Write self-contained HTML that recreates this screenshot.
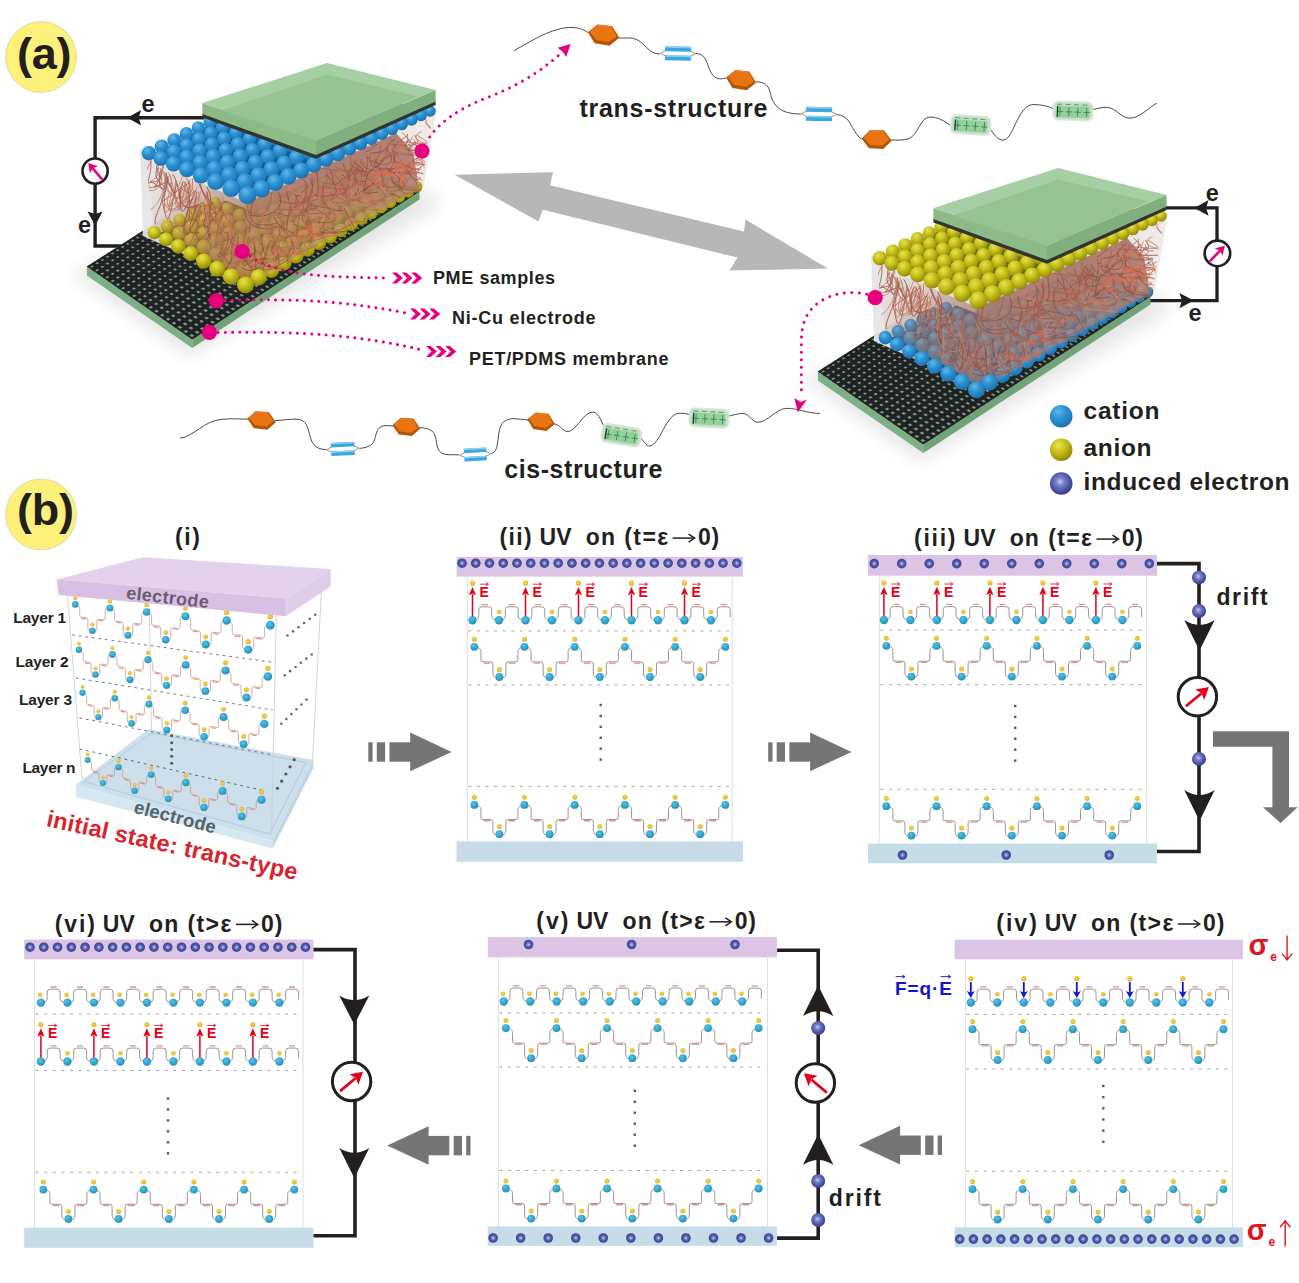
<!DOCTYPE html>
<html><head><meta charset="utf-8"><title>figure</title>
<style>html,body{margin:0;padding:0;background:#fff}svg{display:block}text{font-family:"Liberation Sans",sans-serif}</style></head>
<body><svg width="1299" height="1283" viewBox="0 0 1299 1283">
<defs>
<radialGradient id="gb" cx="40%" cy="35%" r="70%"><stop offset="0" stop-color="#5cc2e2"/><stop offset="0.6" stop-color="#2fa3cb"/><stop offset="1" stop-color="#258fb8"/></radialGradient>
<radialGradient id="gy" cx="45%" cy="40%" r="65%"><stop offset="0" stop-color="#f3d44a"/><stop offset="0.7" stop-color="#e6bd33"/><stop offset="1" stop-color="#d9a52c"/></radialGradient>
<radialGradient id="ge" cx="50%" cy="50%" r="50%"><stop offset="0" stop-color="#d4d8f4"/><stop offset="0.28" stop-color="#7f88cc"/><stop offset="0.6" stop-color="#4a53a6"/><stop offset="1" stop-color="#3c4595"/></radialGradient>
<radialGradient id="ge2" cx="45%" cy="42%" r="58%"><stop offset="0" stop-color="#c9cdf0"/><stop offset="0.3" stop-color="#7a83c8"/><stop offset="0.75" stop-color="#4750a4"/><stop offset="1" stop-color="#353d8a"/></radialGradient>
<filter id="blur8" x="-20%" y="-20%" width="140%" height="140%"><feGaussianBlur stdDeviation="9"/></filter>
<clipPath id="clipmesh"><polygon points="86.9,266.5 192.3,339.4 419.5,191.6 312,123"/></clipPath>
<clipPath id="clipfib"><polygon points="146,156 247,199 433,113 421,190 246,287 152,231"/></clipPath>
<linearGradient id="gfl" gradientUnits="userSpaceOnUse" x1="152" y1="172" x2="236" y2="232"><stop offset="0" stop-color="#b17767" stop-opacity="0"/><stop offset="0.3" stop-color="#b17767" stop-opacity="0.16"/><stop offset="1" stop-color="#a9705f" stop-opacity="0.72"/></linearGradient><linearGradient id="gfr" gradientUnits="userSpaceOnUse" x1="333" y1="160" x2="348" y2="232"><stop offset="0" stop-color="#ad7a6c" stop-opacity="0.95"/><stop offset="0.45" stop-color="#ad7a6c" stop-opacity="0.88"/><stop offset="1" stop-color="#a8786b" stop-opacity="0.55"/></linearGradient><linearGradient id="gglass" gradientUnits="userSpaceOnUse" x1="140" y1="190" x2="250" y2="230"><stop offset="0" stop-color="#e5e4e4" stop-opacity="0.95"/><stop offset="1" stop-color="#f1efee" stop-opacity="0.9"/></linearGradient>
<radialGradient id="gB" cx="38%" cy="30%" r="78%"><stop offset="0" stop-color="#62b8ea"/><stop offset="0.4" stop-color="#2e94d4"/><stop offset="0.85" stop-color="#1e76b6"/><stop offset="1" stop-color="#175f98"/></radialGradient>
<radialGradient id="gY" cx="38%" cy="30%" r="78%"><stop offset="0" stop-color="#e6e352"/><stop offset="0.4" stop-color="#c9c21a"/><stop offset="0.85" stop-color="#98910c"/><stop offset="1" stop-color="#7a7406"/></radialGradient>
<g id="dmesh"><polygon points="70,272 190,356 440,205 430,190" fill="#000" opacity="0.10" filter="url(#blur8)"/>
<polygon points="86.9,266.5 192.3,339.4 192.3,347.9 86.9,275.5" fill="#7db085" />
<polygon points="192.3,339.4 419.5,191.6 419.5,199.6 192.3,347.9" fill="#70a478" />
<polygon points="86.9,266.5 192.3,339.4 419.5,191.6 312,123" fill="#82938a" />
<path d="M192.3,339.4L86.9,266.5 M197.55,335.99L92.1,263.19 M202.76,332.6L97.26,259.89 M207.94,329.22L102.4,256.62 M213.1,325.87L107.5,253.37 M218.22,322.54L112.58,250.13 M223.31,319.23L117.62,246.92 M228.37,315.94L122.63,243.72 M233.4,312.66L127.62,240.54 M238.4,309.41L132.57,237.38 M243.37,306.18L137.49,234.25 M248.31,302.97L142.39,231.13 M253.22,299.77L147.25,228.02 M258.1,296.6L152.09,224.94 M262.95,293.44L156.9,221.88 M267.77,290.3L161.67,218.83 M272.56,287.19L166.42,215.81 M277.33,284.09L171.14,212.8 M282.06,281.01L175.83,209.8 M286.77,277.94L180.5,206.83 M291.45,274.9L185.13,203.88 M296.1,271.87L189.74,200.94 M300.73,268.87L194.32,198.02 M305.32,265.88L198.88,195.12 M309.89,262.91L203.4,192.23 M314.43,259.95L207.9,189.36 M318.94,257.02L212.37,186.51 M323.43,254.1L216.82,183.68 M327.89,251.2L221.24,180.86 M332.32,248.31L225.63,178.06 M336.73,245.45L229.99,175.28 M341.11,242.6L234.33,172.51 M345.46,239.77L238.64,169.76 M349.79,236.95L242.93,167.03 M354.09,234.15L247.19,164.31 M358.36,231.37L251.43,161.61 M362.61,228.61L255.64,158.93 M366.84,225.86L259.82,156.26 M371.04,223.13L263.98,153.61 M375.21,220.41L268.12,150.97 M379.36,217.71L272.23,148.35 M383.48,215.03L276.32,145.75 M387.58,212.36L280.38,143.16 M391.66,209.71L284.41,140.59 M395.71,207.08L288.43,138.03 M399.73,204.46L292.41,135.49 M403.73,201.86L296.38,132.96 M407.71,199.27L300.32,130.45 M411.66,196.7L304.24,127.95 M415.59,194.14L308.13,125.47 M419.5,191.6L312,123" stroke="#1f2422" stroke-width="3.3" fill="none" clip-path="url(#clipmesh)"/>
<path d="M192.3,339.4L419.5,191.6 M186.24,335.21L413.32,187.65 M180.23,331.05L407.19,183.75 M174.29,326.94L401.13,179.88 M168.41,322.88L395.13,176.05 M162.58,318.85L389.19,172.26 M156.82,314.86L383.31,168.51 M151.11,310.91L377.49,164.79 M145.46,307L371.72,161.11 M139.86,303.13L366.02,157.47 M134.32,299.3L360.37,153.87 M128.84,295.51L354.78,150.3 M123.41,291.75L349.24,146.76 M118.04,288.04L343.76,143.27 M112.72,284.36L338.33,139.8 M107.45,280.71L332.96,136.37 M102.23,277.11L327.64,132.98 M97.07,273.53L322.37,129.62 M91.96,270L317.16,126.29 M86.9,266.5L312,123" stroke="#1f2422" stroke-width="3.9" fill="none" clip-path="url(#clipmesh)"/></g>
<g id="dglass"><polygon points="140,150 247,196 247,282 143,236" fill="url(#gglass)" /><polygon points="247,196 437,108 424,186 247,282" fill="#e9e5e3" opacity="0.8"/></g>
<clipPath id="clipbot"><polygon points="142.9,167.2 247.5,209.2 438,125 428.8,199 245.5,298.8 142.3,242.7"/></clipPath>
<g id="dbot"><polygon fill="currentColor" clip-path="url(#clipbot)" points="158.21,233.63 246.67,284.16 412.84,189.3 320.88,153.41"/><circle cx="359.92" cy="164.8" r="5.36"/><circle cx="351.45" cy="169.24" r="5.46"/><circle cx="373.43" cy="170.07" r="5.42"/><circle cx="342.74" cy="173.82" r="5.56"/><circle cx="364.94" cy="174.63" r="5.52"/><circle cx="387.41" cy="175.53" r="5.48"/><circle cx="333.77" cy="178.52" r="5.66"/><circle cx="356.2" cy="179.31" r="5.63"/><circle cx="378.88" cy="180.19" r="5.59"/><circle cx="401.86" cy="181.17" r="5.54"/><circle cx="324.55" cy="183.36" r="5.76"/><circle cx="347.2" cy="184.13" r="5.74"/><circle cx="370.12" cy="184.99" r="5.71"/><circle cx="393.31" cy="185.95" r="5.66"/><circle cx="416.8" cy="187" r="5.6"/><circle cx="315.06" cy="188.34" r="5.87"/><circle cx="337.95" cy="189.08" r="5.86"/><circle cx="361.09" cy="189.92" r="5.83"/><circle cx="384.51" cy="190.86" r="5.79"/><circle cx="408.22" cy="191.9" r="5.74"/><circle cx="305.29" cy="193.46" r="5.98"/><circle cx="328.43" cy="194.18" r="5.98"/><circle cx="351.81" cy="195" r="5.96"/><circle cx="375.46" cy="195.92" r="5.92"/><circle cx="399.4" cy="196.94" r="5.87"/><circle cx="272.07" cy="198.13" r="6.08"/><circle cx="295.25" cy="198.73" r="6.09"/><circle cx="318.64" cy="199.43" r="6.1"/><circle cx="342.27" cy="200.23" r="6.09"/><circle cx="366.15" cy="201.12" r="6.06"/><circle cx="390.32" cy="202.12" r="6.02"/><circle cx="215.09" cy="202.72" r="6.09"/><circle cx="261.47" cy="203.58" r="6.19"/><circle cx="284.92" cy="204.15" r="6.21"/><circle cx="308.57" cy="204.83" r="6.22"/><circle cx="332.44" cy="205.6" r="6.22"/><circle cx="356.57" cy="206.48" r="6.2"/><circle cx="380.97" cy="207.45" r="6.16"/><circle cx="203.62" cy="208.38" r="6.19"/><circle cx="227.02" cy="208.73" r="6.25"/><circle cx="250.56" cy="209.18" r="6.3"/><circle cx="274.28" cy="209.73" r="6.33"/><circle cx="298.2" cy="210.38" r="6.35"/><circle cx="322.34" cy="211.13" r="6.35"/><circle cx="346.72" cy="211.99" r="6.34"/><circle cx="371.36" cy="212.94" r="6.32"/><circle cx="191.81" cy="214.2" r="6.29"/><circle cx="215.51" cy="214.52" r="6.36"/><circle cx="239.34" cy="214.94" r="6.41"/><circle cx="263.35" cy="215.47" r="6.46"/><circle cx="287.54" cy="216.09" r="6.48"/><circle cx="311.94" cy="216.82" r="6.49"/><circle cx="336.58" cy="217.65" r="6.49"/><circle cx="361.48" cy="218.59" r="6.47"/><circle cx="179.66" cy="220.2" r="6.39"/><circle cx="203.66" cy="220.48" r="6.47"/><circle cx="227.8" cy="220.88" r="6.53"/><circle cx="252.1" cy="221.37" r="6.58"/><circle cx="276.57" cy="221.97" r="6.62"/><circle cx="301.24" cy="222.67" r="6.64"/><circle cx="326.15" cy="223.48" r="6.64"/><circle cx="351.3" cy="224.39" r="6.63"/><circle cx="167.16" cy="226.36" r="6.49"/><circle cx="191.48" cy="226.62" r="6.58"/><circle cx="215.93" cy="226.98" r="6.66"/><circle cx="240.52" cy="227.44" r="6.72"/><circle cx="265.28" cy="228.02" r="6.76"/><circle cx="290.24" cy="228.69" r="6.79"/><circle cx="315.41" cy="229.48" r="6.8"/><circle cx="340.84" cy="230.37" r="6.8"/><circle cx="154.3" cy="232.7" r="6.6"/><circle cx="178.95" cy="232.92" r="6.7"/><circle cx="203.71" cy="233.26" r="6.78"/><circle cx="228.61" cy="233.69" r="6.85"/><circle cx="253.67" cy="234.24" r="6.9"/><circle cx="278.92" cy="234.89" r="6.94"/><circle cx="304.37" cy="235.65" r="6.96"/><circle cx="330.07" cy="236.52" r="6.97"/><circle cx="166.05" cy="239.41" r="6.82"/><circle cx="191.14" cy="239.71" r="6.91"/><circle cx="216.36" cy="240.12" r="6.99"/><circle cx="241.72" cy="240.64" r="7.05"/><circle cx="267.27" cy="241.26" r="7.1"/><circle cx="293.02" cy="242" r="7.13"/><circle cx="318.99" cy="242.84" r="7.14"/><circle cx="178.21" cy="246.36" r="7.05"/><circle cx="203.75" cy="246.74" r="7.13"/><circle cx="229.43" cy="247.22" r="7.2"/><circle cx="255.28" cy="247.82" r="7.26"/><circle cx="281.33" cy="248.53" r="7.3"/><circle cx="307.6" cy="249.35" r="7.32"/><circle cx="190.78" cy="253.54" r="7.28"/><circle cx="216.79" cy="254" r="7.36"/><circle cx="242.96" cy="254.57" r="7.43"/><circle cx="269.31" cy="255.25" r="7.47"/><circle cx="295.87" cy="256.04" r="7.51"/><circle cx="203.78" cy="260.97" r="7.52"/><circle cx="230.27" cy="261.51" r="7.6"/><circle cx="256.94" cy="262.16" r="7.65"/><circle cx="283.81" cy="262.93" r="7.7"/><circle cx="217.22" cy="268.65" r="7.77"/><circle cx="244.22" cy="269.27" r="7.84"/><circle cx="271.4" cy="270.01" r="7.89"/><circle cx="231.12" cy="276.59" r="8.03"/><circle cx="258.63" cy="277.3" r="8.09"/><circle cx="245.5" cy="284.8" r="8.3"/></g>
<g id="dbotf"><circle cx="154.3" cy="232.7" r="6.6"/><circle cx="166.05" cy="239.41" r="6.82"/><circle cx="178.21" cy="246.36" r="7.05"/><circle cx="190.78" cy="253.54" r="7.28"/><circle cx="203.78" cy="260.97" r="7.52"/><circle cx="217.22" cy="268.65" r="7.77"/><circle cx="231.12" cy="276.59" r="8.03"/><circle cx="258.63" cy="277.3" r="8.09"/><circle cx="245.5" cy="284.8" r="8.3"/></g>
<g id="dfib"><g clip-path="url(#clipfib)">
<polygon points="247,203 396,133 413,152 419,188 246,285" fill="url(#gfr)" />
<polygon points="148,160 247,203 246,278 154,228" fill="url(#gfl)" />
<path d="M189.36,180.81C190.3,201.13 169.91,218.88 164.94,203.83 M231.67,202.97C235.82,226.06 233.81,235.94 206.02,250.42 M175.76,180.95C170.8,205.75 190.69,225.52 172.73,191.7 M205.58,207C203.38,228.08 213.24,243.23 223.9,232.27 M260.89,242.17C246.99,262.93 254.54,286.19 238.19,275.48 M321.51,185.6C331.76,191.39 296.24,202.09 334.46,194.16 M354.13,181.59C338.54,189.06 329.44,197.67 332.86,202.59 M328.65,212.8C326.69,232.34 332.31,235.95 310.68,233.4 M266.31,206.72C277.16,218.6 273.29,225.14 274.52,213.95 M417.23,135.22C425.56,141.79 442.77,146.52 392.56,140.78 M364.89,183.45C367.51,196.23 348.33,204.26 360.68,196.03 M304.22,234.26C294.97,254.1 284.35,260.25 317.52,245.23 M332.13,186.74C323.15,191.99 306.94,195.17 343.6,190.89 M372.34,179.3C361.26,201.39 395.19,212.11 359.78,201.25 M266.2,222.26C266.62,239.59 281.16,254.78 269.94,246.71 M278.95,238.7C274.93,252.94 253.19,260.43 275.56,253.3 M249.61,260.23C260.13,283.32 247.73,287.98 246.13,278.17 M402.46,133.13C416.01,141.71 398.41,152.92 394,145.75 M393.32,161.77C401.43,175.36 408.14,187.68 419.2,169.4 M357.94,175.25C355.76,191.42 334.06,205.82 355.01,181.58 M388.85,188.65C378.13,201.33 389.46,214.39 369.39,198.51 M307.56,232.99C304.8,253.47 297.51,262.93 276.61,246.09 M361.5,186.95C353.33,197.48 337.21,210.47 383.92,210.01 M274.88,225.92C286.33,235.58 270.63,239.67 299.02,243.92 M251.46,246.14C258.04,258.07 265.82,259.76 232.01,262.97 M404.01,174.59C418.8,188 379.94,191.15 421.3,184.57 M282.23,224.6C285.2,232.43 292.55,238.42 254.05,236.8 M407.48,134.22C405.24,141.7 417.12,147.44 422.34,145.75 M288.12,234.92C303.02,246.84 292.29,245.39 269.59,249.5 M363.25,160.92C362.15,176.46 359.61,184.49 339.19,181.1 M253.56,236.32C250.92,255.57 231.53,264.09 268.18,249.38 M304.45,225.8C293.5,238.43 324.17,250.19 304.21,248.68" stroke="#b86d58" stroke-width="1" fill="none" opacity="0.85" stroke-linecap="round"/>
<path d="M181.04,183.46C192.85,195.88 184.69,196.32 185.55,188.3 M165.06,172.75C164.96,194.76 177.25,206.95 187.41,191.78 M185.49,183.5C184.48,199.91 168.65,210.65 199.66,196.47 M207.35,214.95C208.44,232.13 213.35,245.12 222.57,240.09 M158.15,164.47C154.56,177.45 179.49,186.67 133.57,189.79 M170.04,174.84C178.09,200.98 173.74,216.47 179.7,202.5 M180.43,186.54C179.38,205.72 161.81,216.96 169.2,192.84 M162.53,166.6C157.37,182.6 141.08,184.04 150.33,186.81 M239.65,250.4C231.53,262.37 232.7,273.08 225.88,264.49 M184.89,181.73C185.59,209.86 164.18,223.28 192.8,193.71 M183.24,188.24C170.14,208.38 201.56,217.37 206.64,194.76 M232.98,233.15C228.22,252.61 245.4,259.35 217,265.62 M229.49,208.49C223,220.68 226.83,228.65 215.53,220.53 M189.6,186.45C182.51,224.98 196.35,251.82 168.6,218.18 M201.13,190.2C190.72,218.18 206.41,224.38 194.2,204.85 M246.09,238.98C252.56,263.8 242.31,259.42 260.17,267.14 M255.53,257.03C259.28,275.44 237.86,284.73 238.19,270.57 M335.89,212.1C340.67,216.61 310.02,223.88 311.33,219.13 M366.65,184.34C360.27,208.47 387.14,204.9 367.11,194.95 M310.58,178.91C325.15,197.51 334.35,207.27 315.44,189.11 M363.18,189.19C371.72,197.61 343.74,201.71 387.22,194.76 M293.52,226.39C300.48,254.84 305.12,261.13 284.07,240.44 M331.45,171.64C338.97,192.11 327.81,197.27 347,186.21 M408.32,144.49C421.05,147.75 395.38,151.22 421.81,153.34 M391.17,144.49C399.95,162.92 411.65,175.66 412.31,154.89 M294.29,231.73C307.2,248.52 272.71,264.79 312.84,244.51 M331.51,184.73C327.76,195.92 347.51,209.41 355.98,197.07 M340.26,179.04C354.17,185.34 335.56,198.34 317.38,192.4 M378.58,143.93C378.6,149.56 358.92,154.72 355.92,152.55 M355.2,183.94C361.76,197.9 357.7,209.4 353.26,195.74 M315.62,188.42C313.62,201.33 301.68,217.31 305.02,214.19 M250.87,245.54C247.77,267.01 229.95,267.64 236.57,265.13 M375.95,187.18C362.04,202.78 372.22,208.97 402.66,194.44 M342.96,210.96C341.13,219.51 328.77,234.41 324.41,226.84 M264.21,246.43C278.57,261.23 278.51,263.79 281.45,252.69 M255.63,201.58C254.38,214.47 236.68,242.55 229.91,237.03 M338.23,190.03C348.11,199.66 330.73,206.12 344.66,194.62 M283.43,235.57C282.45,261.8 273.78,262.91 282.4,248.58 M265.41,239.81C262.34,251.08 242.53,254.26 259.79,254.21 M264.64,205.23C259.63,231.38 275.89,244.13 294.57,213.03 M401.32,172.39C393.18,187.62 426.73,200.51 415.67,199.86 M292.29,232.18C295.09,253.9 318.26,255.91 308.35,250.41 M414.32,139.81C413.07,145.15 432.41,154.39 384.08,149.05 M366.39,158.7C353.06,172.75 341.31,186.27 390.69,182.69" stroke="#c07a66" stroke-width="1" fill="none" opacity="0.85" stroke-linecap="round"/>
<path d="M158.34,167.76C148.25,180.8 172.25,188.1 162.65,188.18 M172.94,174.62C185.14,192.42 175.5,231.01 189.75,199.42 M196.41,204.7C193.81,220.66 180.43,235.91 199.06,232.53 M231.63,234.07C232.1,255.75 210.91,262.05 219.99,252.55 M203.87,203.83C208.11,239.75 216.3,253.8 202.71,220.14 M198.95,183.71C206.91,201.73 214.62,217.45 218.1,213.39 M227.52,231.92C231.8,249.44 212.08,265.48 224.16,244.76 M244.99,209.75C242.17,224.67 261.86,230.46 271.26,228.58 M278.43,192.41C287.55,209.6 268.12,219.39 249.95,215.17 M274,245.29C262.88,257.06 295.83,260.77 259.2,258.2 M361.44,169.27C363.94,192.44 340.88,206.65 369.54,185.38 M269.66,241.19C264.56,255.33 261.91,279.22 241.48,267.72 M368.16,172.54C363.73,190.72 358.82,198.36 375.86,180.32 M398.13,151.94C384.88,163.19 405.21,163.16 404.97,165.51 M394.93,138.81C383.84,146.92 390.54,152.3 369.62,153.32 M303.71,179.9C317,193.76 278.2,199.31 306.24,194.59 M392.65,150.19C401.38,166.22 379.46,175.58 392.23,169.85 M353.5,165.09C340.92,182.57 358.34,197.31 330.46,194.3 M409.43,163.19C401.11,166.86 431.32,172.82 389.63,172.56 M343.03,163.7C344.95,175.74 362.78,187.89 342.2,175.03 M368.35,186.72C364.19,190.86 358.5,195.37 378.08,192.07 M290.4,206.15C284.45,230.79 289.59,242.08 274.39,217.47 M254.13,243.78C255.58,274.45 261.28,279.99 238.51,253.46 M382.15,184.39C386.46,196.11 404.34,195.76 399.91,198.4 M366.76,154.5C370.94,176.76 352.33,186.59 378.7,164.26 M344.54,208.69C352.19,223.95 358.24,241.39 364.86,218.36 M417.8,153.56C429.52,158.35 398.91,160.81 420.11,162.72 M261.98,234.11C258.84,262.97 281.39,257.18 250.55,261.22 M329.5,217.69C318.15,231.75 308.09,236.51 352.71,230.18 M326.27,174C335.78,187.65 347.73,198.7 313.95,195.87 M358.03,171.6C353.88,179.21 347.38,181.4 367.28,181.45 M252.26,238.22C266.12,266.1 228.86,273.71 249.11,255.88 M354.64,162.83C363.59,168.66 369.65,175.54 355.36,168.99 M386.94,148.42C393.45,158.48 361.09,182.46 358.09,167.14" stroke="#8e4b3c" stroke-width="1" fill="none" opacity="0.85" stroke-linecap="round"/>
<path d="M230.69,227.75C231.35,247.68 240.78,248.64 256.04,235.71 M206.4,192.92C217.7,221.37 223.68,219.88 203.63,212.85 M192.51,178.87C192.58,191.73 192.72,198.24 180.06,187.6 M213.32,202.22C202.35,224.87 228.87,222.38 234.06,226.28 M151.07,160.78C141.59,177.14 142.98,199.06 124.77,188.54 M167.79,177.23C162.24,198.81 163.08,230.46 172.5,198.92 M229.93,214.82C227.29,228.9 232.32,228.59 207.79,232.88 M163.5,171.93C165.33,177.69 172.96,193.18 170.18,183.17 M205.56,205.88C209.98,231.46 193.54,226.69 197.01,223.87 M223.36,200.66C218.69,226.09 222.24,237.9 210.05,227.3 M197.33,198.41C188.37,216.8 179.95,221.45 203.9,211.54 M230.76,220.9C227.99,232.59 236.88,234.21 213,236.28 M300.18,235.37C312.52,259.8 313.03,262.24 287.13,261.05 M369.38,185.66C365.12,193.89 386,198.84 342.3,196.05 M318.88,192.3C331,203.45 303.6,219.34 343.92,213.74 M259.35,254.31C261.86,266.04 249.14,282.11 287.66,286.64 M331.11,173.1C340.42,187.24 338.51,209.91 350.75,184.4 M331.47,180.34C341.89,192.58 349.71,199.83 323.75,190.66 M285.38,189.42C287.83,204.99 269.03,208.08 303.16,197.28 M331.32,193.57C329.3,209.58 334.13,227.9 318.4,220.58 M283.46,196.93C285.25,208.21 281.29,214.85 309.04,200.78 M392.58,143.24C396.28,156.7 405.53,172.75 421.15,169.26 M272.74,226.14C282.91,253.56 266.96,256.53 293.94,248.27 M425.01,122.42C435.58,132.73 442.85,137.14 455.33,129.58 M252.55,240.76C245.49,253.43 274.62,262.35 236.99,254.43 M247.11,251.41C261.55,270.57 242.84,286.4 270.37,273.83 M350.3,191.85C351.96,198.58 357.93,206.12 381.32,202.1 M316.7,170.87C312.43,187.62 336.02,199.59 326.14,205.59 M263.56,212.01C261.79,240.17 279.42,239.29 254.38,242.52 M352.59,174.09C343.62,186.41 332.98,189.29 355.25,181.06 M348.03,175.99C334.48,186.59 333.8,191.71 361.55,185.89 M397.97,156.66C409.3,174.01 381.14,175.18 416.65,173.66 M313.75,209.55C302.4,225.92 331.32,225.76 286.15,215.71 M256.43,237.03C243.75,250.77 237.85,275.56 230.84,267.96 M297.68,199.03C305.33,209.48 293.62,221.27 290.38,206.75 M425.77,119.49C426.08,133.3 451.49,136.64 433.85,137.89 M382.86,159.73C395.38,174.32 358.19,180.28 380.53,171.98" stroke="#c8705a" stroke-width="1" fill="none" opacity="0.85" stroke-linecap="round"/>
<path d="M213.98,209.4C225.72,228.13 221.2,231.59 224.61,234.43 M211.59,206.04C200.25,227.5 206.14,258.13 235.64,242.25 M163.72,173.44C170.15,188.75 148.71,226.91 138.78,203.52 M160.45,168.68C167.75,196.59 140.95,195.58 136.28,179.15 M211.15,213.46C214.12,242.07 211.68,266.03 208.63,245.89 M197.18,187.3C187.14,209.6 178.49,219.6 213.65,210.27 M168.64,172.76C181,197.96 149.86,226.33 191.25,201.54 M244.84,215.4C245.43,229.53 264.27,238.17 252.62,233.29 M222.8,196.9C224.99,207.08 210.64,216.69 196.95,205.99 M351.31,177.93C349.39,186.31 357.49,201.97 334.79,199.74 M358.02,198.93C350.66,207.82 365.56,226.18 348.68,219.76 M257.79,237.08C257.11,262.49 251.3,275.56 283.52,248.88 M420.91,153.46C423.84,170.75 426.39,170.1 426,170.02 M341.92,164.35C348.69,178.61 349.16,192.5 343.27,177.9 M340.02,201.3C341.74,210.85 326.2,216.4 339.59,206.75 M384.09,187.04C388.04,201.94 389.09,210.22 366.15,203.9 M402.76,165.65C396.91,178.76 426.56,189.7 409.56,175.55 M357.67,194.54C352.84,202.48 332.74,203.34 388.28,207.21 M396.04,166.13C406.12,176.3 402.71,179.07 378.67,170.76 M347.88,163.95C345.13,176.27 335.98,199.93 337.55,174.85 M412.59,136.79C402.61,150.84 423.59,151.52 386.33,142.33 M311.54,187.18C320.25,212.71 315.51,226.78 298.53,197.13 M413.92,147.42C426.88,158.63 402.17,167.26 428.92,155.6 M295.7,239.07C285.05,246 315,257.03 268.37,249.67 M397.1,168.9C392.52,177.52 402.07,184.04 366.33,181.09 M358.58,182.79C349.36,195.62 367.69,203.29 389.65,194.7 M302.48,183.63C291.91,194.59 306.08,199.86 306.07,188.59 M404.03,178.12C393.34,186.68 408.25,190.45 415.76,184.42 M415.91,172.55C402.18,185.73 421.58,188.62 420.35,192.42 M309.34,182.74C318.71,190.98 292.82,211.04 320.54,196.07 M291.43,216.55C278.13,229.02 313.52,246.55 279.22,231.78 M387.07,153.94C385.61,165.67 388.28,185.04 364.1,159.47 M368.41,150.99C375.16,163.5 371.45,176.14 364.82,169.26 M381.11,140.77C391.2,144.41 366.54,150.66 362.43,144.98 M318.07,211.97C308.09,224.5 298.54,223.7 341.78,226.61 M383.79,177C374.48,184.28 360.4,192.44 404.6,193.09 M377.28,145.46C392.35,150.47 383.43,161.34 396.92,152.87" stroke="#b98878" stroke-width="1" fill="none" opacity="0.85" stroke-linecap="round"/>
<path d="M221.48,207.1C212.27,223.8 200.01,236.26 204.7,218.4 M168.12,176.76C167.7,195.53 150.62,220.86 155.7,224.01 M209.63,214.64C220.13,227.42 223.49,233.07 226.9,232.92 M200.49,184.46C204.96,203.08 217.96,203.09 211.9,204.05 M206.8,187.25C219.26,206.44 196.49,221.21 221.53,209.92 M232.74,236.54C230.26,260.98 233.39,275.11 223.61,254.74 M183.2,181.49C177.38,195.86 177.27,217.73 203.06,202.26 M238.15,236.54C238.79,252.8 231.03,257.75 226.4,268.96 M234.42,241.19C224.36,248.88 255.23,259.71 257.13,250.89 M195.74,190.78C186.67,209.63 177.72,240.81 188.6,234.04 M393.32,176.96C388.91,185.58 409.04,193.07 403.12,181.11 M409.21,139.66C398.5,152.13 408.32,150.19 431.59,150.24 M391.59,175.97C388.61,182.12 400.95,193.58 422.36,189.37 M286.78,191.74C288.94,205.7 299.48,222.4 278.41,212.94 M386.35,167.88C401.14,178.32 403.38,180.68 392.96,183.61 M305.05,191.7C313.27,203.17 294.06,203.05 329.43,208.19 M387.05,149.91C399.06,162.53 385.83,171.36 367.65,157.87 M395.69,151.91C388.94,158.03 371.51,166.51 385.8,156.65 M377.79,144.05C368.37,148.98 371.59,150.86 365.99,151.81 M310.48,178.76C316.29,194.84 309.59,209.05 279.65,201.06 M415.54,142.13C404.37,150.71 406.89,158.2 418.55,154.05 M323.81,183.45C321.35,197.14 320.62,212.62 344.16,210.39 M316.68,170.68C318.79,188.69 318.91,201.36 312.21,191.84 M375.96,160.74C387.93,178.76 376.16,190.37 395.26,186.74 M309.21,219.32C295.72,232.2 329.96,237.5 294.08,224.51 M252.63,201.68C248.08,218.46 248.76,229.49 276.3,223.38 M367.96,178.91C379.91,187.3 387.91,195.82 385.42,197.36 M329.83,169.33C335.92,180.78 328.71,192.88 345.98,176.31 M312.12,203.01C307.13,212.06 287.05,216.3 316.53,207.55 M277.67,244.9C277.62,263.78 286.77,267.93 259.64,270.71 M376.83,158.98C367.92,171.23 385.43,170.68 406.42,166.3 M334.02,212.82C333.65,220.87 337.68,224.55 317.12,222.08 M406.49,167.01C410.4,182.83 421.39,181.35 420.06,177.5" stroke="#96503f" stroke-width="1" fill="none" opacity="0.85" stroke-linecap="round"/>
<path d="M198.36,191.56C203.39,213.29 203.54,230.74 174.81,227.39 M208.53,203.32C200.17,208.97 221.69,216.47 207.13,217.9 M182.32,176.84C171.6,203.05 167.48,212.17 167.73,203.85 M216.91,209.81C221.46,220.96 230.27,240.47 192.46,215.31 M210.22,193.16C199.82,218.4 207.23,225.07 227.89,211.46 M228.23,226.65C231.37,240.16 242.53,263.99 228.92,246.37 M185.99,177.52C199.03,195.65 204.32,220.08 163.53,187.52 M249.18,236.82C236.36,257.77 242.46,267.77 227.08,251.45 M276.64,249.96C264.89,265.47 298.75,274.21 261.87,255 M399.96,142.09C390.35,148.35 405.23,152.57 421.92,153.96 M414.09,175.02C406.47,181.19 435.03,189.82 435.13,178.1 M290.42,185.08C280.03,190.35 314.29,203.47 315.46,189.35 M421.24,131.91C405.97,137.42 424.62,147.22 447.47,145.86 M319.97,211.91C311.26,233.48 312.12,256.67 316.39,229.98 M421.32,159.19C436.3,165.05 400.98,168.18 417.22,162.73 M361.21,171.65C360.57,185.48 354.58,192.57 368.13,200.94 M403.2,143.16C395.44,149.23 406,151.37 407.73,146.4 M408.56,156.56C417.93,166.2 408.73,180.3 429.69,181.72 M293.18,193C295.72,202.07 268.27,209.93 311.94,201.85 M326.07,222.52C331.4,228.03 314.28,233.87 311.22,230.79 M390.79,148.37C377.44,169.44 382.55,170.42 412.83,159.05 M263.85,245.32C267.87,267.06 288.76,295.82 271.63,258.26 M295.45,184.48C292.58,192.43 288.31,192.82 307.19,194.42 M371.99,152.98C357.7,161.22 361.26,161.47 377.11,158.2 M305.64,190.12C298.04,211.82 294.38,216.26 336.1,216.08 M392.35,187.16C380.17,197.86 372.63,205.43 374.73,194.39" stroke="#d27f68" stroke-width="1" fill="none" opacity="0.85" stroke-linecap="round"/>
<path d="M195.89,190.73C184.34,198.01 183.08,205.95 187.45,196.01 M200.96,209.66C197.38,232.04 188.94,248.84 185.35,247.81 M187.79,181.36C197.87,198.97 171.94,212.99 213.23,204.4 M220.89,203.12C220,216.45 238.21,229.82 246.13,238.34 M221.81,213.39C211.06,248.74 216.74,260.03 218.22,234.63 M166.47,173.13C166.08,203.77 146.95,211.95 188.75,183.01 M185.02,182.5C197.27,204.04 178.71,240.81 202.02,211.63 M157.48,163.46C151.07,177.15 175.02,179.79 145.46,183.09 M246.99,205.1C255.3,237.09 242.99,242.21 253.38,216.93 M397.87,142.06C398.43,148.96 378.27,152.56 411.9,154.93 M314.57,183.04C307.65,193.66 308.17,207.67 299.87,201.7 M349.86,164.5C353.67,168.94 374.69,176.39 320.59,168.12 M383.3,171.29C390.97,185.34 358.93,189.73 358.24,182.93 M344.6,169.56C354.58,182.13 318.67,193.1 360.96,201.62 M283.61,227.34C271.83,246.61 276.09,242.76 269.53,239.98 M274.38,208.8C276.39,220.22 297.39,231.49 264.71,225.26 M390.94,137.84C392.36,146.12 380.56,153.23 371.59,161.72 M348.73,169.87C343.06,179.33 356.1,191.16 320.94,181.87 M380.57,145.09C379.34,163.6 367.78,173.57 394.12,150.15 M355.45,169.4C351.61,182.92 360.75,193.35 374.64,178.38 M272.07,230.59C272.41,244.42 287.13,261.52 258.75,243.53 M385.57,147.57C389.57,152.64 375.58,155.32 397.56,155.44 M329.01,166.14C321,177.38 335.2,189.02 317.27,187.18 M305.85,187.35C303.37,202.72 331.72,214.23 277.56,217.68 M356.7,159.77C342.01,167.63 379.99,180.54 354.68,172.42 M309.21,200.34C321.4,213.74 333.11,219.92 316.71,209.39 M304.73,197.25C308.27,207.05 315.1,211.86 278.41,209 M409.28,171.71C412.04,181.16 435.14,195.21 394.85,184.06 M417.6,158.27C431.89,167.97 410.37,174.21 405.82,163.56 M360.55,162.97C358.93,171.16 349.25,172.85 335.56,167.28 M414.63,135.5C419.28,143.25 423.94,147.88 387.02,143.69 M307.35,214.78C322.37,235.91 293.31,249.71 326.91,235.71 M336.03,192.87C331.83,198.8 319.25,209.38 362.33,198.09 M308.41,215.95C299.46,234.24 329.26,236.11 290.44,236.07 M339.26,207.17C353.93,232.72 363.8,233 312.57,234 M338.99,205.84C349.03,214.89 346.3,224.56 363.58,221.11 M320.93,195.84C320.66,215.54 337.82,231.36 335.94,214.32 M350.49,157.7C349.95,166.78 360.42,181.28 355.73,185.37 M345.92,185.37C339.82,201.03 361.62,209.15 330.76,193.09 M283.25,225.59C289.79,240.48 305.63,257.95 280.53,256.36 M277.8,236.64C279.65,244.24 280.48,260.09 283.77,249.08" stroke="#a9614f" stroke-width="1" fill="none" opacity="0.85" stroke-linecap="round"/>
<path d="M207.16,191.99C212.18,232.29 218.52,233.45 214.71,206.51 M208.07,216.48C216.68,230.29 197.15,242.9 194.37,239.27 M196.96,192.03C193.42,206.66 195.14,223.91 190.85,211.19 M246.56,225.68C234.5,259.64 265.84,286.96 233.99,243.57 M161.65,170.06C150.68,189.85 177.96,197.58 150.14,180.87 M163.51,166.31C160.25,188.16 143.75,191.72 165.17,182.76 M151.01,160.9C151.94,189.67 131.91,208.51 137.92,172.76 M201.29,204.62C189.38,236.57 184.89,241.59 193.03,222.96 M176.56,183.78C168.78,219.37 168.28,233.3 162.35,200.88 M166.26,173.81C173.91,200.47 180.11,197.75 166.08,181.1 M401.32,174.37C395.83,185.73 399.02,199.84 418.67,190.88 M279.87,247.31C292.85,257.81 294.86,279.09 252.76,260.5 M292.2,241.15C300.45,256.28 275.39,271.52 264.01,266 M248.73,237C239.36,263.51 249.1,280.23 268.29,251.91 M291.27,239.53C296.19,255.88 273.12,267.85 278.92,257.53 M281.28,225.73C277.8,230.82 276.03,242.99 293.35,235.37 M406.54,164.39C409.65,173.71 388.88,175.45 418.76,172.74 M360.79,159.39C358.35,168.64 383.18,175.45 384,167.6 M332.5,172.54C346.67,186.48 348.2,204.87 349.86,193.05 M293.73,193.24C309.27,210.79 272.81,211.04 318.46,198.9 M307.59,185.81C304.36,206.59 290.03,217.74 296.61,198.36 M308.75,218.88C314.3,239.07 304.42,245.23 286.31,228.41 M349.37,167.87C362.65,182.59 353.29,194.78 325.15,186.66 M370.37,153.75C367.44,167.08 380.26,173.83 369.54,161.51 M353.58,160.92C366.15,170.6 337.95,184.76 358.06,168.69 M271.94,191.79C270.24,214.93 261.66,219.56 244.88,209.26 M312.07,176.35C317.05,204.02 289.81,218.19 322.32,212.79 M304.75,197.38C301.94,221.01 298.25,227.09 314.92,219.8 M301.24,209.94C293.92,229.68 302.55,244.01 275.58,221.45 M406.02,136.21C390.61,148.99 394.3,148.39 394.35,142.71 M331.19,212.83C318.35,222.71 319.29,243.16 352.74,223.03" stroke="#a35a48" stroke-width="1" fill="none" opacity="0.85" stroke-linecap="round"/>
<path d="M383.54,184.15C374.88,185.46 371.72,185.43 381.11,185.83 M366.52,183.85C382.28,177.45 381.4,172.86 377.7,175.73 M273.57,252.01C286.08,253.31 278.83,254.9 300.76,254.05 M400.81,185.66C397.02,171.4 417.24,166.93 392.1,163.38 M297.48,235.53C312.03,236.92 285.77,237.64 304.96,238.13 M394.79,177.7C382.04,171.62 369.77,168.82 392.33,175.3 M312.6,237.2C309.27,226.7 297.1,223.74 321.75,227.97 M397.95,173.69C385.98,167.34 416.91,158.61 431.11,167.73 M310.34,234.87C323.18,236.97 303.8,236.5 335.79,235.63 M300.3,230.67C306.65,229.09 314.38,228.57 312.26,230.06 M377.15,180.84C371.07,176.31 364.9,172.66 392.22,173.02 M401.91,182.89C401.67,168.09 372.99,157.11 429.85,176.12" stroke="#e0684a" stroke-width="1.4" fill="none" opacity="0.85" stroke-linecap="round"/>
</g></g>
<g id="dtop"><polygon fill="currentColor" points="153.01,154.05 248.65,194.79 425.68,113.12 316.07,70.44"/><circle cx="430" cy="111" r="5.8"/><circle cx="420.86" cy="115.22" r="5.96"/><circle cx="221.02" cy="116.22" r="6.4"/><circle cx="411.46" cy="119.55" r="6.13"/><circle cx="233.79" cy="121.44" r="6.55"/><circle cx="209.84" cy="121.95" r="6.54"/><circle cx="401.78" cy="124.02" r="6.29"/><circle cx="247.23" cy="126.94" r="6.71"/><circle cx="222.49" cy="127.16" r="6.7"/><circle cx="198.33" cy="127.85" r="6.68"/><circle cx="391.83" cy="128.61" r="6.47"/><circle cx="235.8" cy="132.64" r="6.86"/><circle cx="261.37" cy="132.72" r="6.87"/><circle cx="210.86" cy="133.04" r="6.85"/><circle cx="381.59" cy="133.33" r="6.65"/><circle cx="186.5" cy="133.92" r="6.83"/><circle cx="371.06" cy="138.19" r="6.83"/><circle cx="249.82" cy="138.4" r="7.04"/><circle cx="224.05" cy="138.5" r="7.03"/><circle cx="276.26" cy="138.81" r="7.05"/><circle cx="198.9" cy="139.09" r="7.01"/><circle cx="174.32" cy="140.17" r="6.98"/><circle cx="360.22" cy="143.19" r="7.02"/><circle cx="237.93" cy="144.25" r="7.21"/><circle cx="264.57" cy="144.48" r="7.22"/><circle cx="211.96" cy="144.54" r="7.19"/><circle cx="291.93" cy="145.22" r="7.23"/><circle cx="186.6" cy="145.32" r="7.17"/><circle cx="161.79" cy="146.59" r="7.14"/><circle cx="349.07" cy="148.34" r="7.22"/><circle cx="225.71" cy="150.27" r="7.39"/><circle cx="252.55" cy="150.3" r="7.41"/><circle cx="199.52" cy="150.75" r="7.37"/><circle cx="280.1" cy="150.87" r="7.42"/><circle cx="173.94" cy="151.73" r="7.34"/><circle cx="308.43" cy="151.97" r="7.42"/><circle cx="148.9" cy="153.2" r="7.3"/><circle cx="337.6" cy="153.63" r="7.42"/><circle cx="240.18" cy="156.3" r="7.6"/><circle cx="213.13" cy="156.46" r="7.57"/><circle cx="267.93" cy="156.67" r="7.61"/><circle cx="186.72" cy="157.13" r="7.54"/><circle cx="296.45" cy="157.6" r="7.62"/><circle cx="160.91" cy="158.32" r="7.51"/><circle cx="325.8" cy="159.08" r="7.63"/><circle cx="227.45" cy="162.47" r="7.79"/><circle cx="255.41" cy="162.65" r="7.81"/><circle cx="200.19" cy="162.82" r="7.76"/><circle cx="284.12" cy="163.38" r="7.83"/><circle cx="173.56" cy="163.7" r="7.73"/><circle cx="313.66" cy="164.68" r="7.84"/><circle cx="242.52" cy="168.8" r="8.02"/><circle cx="214.35" cy="168.81" r="7.99"/><circle cx="271.44" cy="169.33" r="8.04"/><circle cx="186.87" cy="169.37" r="7.95"/><circle cx="301.17" cy="170.44" r="8.06"/><circle cx="229.27" cy="175.12" r="8.23"/><circle cx="200.88" cy="175.34" r="8.2"/><circle cx="258.39" cy="175.46" r="8.26"/><circle cx="288.32" cy="176.37" r="8.28"/><circle cx="215.63" cy="181.63" r="8.45"/><circle cx="244.97" cy="181.76" r="8.49"/><circle cx="275.1" cy="182.47" r="8.52"/><circle cx="231.16" cy="188.24" r="8.72"/><circle cx="261.49" cy="188.74" r="8.75"/><circle cx="247.5" cy="195.2" r="9"/></g>
<g id="dplate"><polygon points="202.4,113.5 316,154.5 435.6,101.1 435.6,105 316,158.8 202.4,117.5" fill="#333431" />
<polygon points="202.4,103 316,141 316,155 202.4,114" fill="#8cbb88" />
<polygon points="316,141 435.6,90 435.6,101.6 316,155" fill="#7fb07e" />
<polygon points="202.4,103 327,63 435.6,90 316,141" fill="#a6d0a3" />
<polygon points="222,110.5 327,74.5 418,96.5 316,141" fill="#95c492" /></g>


</defs>
<rect width="1299" height="1283" fill="#fff"/>
<circle cx="41.1" cy="57" r="35.4" fill="#fdf17c" stroke="#d9d19c" stroke-width="0.8"/>
<text x="17.1" y="68.8" font-size="45" font-weight="bold" fill="#231f20" text-anchor="start" textLength="54.5" lengthAdjust="spacing" >(a)</text>
<polygon points="454.6,174.7 553,172.2 550,185.2 744,231.5 745.5,219.6 828,268.5 729.6,270.6 737.5,257.6 542.9,209.8 538.5,221.4" fill="#b7b7b7" />
<path d="M204,117.7H95.1V246H150" stroke="#231f20" stroke-width="3.4" fill="none" />
<g transform="translate(0,0)">
<use href="#dmesh"/>
<use href="#dglass"/>
<use href="#dbot" fill="url(#gY)" color="#6f6a08"/>
<use href="#dfib"/>
<use href="#dbotf" fill="url(#gY)"/>
<use href="#dtop" fill="url(#gB)" color="#155a8c"/>
<use href="#dplate"/>
</g>
<polygon points="127.2,117.7 141.2,110 138.6,117.7 141.2,125.4" fill="#231f20" />
<polygon points="95.1,225.7 87.6,211.4 95.1,214 102.6,211.4" fill="#231f20" />
<circle cx="95.1" cy="171.1" r="12.6" fill="#fff" stroke="#231f20" stroke-width="2.6"/>
<line x1="102.07" y1="179.4" x2="92.68" y2="168.22" stroke="#e6007e" stroke-width="2.6" />
<polygon points="88.3,162.99 98.02,166.35 92.72,168.26 89.91,173.15" fill="#e6007e" />
<text x="141.4" y="111.6" font-size="23.5" font-weight="bold" fill="#231f20" text-anchor="start" textLength="13.4" lengthAdjust="spacing" >e</text>
<text x="78" y="233.2" font-size="23.5" font-weight="bold" fill="#231f20" text-anchor="start" textLength="13.4" lengthAdjust="spacing" >e</text>
<path d="M1166,207.9H1217V300.6H1150" stroke="#231f20" stroke-width="3.3" fill="none" />
<g transform="translate(731,105)">
<use href="#dmesh"/>
<use href="#dglass"/>
<use href="#dbot" fill="url(#gB)" color="#155a8c"/>
<use href="#dfib"/>
<use href="#dbotf" fill="url(#gB)"/>
<use href="#dtop" fill="url(#gY)" color="#6f6a08"/>
<use href="#dplate"/>
</g>
<polygon points="1194.3,207.9 1208.6,200 1206,207.9 1208.6,215.8" fill="#231f20" />
<polygon points="1193.7,300.6 1179.4,292.9 1182,300.6 1179.4,308.3" fill="#231f20" />
<circle cx="1217.4" cy="253.4" r="12.8" fill="#fff" stroke="#231f20" stroke-width="2.6"/>
<line x1="1209.75" y1="261.32" x2="1220.03" y2="250.67" stroke="#e6007e" stroke-width="2.6" />
<polygon points="1224.87,245.67 1222.51,255.85 1220.01,250.69 1214.78,248.38" fill="#e6007e" />
<text x="1205.8" y="200.9" font-size="23.5" font-weight="bold" fill="#231f20" text-anchor="start" textLength="13.4" lengthAdjust="spacing" >e</text>
<text x="1188.5" y="320.6" font-size="23.5" font-weight="bold" fill="#231f20" text-anchor="start" textLength="13.4" lengthAdjust="spacing" >e</text>
<circle cx="242.1" cy="251.5" r="7.6" fill="#e6007e" />
<circle cx="216.4" cy="300.6" r="7.6" fill="#e6007e" />
<circle cx="209.4" cy="332.4" r="7.6" fill="#e6007e" />
<circle cx="422" cy="151" r="7.6" fill="#e6007e" />
<circle cx="875.2" cy="297.7" r="7.6" fill="#e6007e" />
<path d="M250,256 C275,272 300,277 388,278" stroke="#e6007e" stroke-width="3" fill="none" stroke-linecap="round" stroke-dasharray="0.01 7.2"/>
<path d="M225,300.6 C300,298 350,302 406,313" stroke="#e6007e" stroke-width="3" fill="none" stroke-linecap="round" stroke-dasharray="0.01 7.2"/>
<path d="M218,332.6 C300,331 360,335 422,350" stroke="#e6007e" stroke-width="3" fill="none" stroke-linecap="round" stroke-dasharray="0.01 7.2"/>
<polygon points="392,272.4 396.6,272.4 403,278 396.6,283.6 392,283.6 397.6,278" fill="#e6007e" />
<polygon points="401.6,272.4 406.2,272.4 412.6,278 406.2,283.6 401.6,283.6 407.2,278" fill="#e6007e" />
<polygon points="411.2,272.4 415.8,272.4 422.2,278 415.8,283.6 411.2,283.6 416.8,278" fill="#e6007e" />
<polygon points="410,308.4 414.6,308.4 421,314 414.6,319.6 410,319.6 415.6,314" fill="#e6007e" />
<polygon points="419.6,308.4 424.2,308.4 430.6,314 424.2,319.6 419.6,319.6 425.2,314" fill="#e6007e" />
<polygon points="429.2,308.4 433.8,308.4 440.2,314 433.8,319.6 429.2,319.6 434.8,314" fill="#e6007e" />
<polygon points="426,345.9 430.6,345.9 437,351.5 430.6,357.1 426,357.1 431.6,351.5" fill="#e6007e" />
<polygon points="435.6,345.9 440.2,345.9 446.6,351.5 440.2,357.1 435.6,357.1 441.2,351.5" fill="#e6007e" />
<polygon points="445.2,345.9 449.8,345.9 456.2,351.5 449.8,357.1 445.2,357.1 450.8,351.5" fill="#e6007e" />
<text x="433" y="284.3" font-size="18" font-weight="bold" fill="#231f20" text-anchor="start" textLength="122" lengthAdjust="spacing" >PME samples</text>
<text x="452" y="323.5" font-size="18" font-weight="bold" fill="#231f20" text-anchor="start" textLength="143.5" lengthAdjust="spacing" >Ni-Cu electrode</text>
<text x="469" y="365" font-size="18" font-weight="bold" fill="#231f20" text-anchor="start" textLength="199.4" lengthAdjust="spacing" >PET/PDMS membrane</text>
<path d="M429.7,137 C440,122 458,110 480,100.4 C505,91 532,79 559,55" stroke="#e6007e" stroke-width="2.9" fill="none" stroke-linecap="round" stroke-dasharray="0.01 7.3"/>
<polygon points="570.6,44 557.5,47.8 562.6,51.6 566.2,57" fill="#e6007e" />
<path d="M866.7,294.3 C850,290.5 832,293 818,303 C806,312 801.4,325 801.4,340 L801.4,393" stroke="#e6007e" stroke-width="3" fill="none" stroke-linecap="round" stroke-dasharray="0.01 7.5"/>
<polygon points="797.8,412.5 794.4,398 800.5,402 807,399.5" fill="#e6007e" />
<circle cx="1061.2" cy="416.2" r="11.3" fill="url(#gB)" />
<text x="1083.5" y="419.2" font-size="24.5" font-weight="bold" fill="#231f20" text-anchor="start" textLength="76" lengthAdjust="spacing" >cation</text>
<circle cx="1061.2" cy="449.7" r="11.3" fill="url(#gY)" />
<text x="1083.5" y="456" font-size="24.5" font-weight="bold" fill="#231f20" text-anchor="start" textLength="68" lengthAdjust="spacing" >anion</text>
<circle cx="1061.2" cy="483.5" r="11.3" fill="url(#ge2)" />
<text x="1083.5" y="490" font-size="24.5" font-weight="bold" fill="#231f20" text-anchor="start" textLength="206" lengthAdjust="spacing" >induced electron</text>
<path d="M514,50.6 C530,42 552,27 572,27.5 C580,27.7 584,30 588,32.5 M619,38 C626,38 630,37.6 634,38.6 C645,41.5 648,54.5 660,54 M695.5,53.3 C705,54 706,60 709,68 C712,76 716,81 726,78 M756,81.6 C764,82.4 768,84 770,92 C773,106 780,114 801,114 M836.5,114.5 C848,115.5 850,124 854,130 C857,135 859,138 862,139 M891,139.9 C897,140.2 903,140.4 908,139 C918,136 920,117 930,117 C938,117 944,121 951,125.6 M990,129 C994,134 998,141 1004,140 C1014,138 1018,104 1034,104.5 C1042,104.8 1048,106 1054,109 M1092.6,109.6 C1098,108.5 1102,107 1107,107.3 C1116,108 1122,118.5 1130,118.2 C1140,117.8 1148,108 1157,103.2" stroke="#4b4b4b" stroke-width="1" fill="none" />
<g transform="translate(603.5,35) rotate(6) scale(1)"><polygon points="-15.8,-1 -7,-9.8 7.6,-9.8 16,1.2 7,10 -8,9.2" fill="#b4540a" /><polygon points="-13.6,-1.6 -6.2,-9 7,-9 13.4,0.2 6,6.4 -6.8,5.8" fill="#ea7411" /><path d="M-13.6,-1.6L-6.2,-9L7,-9" stroke="#f08a30" stroke-width="0.8" fill="none" /></g>
<g transform="translate(741,80) rotate(6) scale(0.96)"><polygon points="-15.8,-1 -7,-9.8 7.6,-9.8 16,1.2 7,10 -8,9.2" fill="#b4540a" /><polygon points="-13.6,-1.6 -6.2,-9 7,-9 13.4,0.2 6,6.4 -6.8,5.8" fill="#ea7411" /><path d="M-13.6,-1.6L-6.2,-9L7,-9" stroke="#f08a30" stroke-width="0.8" fill="none" /></g>
<g transform="translate(876.6,139.5) rotate(0) scale(0.95)"><polygon points="-15.8,-1 -7,-9.8 7.6,-9.8 16,1.2 7,10 -8,9.2" fill="#b4540a" /><polygon points="-13.6,-1.6 -6.2,-9 7,-9 13.4,0.2 6,6.4 -6.8,5.8" fill="#ea7411" /><path d="M-13.6,-1.6L-6.2,-9L7,-9" stroke="#f08a30" stroke-width="0.8" fill="none" /></g>
<g transform="translate(678,53.5) rotate(1)"><path d="M-17.5,0L-12,-3 M-17.5,0L-12,3 M17.5,0L12,-3 M17.5,0L12,3" stroke="#8a8a8a" stroke-width="0.9" fill="none" /><rect x="-13" y="-7.1" width="26" height="5" fill="#3ba7dd" /><rect x="-13" y="-7.1" width="26" height="1.5" fill="#86d1f1" /><rect x="-13" y="2.1" width="26" height="5" fill="#3ba7dd" /><rect x="-13" y="2.1" width="26" height="1.5" fill="#86d1f1" /></g>
<g transform="translate(819,114) rotate(1)"><path d="M-17.5,0L-12,-3 M-17.5,0L-12,3 M17.5,0L12,-3 M17.5,0L12,3" stroke="#8a8a8a" stroke-width="0.9" fill="none" /><rect x="-13" y="-7.1" width="26" height="5" fill="#3ba7dd" /><rect x="-13" y="-7.1" width="26" height="1.5" fill="#86d1f1" /><rect x="-13" y="2.1" width="26" height="5" fill="#3ba7dd" /><rect x="-13" y="2.1" width="26" height="1.5" fill="#86d1f1" /></g>
<g transform="translate(970.7,125) rotate(4)"><rect x="-20.5" y="-10" width="41" height="20" rx="6" fill="#dde2dd" opacity="0.9"/><rect x="-19" y="-8.6" width="38" height="17.2" rx="5" fill="#c2e1c4"/><rect x="-16.5" y="-4.8" width="33" height="11.6" rx="1.5" fill="#93d19c"/><path d="M-13,-3.6V5.4M-16.2,1H-9.8 M-4.1,-3.6V5.4M-7.3,1H-0.9 M4.8,-3.6V5.4M1.6,1H8 M13.7,-3.6V5.4M10.5,1H16.9" stroke="#3a7a44" stroke-width="0.8" fill="none" /><path d="M-16,-6.3H15.5" stroke="#5c9c66" stroke-width="1" fill="none" stroke-dasharray="5.2 3.2"/><path d="M-15.5,-4.5V6.5" stroke="#1f3d24" stroke-width="1.3" fill="none" /></g>
<g transform="translate(1073,111) rotate(2)"><rect x="-20.5" y="-10" width="41" height="20" rx="6" fill="#dde2dd" opacity="0.9"/><rect x="-19" y="-8.6" width="38" height="17.2" rx="5" fill="#c2e1c4"/><rect x="-16.5" y="-4.8" width="33" height="11.6" rx="1.5" fill="#93d19c"/><path d="M-13,-3.6V5.4M-16.2,1H-9.8 M-4.1,-3.6V5.4M-7.3,1H-0.9 M4.8,-3.6V5.4M1.6,1H8 M13.7,-3.6V5.4M10.5,1H16.9" stroke="#3a7a44" stroke-width="0.8" fill="none" /><path d="M-16,-6.3H15.5" stroke="#5c9c66" stroke-width="1" fill="none" stroke-dasharray="5.2 3.2"/><path d="M-15.5,-4.5V6.5" stroke="#1f3d24" stroke-width="1.3" fill="none" /></g>
<path d="M180.2,438.2 C195,436 203,421 222,419.3 C232,418.4 240,419 248,419.2 M275,420.6 C283,420.4 290,418.8 297,419.2 C316,420.5 302,449 326,449.6 M359.5,448.4 C364,448 368,447 371,445 C378,440 373,426 386,425.6 L393.5,426 M419.5,427.5 C424,428 429,428.5 432,431 C440,438 432,454 448,454.7 L459,454.8 M491.5,453.5 C499,452 497,438 500,428 C502,421 508,418.5 514,418.7 C520,419 524,419.6 529,420.2 M554.2,423.8 C560,424.5 563,431.8 568,431.6 C576,431.2 584,411.5 593,412 C599,412.4 602,424 606,430 M640.3,437.5 C643,440 646,446.5 650,446 C660,444.5 666,414 679,413.3 C684,413 688,414 692,415.3 M728,416.2 C733,415.4 738,413.2 743,413.5 C750,414 752,422.5 758,422.3 C768,422 776,408.6 786.5,408.4 C798,408.2 806,413 820,413.6" stroke="#4b4b4b" stroke-width="1" fill="none" />
<g transform="translate(261.5,420.4) rotate(3) scale(0.9)"><polygon points="-15.8,-1 -7,-9.8 7.6,-9.8 16,1.2 7,10 -8,9.2" fill="#b4540a" /><polygon points="-13.6,-1.6 -6.2,-9 7,-9 13.4,0.2 6,6.4 -6.8,5.8" fill="#ea7411" /><path d="M-13.6,-1.6L-6.2,-9L7,-9" stroke="#f08a30" stroke-width="0.8" fill="none" /></g>
<g transform="translate(406.3,426.8) rotate(3) scale(0.88)"><polygon points="-15.8,-1 -7,-9.8 7.6,-9.8 16,1.2 7,10 -8,9.2" fill="#b4540a" /><polygon points="-13.6,-1.6 -6.2,-9 7,-9 13.4,0.2 6,6.4 -6.8,5.8" fill="#ea7411" /><path d="M-13.6,-1.6L-6.2,-9L7,-9" stroke="#f08a30" stroke-width="0.8" fill="none" /></g>
<g transform="translate(541,421.6) rotate(6) scale(0.88)"><polygon points="-15.8,-1 -7,-9.8 7.6,-9.8 16,1.2 7,10 -8,9.2" fill="#b4540a" /><polygon points="-13.6,-1.6 -6.2,-9 7,-9 13.4,0.2 6,6.4 -6.8,5.8" fill="#ea7411" /><path d="M-13.6,-1.6L-6.2,-9L7,-9" stroke="#f08a30" stroke-width="0.8" fill="none" /></g>
<g transform="translate(342.8,448.9) rotate(-3)"><path d="M-16.25,0L-10.75,-2.7 M-16.25,0L-10.75,2.7 M16.25,0L10.75,-2.7 M16.25,0L10.75,2.7" stroke="#8a8a8a" stroke-width="0.9" fill="none" /><rect x="-11.75" y="-6.6" width="23.5" height="4.6" fill="#3ba7dd" /><rect x="-11.75" y="-6.6" width="23.5" height="1.5" fill="#86d1f1" /><rect x="-11.75" y="2" width="23.5" height="4.6" fill="#3ba7dd" /><rect x="-11.75" y="2" width="23.5" height="1.5" fill="#86d1f1" /></g>
<g transform="translate(475.4,454.5) rotate(-3)"><path d="M-15.75,0L-10.25,-2.5 M-15.75,0L-10.25,2.5 M15.75,0L10.25,-2.5 M15.75,0L10.25,2.5" stroke="#8a8a8a" stroke-width="0.9" fill="none" /><rect x="-11.25" y="-6.4" width="22.5" height="4.6" fill="#3ba7dd" /><rect x="-11.25" y="-6.4" width="22.5" height="1.5" fill="#86d1f1" /><rect x="-11.25" y="1.8" width="22.5" height="4.6" fill="#3ba7dd" /><rect x="-11.25" y="1.8" width="22.5" height="1.5" fill="#86d1f1" /></g>
<g transform="translate(621.3,435.2) rotate(9)"><rect x="-20.5" y="-10" width="41" height="20" rx="6" fill="#dde2dd" opacity="0.9"/><rect x="-19" y="-8.6" width="38" height="17.2" rx="5" fill="#c2e1c4"/><rect x="-16.5" y="-4.8" width="33" height="11.6" rx="1.5" fill="#93d19c"/><path d="M-13,-3.6V5.4M-16.2,1H-9.8 M-4.1,-3.6V5.4M-7.3,1H-0.9 M4.8,-3.6V5.4M1.6,1H8 M13.7,-3.6V5.4M10.5,1H16.9" stroke="#3a7a44" stroke-width="0.8" fill="none" /><path d="M-16,-6.3H15.5" stroke="#5c9c66" stroke-width="1" fill="none" stroke-dasharray="5.2 3.2"/><path d="M-15.5,-4.5V6.5" stroke="#1f3d24" stroke-width="1.3" fill="none" /></g>
<g transform="translate(709,418) rotate(3)"><rect x="-20.5" y="-10" width="41" height="20" rx="6" fill="#dde2dd" opacity="0.9"/><rect x="-19" y="-8.6" width="38" height="17.2" rx="5" fill="#c2e1c4"/><rect x="-16.5" y="-4.8" width="33" height="11.6" rx="1.5" fill="#93d19c"/><path d="M-13,-3.6V5.4M-16.2,1H-9.8 M-4.1,-3.6V5.4M-7.3,1H-0.9 M4.8,-3.6V5.4M1.6,1H8 M13.7,-3.6V5.4M10.5,1H16.9" stroke="#3a7a44" stroke-width="0.8" fill="none" /><path d="M-16,-6.3H15.5" stroke="#5c9c66" stroke-width="1" fill="none" stroke-dasharray="5.2 3.2"/><path d="M-15.5,-4.5V6.5" stroke="#1f3d24" stroke-width="1.3" fill="none" /></g>
<text x="579.4" y="116.5" font-size="25" font-weight="bold" fill="#231f20" text-anchor="start" textLength="188" lengthAdjust="spacing" >trans-structure</text>
<text x="504.2" y="478" font-size="25" font-weight="bold" fill="#231f20" text-anchor="start" textLength="158.3" lengthAdjust="spacing" >cis-structure</text>
<circle cx="41.1" cy="514.5" r="35.4" fill="#fdf17c" stroke="#d9d19c" stroke-width="0.8"/>
<text x="17.1" y="525.1" font-size="45" font-weight="bold" fill="#231f20" text-anchor="start" textLength="56.8" lengthAdjust="spacing" >(b)</text>
<text x="175" y="545.4" font-size="23" font-weight="bold" fill="#231f20" text-anchor="start" textLength="25" lengthAdjust="spacing" >(i)</text>
<line x1="321.6" y1="588" x2="312.5" y2="760" stroke="#cfcfd4" stroke-width="0.9" />
<line x1="149.3" y1="605" x2="151.5" y2="730" stroke="#cfcfd4" stroke-width="0.9" />
<polygon points="148.6,729.1 313.3,760.1 272.7,840.8 75.8,784.7" fill="#c8dde8" opacity="0.93"/>
<polygon points="75.8,784.7 272.7,840.8 272.7,848.5 75.8,796.7" fill="#d5e7f0" />
<polygon points="272.7,840.8 313.3,760.1 313.3,768.3 272.7,848.5" fill="#bfd6e2" />
<path d="M84,781.5 L152,733 L306,762.5 L269.5,834 Z" stroke="#b3cbd8" stroke-width="1" fill="none" stroke-linejoin="round"/>
<line x1="72.2" y1="635" x2="272.7" y2="662.2" stroke="#666a7c" stroke-width="0.9" stroke-dasharray="2.8 3.8"/>
<line x1="75.8" y1="678" x2="272.7" y2="710" stroke="#666a7c" stroke-width="0.9" stroke-dasharray="2.8 3.8"/>
<line x1="79.4" y1="717.9" x2="272.7" y2="754.9" stroke="#5d6474" stroke-width="0.9" stroke-dasharray="2.8 3.8"/>
<line x1="79.4" y1="748.9" x2="262" y2="790.2" stroke="#4f5866" stroke-width="0.9" stroke-dasharray="2.8 3.8"/>
<path d="M77.65,605.31 C79.73,606.11 79.73,608.17 79.73,609.81 L79.73,615.41 Q79.73,617.06 81.08,617.21 L86.45,617.83 Q87.88,618 87.88,620.15 L87.88,626.94 C87.88,629.42 88.84,630.78 89.94,630.92 M94.76,631.51 C95.87,631.65 96.84,630.52 96.84,628.02 L96.84,621.19 Q96.84,619.02 98.3,619.19 L103.82,619.82 Q105.23,619.99 105.23,618.31 L105.23,612.62 C105.23,610.94 105.23,608.85 107.41,608.5 M112.38,609.03 C114.59,609.85 114.59,611.96 114.59,613.65 L114.59,619.37 Q114.59,621.06 116.02,621.22 L121.71,621.87 Q123.23,622.05 123.23,624.25 L123.23,631.19 C123.23,633.73 124.25,635.13 125.41,635.27 M130.52,635.89 C131.69,636.04 132.72,634.89 132.72,632.33 L132.72,625.35 Q132.72,623.13 134.27,623.31 L140.13,623.98 Q141.62,624.15 141.62,622.43 L141.62,616.61 C141.62,614.9 141.62,612.76 143.93,612.41 M149.2,612.97 C151.54,613.82 151.54,615.98 151.54,617.7 L151.54,623.56 Q151.54,625.28 153.06,625.45 L159.09,626.14 Q160.7,626.32 160.7,628.57 L160.7,635.67 C160.7,638.27 161.77,639.7 163.01,639.85 M168.43,640.51 C169.67,640.66 170.76,639.48 170.76,636.87 L170.76,629.73 Q170.76,627.47 172.4,627.66 L178.61,628.36 Q180.19,628.54 180.19,626.79 L180.19,620.84 C180.19,619.09 180.19,616.9 182.64,616.55 M188.22,617.15 C190.71,618.03 190.71,620.23 190.71,621.99 L190.71,627.98 Q190.71,629.74 192.32,629.92 L198.71,630.65 Q200.41,630.84 200.41,633.14 L200.41,640.39 C200.41,643.05 201.56,644.51 202.86,644.67 M208.61,645.36 C209.93,645.52 211.08,644.33 211.08,641.66 L211.08,634.36 Q211.08,632.05 212.82,632.25 L219.4,632.99 Q221.07,633.18 221.07,631.39 L221.07,625.31 C221.07,623.53 221.07,621.29 223.68,620.94 M229.59,621.58 C232.23,622.49 232.23,624.74 232.23,626.53 L232.23,632.65 Q232.23,634.45 233.93,634.64 L240.7,635.4 Q242.51,635.61 242.51,637.96 L242.51,645.37 C242.51,648.08 243.72,649.58 245.11,649.75 M251.2,650.48 C252.6,650.64 253.82,649.43 253.82,646.7 L253.82,639.25 Q253.82,636.89 255.66,637.1 L262.64,637.88 Q264.41,638.09 264.41,636.26 L264.41,630.05 C264.41,628.22 264.41,625.94 267.17,625.6" stroke="#c79a8e" stroke-width="0.8" fill="none" />
<path d="M81.56,618.42L85.97,618.93 M98.79,620.41L103.33,620.94 M116.53,622.46L121.2,623 M134.79,624.56L139.6,625.11 M153.59,626.72L158.55,627.29 M172.95,628.94L178.06,629.52 M192.88,631.22L198.14,631.82 M213.4,633.56L218.81,634.18 M234.53,635.97L240.1,636.6 M256.28,638.44L262.02,639.09" stroke="#ea8f86" stroke-width="1.2" fill="none" />
<circle cx="75.3" cy="604.4" r="3.3" fill="url(#gb)" />
<circle cx="75.3" cy="598.13" r="2.05" fill="url(#gy)" />
<circle cx="92.34" cy="630.8" r="3.3" fill="url(#gb)" />
<circle cx="92.34" cy="624.53" r="2.05" fill="url(#gy)" />
<circle cx="109.89" cy="608.09" r="3.52" fill="url(#gb)" />
<circle cx="109.89" cy="601.4" r="2.18" fill="url(#gy)" />
<circle cx="127.96" cy="635.16" r="3.52" fill="url(#gb)" />
<circle cx="127.96" cy="628.47" r="2.18" fill="url(#gy)" />
<circle cx="146.56" cy="612" r="3.74" fill="url(#gb)" />
<circle cx="146.56" cy="604.9" r="2.32" fill="url(#gy)" />
<circle cx="165.71" cy="639.74" r="3.74" fill="url(#gb)" />
<circle cx="165.71" cy="632.64" r="2.32" fill="url(#gy)" />
<circle cx="185.43" cy="616.15" r="3.96" fill="url(#gb)" />
<circle cx="185.43" cy="608.62" r="2.46" fill="url(#gy)" />
<circle cx="205.73" cy="644.57" r="3.96" fill="url(#gb)" />
<circle cx="205.73" cy="637.05" r="2.46" fill="url(#gy)" />
<circle cx="226.63" cy="620.54" r="4.18" fill="url(#gb)" />
<circle cx="226.63" cy="612.6" r="2.59" fill="url(#gy)" />
<circle cx="248.15" cy="649.66" r="4.18" fill="url(#gb)" />
<circle cx="248.15" cy="641.71" r="2.59" fill="url(#gy)" />
<circle cx="270.3" cy="625.2" r="4.4" fill="url(#gb)" />
<circle cx="270.3" cy="616.84" r="2.73" fill="url(#gy)" />
<path d="M81.17,650.72 C83.2,651.53 83.2,653.4 83.2,654.9 L83.2,659.99 Q83.2,661.48 84.51,661.68 L89.71,662.45 Q91.1,662.65 91.1,664.61 L91.1,670.77 C91.1,673.03 92.02,674.3 93.09,674.46 M97.76,675.18 C98.84,675.35 99.78,674.36 99.78,672.09 L99.78,665.9 Q99.78,663.93 101.19,664.14 L106.54,664.93 Q107.91,665.13 107.91,663.61 L107.91,658.45 C107.91,656.93 107.91,655.04 110.03,654.81 M114.84,655.49 C116.98,656.32 116.98,658.23 116.98,659.76 L116.98,664.94 Q116.98,666.47 118.37,666.67 L123.88,667.48 Q125.36,667.7 125.36,669.69 L125.36,675.97 C125.36,678.27 126.34,679.57 127.47,679.75 M132.42,680.5 C133.56,680.68 134.56,679.68 134.56,677.37 L134.56,671.06 Q134.56,669.05 136.06,669.28 L141.73,670.11 Q143.18,670.32 143.18,668.78 L143.18,663.52 C143.18,661.97 143.18,660.04 145.42,659.82 M150.52,660.54 C152.8,661.4 152.8,663.35 152.8,664.9 L152.8,670.18 Q152.8,671.74 154.27,671.95 L160.11,672.81 Q161.67,673.04 161.67,675.07 L161.67,681.47 C161.67,683.81 162.71,685.14 163.91,685.32 M169.16,686.12 C170.37,686.31 171.42,685.29 171.42,682.94 L171.42,676.51 Q171.42,674.47 173.01,674.71 L179.03,675.59 Q180.56,675.81 180.56,674.24 L180.56,668.89 C180.56,667.31 180.56,665.34 182.94,665.13 M188.35,665.89 C190.76,666.79 190.76,668.77 190.76,670.35 L190.76,675.73 Q190.76,677.31 192.32,677.54 L198.51,678.45 Q200.16,678.69 200.16,680.75 L200.16,687.27 C200.16,689.65 201.27,691.01 202.54,691.2 M208.1,692.05 C209.38,692.24 210.5,691.22 210.5,688.82 L210.5,682.28 Q210.5,680.2 212.19,680.45 L218.56,681.38 Q220.19,681.62 220.19,680.02 L220.19,674.57 C220.19,672.97 220.19,670.96 222.71,670.76 M228.44,671.57 C231,672.49 231,674.51 231,676.12 L231,681.59 Q231,683.2 232.65,683.45 L239.21,684.41 Q240.97,684.66 240.97,686.77 L240.97,693.4 C240.97,695.82 242.14,697.21 243.48,697.42 M249.38,698.31 C250.74,698.51 251.93,697.48 251.93,695.04 L251.93,688.38 Q251.93,686.27 253.71,686.53 L260.47,687.51 Q262.19,687.77 262.19,686.13 L262.19,680.59 C262.19,678.96 262.19,676.92 264.87,676.72" stroke="#c79a8e" stroke-width="0.8" fill="none" />
<path d="M84.96,662.79L89.24,663.43 M101.66,665.27L106.07,665.92 M118.86,667.81L123.39,668.48 M136.56,670.43L141.23,671.12 M154.78,673.12L159.59,673.83 M173.55,675.88L178.49,676.61 M192.86,678.73L197.96,679.48 M212.75,681.65L218,682.42 M233.23,684.66L238.63,685.45 M254.31,687.75L259.87,688.57" stroke="#ea8f86" stroke-width="1.2" fill="none" />
<circle cx="78.9" cy="649.8" r="3.2" fill="url(#gb)" />
<circle cx="78.9" cy="643.72" r="1.98" fill="url(#gy)" />
<circle cx="95.42" cy="674.44" r="3.2" fill="url(#gb)" />
<circle cx="95.42" cy="668.36" r="1.98" fill="url(#gy)" />
<circle cx="112.43" cy="654.54" r="3.42" fill="url(#gb)" />
<circle cx="112.43" cy="648.04" r="2.12" fill="url(#gy)" />
<circle cx="129.94" cy="679.74" r="3.42" fill="url(#gb)" />
<circle cx="129.94" cy="673.24" r="2.12" fill="url(#gy)" />
<circle cx="147.97" cy="659.56" r="3.64" fill="url(#gb)" />
<circle cx="147.97" cy="652.64" r="2.26" fill="url(#gy)" />
<circle cx="166.53" cy="685.33" r="3.64" fill="url(#gb)" />
<circle cx="166.53" cy="678.41" r="2.26" fill="url(#gy)" />
<circle cx="185.64" cy="664.88" r="3.86" fill="url(#gb)" />
<circle cx="185.64" cy="657.55" r="2.39" fill="url(#gy)" />
<circle cx="205.31" cy="691.23" r="3.86" fill="url(#gb)" />
<circle cx="205.31" cy="683.89" r="2.39" fill="url(#gy)" />
<circle cx="225.57" cy="670.52" r="4.08" fill="url(#gb)" />
<circle cx="225.57" cy="662.77" r="2.53" fill="url(#gy)" />
<circle cx="246.43" cy="697.46" r="4.08" fill="url(#gb)" />
<circle cx="246.43" cy="689.7" r="2.53" fill="url(#gy)" />
<circle cx="267.9" cy="676.5" r="4.3" fill="url(#gb)" />
<circle cx="267.9" cy="668.33" r="2.67" fill="url(#gy)" />
<path d="M84.69,693.66 C86.63,694.5 86.63,696.32 86.63,697.78 L86.63,702.74 Q86.63,704.19 87.89,704.42 L92.89,705.32 Q94.23,705.56 94.23,707.46 L94.23,713.47 C94.23,715.67 95.12,716.93 96.15,717.12 M100.64,717.97 C101.68,718.16 102.58,717.22 102.58,715.01 L102.58,708.97 Q102.58,707.05 103.94,707.3 L109.09,708.22 Q110.4,708.46 110.4,706.97 L110.4,701.93 C110.4,700.45 110.4,698.6 112.44,698.43 M117.07,699.23 C119.13,700.1 119.13,701.97 119.13,703.46 L119.13,708.53 Q119.13,710.02 120.47,710.26 L125.77,711.21 Q127.19,711.46 127.19,713.41 L127.19,719.56 C127.19,721.8 128.13,723.11 129.22,723.31 M133.98,724.2 C135.08,724.4 136.04,723.45 136.04,721.19 L136.04,715.01 Q136.04,713.05 137.48,713.3 L142.94,714.28 Q144.33,714.53 144.33,713.01 L144.33,707.86 C144.33,706.34 144.33,704.45 146.49,704.29 M151.39,705.13 C153.58,706.04 153.58,707.95 153.58,709.47 L153.58,714.66 Q153.58,716.18 155,716.43 L160.61,717.44 Q162.12,717.71 162.12,719.7 L162.12,725.98 C162.12,728.28 163.12,729.62 164.27,729.83 M169.32,730.77 C170.48,730.99 171.5,730.02 171.5,727.71 L171.5,721.39 Q171.5,719.38 173.03,719.65 L178.81,720.69 Q180.29,720.95 180.29,719.4 L180.29,714.13 C180.29,712.58 180.29,710.64 182.58,710.5 M187.78,711.39 C190.1,712.33 190.1,714.28 190.1,715.84 L190.1,721.14 Q190.1,722.7 191.6,722.97 L197.55,724.03 Q199.14,724.31 199.14,726.35 L199.14,732.77 C199.14,735.12 200.21,736.49 201.43,736.72 M206.78,737.71 C208.01,737.93 209.09,736.95 209.09,734.59 L209.09,728.13 Q209.09,726.08 210.71,726.37 L216.84,727.46 Q218.41,727.74 218.41,726.16 L218.41,720.77 C218.41,719.19 218.41,717.21 220.83,717.07 M226.35,718.02 C228.8,719 228.8,720.99 228.8,722.58 L228.8,728 Q228.8,729.59 230.39,729.87 L236.71,731 Q238.39,731.3 238.39,733.38 L238.39,739.94 C238.39,742.34 239.52,743.75 240.81,743.98 M246.49,745.03 C247.79,745.27 248.94,744.27 248.94,741.86 L248.94,735.26 Q248.94,733.17 250.65,733.48 L257.16,734.63 Q258.81,734.93 258.81,733.31 L258.81,727.81 C258.81,726.19 258.81,724.17 261.38,724.05" stroke="#c79a8e" stroke-width="0.8" fill="none" />
<path d="M88.33,705.52L92.45,706.26 M104.4,708.41L108.63,709.17 M120.93,711.39L125.3,712.17 M137.96,714.45L142.45,715.25 M155.49,717.59L160.11,718.42 M173.54,720.83L178.3,721.68 M192.12,724.15L197.02,725.03 M211.25,727.57L216.3,728.47 M230.95,731.09L236.14,732.02 M251.23,734.71L256.58,735.66" stroke="#ea8f86" stroke-width="1.2" fill="none" />
<circle cx="82.5" cy="692.7" r="3.1" fill="url(#gb)" />
<circle cx="82.5" cy="686.81" r="1.92" fill="url(#gy)" />
<circle cx="98.39" cy="717.18" r="3.1" fill="url(#gb)" />
<circle cx="98.39" cy="711.29" r="1.92" fill="url(#gy)" />
<circle cx="114.75" cy="698.23" r="3.32" fill="url(#gb)" />
<circle cx="114.75" cy="691.93" r="2.06" fill="url(#gy)" />
<circle cx="131.59" cy="723.38" r="3.32" fill="url(#gb)" />
<circle cx="131.59" cy="717.07" r="2.06" fill="url(#gy)" />
<circle cx="148.94" cy="704.1" r="3.54" fill="url(#gb)" />
<circle cx="148.94" cy="697.38" r="2.19" fill="url(#gy)" />
<circle cx="166.79" cy="729.92" r="3.54" fill="url(#gb)" />
<circle cx="166.79" cy="723.19" r="2.19" fill="url(#gy)" />
<circle cx="185.17" cy="710.32" r="3.76" fill="url(#gb)" />
<circle cx="185.17" cy="703.18" r="2.33" fill="url(#gy)" />
<circle cx="204.1" cy="736.82" r="3.76" fill="url(#gb)" />
<circle cx="204.1" cy="729.67" r="2.33" fill="url(#gy)" />
<circle cx="223.58" cy="716.91" r="3.98" fill="url(#gb)" />
<circle cx="223.58" cy="709.35" r="2.47" fill="url(#gy)" />
<circle cx="243.65" cy="744.11" r="3.98" fill="url(#gb)" />
<circle cx="243.65" cy="736.54" r="2.47" fill="url(#gy)" />
<circle cx="264.3" cy="723.9" r="4.2" fill="url(#gb)" />
<circle cx="264.3" cy="715.92" r="2.6" fill="url(#gy)" />
<path d="M89.79,761.1 C91.65,761.98 91.65,763.62 91.65,764.93 L91.65,769.37 Q91.65,770.68 92.86,770.96 L97.64,772.09 Q98.91,772.39 98.91,774.1 L98.91,779.49 C98.91,781.46 99.77,782.65 100.75,782.89 M105.04,783.93 C106.03,784.17 106.9,783.39 106.9,781.41 L106.9,775.99 Q106.9,774.27 108.2,774.57 L113.12,775.73 Q114.37,776.03 114.37,774.7 L114.37,770.18 C114.37,768.85 114.37,767.19 116.32,767.17 M120.75,768.18 C122.72,769.1 122.72,770.77 122.72,772.11 L122.72,776.65 Q122.72,777.99 124,778.29 L129.06,779.48 Q130.42,779.8 130.42,781.54 L130.42,787.05 C130.42,789.06 131.32,790.29 132.36,790.54 M136.92,791.64 C137.96,791.89 138.88,791.1 138.88,789.07 L138.88,783.54 Q138.88,781.78 140.26,782.11 L145.48,783.33 Q146.81,783.64 146.81,782.29 L146.81,777.67 C146.81,776.32 146.81,774.62 148.87,774.62 M153.56,775.69 C155.65,776.65 155.65,778.35 155.65,779.72 L155.65,784.36 Q155.65,785.72 157.01,786.04 L162.38,787.3 Q163.81,787.63 163.81,789.42 L163.81,795.04 C163.81,797.1 164.77,798.36 165.87,798.62 M170.7,799.78 C171.81,800.05 172.78,799.25 172.78,797.18 L172.78,791.53 Q172.78,789.74 174.25,790.08 L179.78,791.38 Q181.18,791.71 181.18,790.32 L181.18,785.61 C181.18,784.22 181.18,782.49 183.37,782.51 M188.35,783.65 C190.56,784.64 190.56,786.38 190.56,787.77 L190.56,792.51 Q190.56,793.9 192,794.24 L197.69,795.57 Q199.21,795.93 199.21,797.75 L199.21,803.49 C199.21,805.59 200.23,806.88 201.39,807.16 M206.51,808.39 C207.69,808.67 208.72,807.86 208.72,805.75 L208.72,799.99 Q208.72,798.16 210.27,798.52 L216.13,799.89 Q217.63,800.24 217.63,798.83 L217.63,794.02 C217.63,792.61 217.63,790.84 219.95,790.87 M225.22,792.08 C227.56,793.11 227.56,794.89 227.56,796.31 L227.56,801.14 Q227.56,802.57 229.08,802.92 L235.12,804.33 Q236.73,804.71 236.73,806.57 L236.73,812.42 C236.73,814.56 237.81,815.89 239.05,816.19 M244.47,817.49 C245.72,817.79 246.81,816.97 246.81,814.82 L246.81,808.93 Q246.81,807.07 248.46,807.45 L254.67,808.9 Q256.25,809.27 256.25,807.83 L256.25,802.93 C256.25,801.49 256.25,799.68 258.71,799.74" stroke="#c79a8e" stroke-width="0.8" fill="none" />
<path d="M93.28,771.98L97.21,772.91 M108.63,775.6L112.68,776.56 M124.44,779.33L128.61,780.31 M140.72,783.16L145.01,784.17 M157.48,787.1L161.9,788.14 M174.73,791.16L179.28,792.23 M192.5,795.33L197.18,796.43 M210.79,799.63L215.61,800.76 M229.62,804.04L234.58,805.21 M249,808.59L254.12,809.78" stroke="#ea8f86" stroke-width="1.2" fill="none" />
<circle cx="87.7" cy="760.1" r="3" fill="url(#gb)" />
<circle cx="87.7" cy="754.4" r="1.86" fill="url(#gy)" />
<circle cx="102.89" cy="783.08" r="3" fill="url(#gb)" />
<circle cx="102.89" cy="777.38" r="1.86" fill="url(#gy)" />
<circle cx="118.53" cy="767.14" r="3.22" fill="url(#gb)" />
<circle cx="118.53" cy="761.02" r="2" fill="url(#gy)" />
<circle cx="134.63" cy="790.75" r="3.22" fill="url(#gb)" />
<circle cx="134.63" cy="784.63" r="2" fill="url(#gy)" />
<circle cx="151.21" cy="774.61" r="3.44" fill="url(#gb)" />
<circle cx="151.21" cy="768.07" r="2.13" fill="url(#gy)" />
<circle cx="168.28" cy="798.86" r="3.44" fill="url(#gb)" />
<circle cx="168.28" cy="792.32" r="2.13" fill="url(#gy)" />
<circle cx="185.86" cy="782.52" r="3.66" fill="url(#gb)" />
<circle cx="185.86" cy="775.57" r="2.27" fill="url(#gy)" />
<circle cx="203.95" cy="807.42" r="3.66" fill="url(#gb)" />
<circle cx="203.95" cy="800.47" r="2.27" fill="url(#gy)" />
<circle cx="222.58" cy="790.91" r="3.88" fill="url(#gb)" />
<circle cx="222.58" cy="783.54" r="2.41" fill="url(#gy)" />
<circle cx="241.75" cy="816.48" r="3.88" fill="url(#gb)" />
<circle cx="241.75" cy="809.11" r="2.41" fill="url(#gy)" />
<circle cx="261.5" cy="799.8" r="4.1" fill="url(#gb)" />
<circle cx="261.5" cy="792.01" r="2.54" fill="url(#gy)" />
<line x1="67.4" y1="594" x2="82" y2="779" stroke="#cfcfd4" stroke-width="0.9" />
<line x1="276.3" y1="614" x2="271.5" y2="835" stroke="#cfcfd4" stroke-width="0.9" />
<polygon points="56.7,579.4 142.6,557.2 330.7,569.1 285.8,598.5" fill="#e4d2ec" />
<polygon points="56.7,579.4 285.8,598.5 285.8,616.2 58.6,595" fill="#d8c0e3" />
<polygon points="285.8,598.5 330.7,569.1 330.7,586.5 285.8,616.2" fill="#e0cde9" />
<text x="167.5" y="603.5" font-size="18" font-weight="bold" fill="#6b5c76" text-anchor="middle" textLength="83" lengthAdjust="spacing" transform="rotate(6.5 167.5 598)">electrode</text>
<text x="133" y="812.5" font-size="18.5" font-weight="bold" fill="#55626c" text-anchor="start" textLength="84" lengthAdjust="spacing" transform="rotate(14.5 133 812.5)">electrode</text>
<text x="45.5" y="826" font-size="23.5" font-weight="bold" fill="#d8242d" text-anchor="start" textLength="256" lengthAdjust="spacing" transform="rotate(12.2 45.5 826)">initial state: trans-type</text>
<text x="13.2" y="623.4" font-size="15.5" font-weight="bold" fill="#231f20" text-anchor="start" textLength="53" lengthAdjust="spacing" >Layer 1</text>
<text x="15.6" y="667.3" font-size="15.5" font-weight="bold" fill="#231f20" text-anchor="start" textLength="53" lengthAdjust="spacing" >Layer 2</text>
<text x="19" y="705.4" font-size="15.5" font-weight="bold" fill="#231f20" text-anchor="start" textLength="53" lengthAdjust="spacing" >Layer 3</text>
<text x="22.5" y="773.3" font-size="15.5" font-weight="bold" fill="#231f20" text-anchor="start" textLength="53" lengthAdjust="spacing" >Layer n</text>
<circle cx="287.5" cy="635.5" r="1.3" fill="#6a6a6a" />
<circle cx="293.04" cy="631.34" r="1.3" fill="#6a6a6a" />
<circle cx="298.58" cy="627.18" r="1.3" fill="#6a6a6a" />
<circle cx="304.12" cy="623.02" r="1.3" fill="#6a6a6a" />
<circle cx="309.66" cy="618.86" r="1.3" fill="#6a6a6a" />
<circle cx="315.2" cy="614.7" r="1.3" fill="#6a6a6a" />
<circle cx="284.7" cy="675.3" r="1.3" fill="#6a6a6a" />
<circle cx="290.1" cy="671.14" r="1.3" fill="#6a6a6a" />
<circle cx="295.5" cy="666.98" r="1.3" fill="#6a6a6a" />
<circle cx="300.9" cy="662.82" r="1.3" fill="#6a6a6a" />
<circle cx="306.3" cy="658.66" r="1.3" fill="#6a6a6a" />
<circle cx="311.7" cy="654.5" r="1.3" fill="#6a6a6a" />
<circle cx="281.3" cy="723.8" r="1.3" fill="#6a6a6a" />
<circle cx="286.34" cy="718.96" r="1.3" fill="#6a6a6a" />
<circle cx="291.38" cy="714.12" r="1.3" fill="#6a6a6a" />
<circle cx="296.42" cy="709.28" r="1.3" fill="#6a6a6a" />
<circle cx="301.46" cy="704.44" r="1.3" fill="#6a6a6a" />
<circle cx="306.5" cy="699.6" r="1.3" fill="#6a6a6a" />
<circle cx="277.5" cy="788.3" r="1.6" fill="#55595e" />
<circle cx="281.68" cy="781.15" r="1.6" fill="#55595e" />
<circle cx="285.85" cy="774" r="1.6" fill="#55595e" />
<circle cx="290.02" cy="766.85" r="1.6" fill="#55595e" />
<circle cx="294.2" cy="759.7" r="1.6" fill="#55595e" />
<circle cx="171.7" cy="735.8" r="1.5" fill="#55595e" />
<circle cx="171.7" cy="742.65" r="1.5" fill="#55595e" />
<circle cx="171.7" cy="749.5" r="1.5" fill="#55595e" />
<circle cx="171.7" cy="756.35" r="1.5" fill="#55595e" />
<circle cx="171.7" cy="763.2" r="1.5" fill="#55595e" />
<text x="499.6" y="545.3" font-size="23" font-weight="bold" fill="#231f20" text-anchor="start" textLength="32" lengthAdjust="spacing" >(ii)</text>
<text x="539.6" y="545.3" font-size="23" font-weight="bold" fill="#231f20" text-anchor="start" textLength="32" lengthAdjust="spacing" >UV</text>
<text x="585.8" y="545.3" font-size="23" font-weight="bold" fill="#231f20" text-anchor="start" textLength="29.2" lengthAdjust="spacing" >on</text>
<text x="624.3" y="545.3" font-size="23" font-weight="bold" fill="#231f20" text-anchor="start" textLength="43.8" lengthAdjust="spacing" >(t=ε</text>
<path d="M672.6,538.1H693.6" stroke="#231f20" stroke-width="1.5" fill="none" />
<path d="M688.6,534.1l6,4l-6,4" stroke="#231f20" stroke-width="1.5" fill="none" stroke-linejoin="miter"/>
<text x="697.9" y="545.3" font-size="23" font-weight="bold" fill="#231f20" text-anchor="start" textLength="21.2" lengthAdjust="spacing" >0)</text>
<line x1="467.3" y1="576.6" x2="467.3" y2="841.4" stroke="#dedee3" stroke-width="1" />
<line x1="732.2" y1="576.6" x2="732.2" y2="841.4" stroke="#dedee3" stroke-width="1" />
<rect x="456.6" y="557" width="286.3" height="19.6" fill="#dcc5e4" />
<rect x="456.6" y="841.4" width="286.3" height="20.4" fill="#c6dde7" />
<line x1="468.3" y1="630.9" x2="729.2" y2="630.9" stroke="#a9a4a8" stroke-width="1" stroke-dasharray="3 5.6"/>
<line x1="468.3" y1="684.9" x2="729.2" y2="684.9" stroke="#a9a4a8" stroke-width="1" stroke-dasharray="3 5.6"/>
<line x1="468.3" y1="786.4" x2="729.2" y2="786.4" stroke="#a9a4a8" stroke-width="1" stroke-dasharray="3 5.6"/>
<rect x="599.5" y="703.8" width="2.4" height="2.4" fill="#5a5a5a" />
<rect x="599.5" y="714.72" width="2.4" height="2.4" fill="#5a5a5a" />
<rect x="599.5" y="725.64" width="2.4" height="2.4" fill="#5a5a5a" />
<rect x="599.5" y="736.56" width="2.4" height="2.4" fill="#5a5a5a" />
<rect x="599.5" y="747.48" width="2.4" height="2.4" fill="#5a5a5a" />
<rect x="599.5" y="758.4" width="2.4" height="2.4" fill="#5a5a5a" />
<path d="M476.5,619.7 C478.8,618.7 478.8,616.2 478.8,614.2 L478.8,609.8 Q478.8,606.8 481.8,606.8 L488.7,606.8 Q491.7,606.8 491.7,609.8 L491.7,615.2 C491.7,618.2 493,619.4 495,619.7 M503,619.7 C505.3,618.7 505.3,616.2 505.3,614.2 L505.3,609.8 Q505.3,606.8 508.3,606.8 L515.2,606.8 Q518.2,606.8 518.2,609.8 L518.2,615.2 C518.2,618.2 519.5,619.4 521.5,619.7 M529.5,619.7 C531.8,618.7 531.8,616.2 531.8,614.2 L531.8,609.8 Q531.8,606.8 534.8,606.8 L541.7,606.8 Q544.7,606.8 544.7,609.8 L544.7,615.2 C544.7,618.2 546,619.4 548,619.7 M556,619.7 C558.3,618.7 558.3,616.2 558.3,614.2 L558.3,609.8 Q558.3,606.8 561.3,606.8 L568.2,606.8 Q571.2,606.8 571.2,609.8 L571.2,615.2 C571.2,618.2 572.5,619.4 574.5,619.7 M582.5,619.7 C584.8,618.7 584.8,616.2 584.8,614.2 L584.8,609.8 Q584.8,606.8 587.8,606.8 L594.7,606.8 Q597.7,606.8 597.7,609.8 L597.7,615.2 C597.7,618.2 599,619.4 601,619.7 M609,619.7 C611.3,618.7 611.3,616.2 611.3,614.2 L611.3,609.8 Q611.3,606.8 614.3,606.8 L621.2,606.8 Q624.2,606.8 624.2,609.8 L624.2,615.2 C624.2,618.2 625.5,619.4 627.5,619.7 M635.5,619.7 C637.8,618.7 637.8,616.2 637.8,614.2 L637.8,609.8 Q637.8,606.8 640.8,606.8 L647.7,606.8 Q650.7,606.8 650.7,609.8 L650.7,615.2 C650.7,618.2 652,619.4 654,619.7 M662,619.7 C664.3,618.7 664.3,616.2 664.3,614.2 L664.3,609.8 Q664.3,606.8 667.3,606.8 L674.2,606.8 Q677.2,606.8 677.2,609.8 L677.2,615.2 C677.2,618.2 678.5,619.4 680.5,619.7 M688.5,619.7 C690.8,618.7 690.8,616.2 690.8,614.2 L690.8,609.8 Q690.8,606.8 693.8,606.8 L700.7,606.8 Q703.7,606.8 703.7,609.8 L703.7,615.2 C703.7,618.2 705,619.4 707,619.7 M715,619.7 C717.3,618.7 717.3,616.2 717.3,614.2 L717.3,609.8 Q717.3,606.8 720.3,606.8 L727.2,606.8 Q730.2,606.8 730.2,609.8 L730.2,615.2 L730.2,617.2" stroke="#7d7878" stroke-width="0.8" fill="none" />
<path d="M482.1,604.6L488.1,604.6 M508.6,604.6L514.6,604.6 M535.1,604.6L541.1,604.6 M561.6,604.6L567.6,604.6 M588.1,604.6L594.1,604.6 M614.6,604.6L620.6,604.6 M641.1,604.6L647.1,604.6 M667.6,604.6L673.6,604.6 M694.1,604.6L700.1,604.6 M720.6,604.6L726.6,604.6" stroke="#ea8f86" stroke-width="1.3" fill="none" />
<circle cx="472.5" cy="620.2" r="4.2" fill="url(#gb)" />
<circle cx="472.5" cy="583.2" r="2.6" fill="url(#gy)" />
<line x1="472.5" y1="616.2" x2="472.5" y2="594.2" stroke="#e2001a" stroke-width="1.5" />
<polygon points="472.5,586.9 468.9,595.2 472.5,593.6 476.1,595.2" fill="#e2001a" />
<text x="479.5" y="596.8" font-size="14" font-weight="bold" fill="#e2001a" text-anchor="start" textLength="9">E</text>
<path d="M479.9,584.2h8.4m-2.4,-1.6l2.6,1.6l-2.6,1.6" stroke="#e2001a" stroke-width="0.8" fill="none" />
<circle cx="499" cy="620.2" r="4.2" fill="url(#gb)" />
<circle cx="499" cy="612" r="2.3" fill="url(#gy)" />
<circle cx="525.5" cy="620.2" r="4.2" fill="url(#gb)" />
<circle cx="525.5" cy="583.2" r="2.6" fill="url(#gy)" />
<line x1="525.5" y1="616.2" x2="525.5" y2="594.2" stroke="#e2001a" stroke-width="1.5" />
<polygon points="525.5,586.9 521.9,595.2 525.5,593.6 529.1,595.2" fill="#e2001a" />
<text x="532.5" y="596.8" font-size="14" font-weight="bold" fill="#e2001a" text-anchor="start" textLength="9">E</text>
<path d="M532.9,584.2h8.4m-2.4,-1.6l2.6,1.6l-2.6,1.6" stroke="#e2001a" stroke-width="0.8" fill="none" />
<circle cx="552" cy="620.2" r="4.2" fill="url(#gb)" />
<circle cx="552" cy="612" r="2.3" fill="url(#gy)" />
<circle cx="578.5" cy="620.2" r="4.2" fill="url(#gb)" />
<circle cx="578.5" cy="583.2" r="2.6" fill="url(#gy)" />
<line x1="578.5" y1="616.2" x2="578.5" y2="594.2" stroke="#e2001a" stroke-width="1.5" />
<polygon points="578.5,586.9 574.9,595.2 578.5,593.6 582.1,595.2" fill="#e2001a" />
<text x="585.5" y="596.8" font-size="14" font-weight="bold" fill="#e2001a" text-anchor="start" textLength="9">E</text>
<path d="M585.9,584.2h8.4m-2.4,-1.6l2.6,1.6l-2.6,1.6" stroke="#e2001a" stroke-width="0.8" fill="none" />
<circle cx="605" cy="620.2" r="4.2" fill="url(#gb)" />
<circle cx="605" cy="612" r="2.3" fill="url(#gy)" />
<circle cx="631.5" cy="620.2" r="4.2" fill="url(#gb)" />
<circle cx="631.5" cy="583.2" r="2.6" fill="url(#gy)" />
<line x1="631.5" y1="616.2" x2="631.5" y2="594.2" stroke="#e2001a" stroke-width="1.5" />
<polygon points="631.5,586.9 627.9,595.2 631.5,593.6 635.1,595.2" fill="#e2001a" />
<text x="638.5" y="596.8" font-size="14" font-weight="bold" fill="#e2001a" text-anchor="start" textLength="9">E</text>
<path d="M638.9,584.2h8.4m-2.4,-1.6l2.6,1.6l-2.6,1.6" stroke="#e2001a" stroke-width="0.8" fill="none" />
<circle cx="658" cy="620.2" r="4.2" fill="url(#gb)" />
<circle cx="658" cy="612" r="2.3" fill="url(#gy)" />
<circle cx="684.5" cy="620.2" r="4.2" fill="url(#gb)" />
<circle cx="684.5" cy="583.2" r="2.6" fill="url(#gy)" />
<line x1="684.5" y1="616.2" x2="684.5" y2="594.2" stroke="#e2001a" stroke-width="1.5" />
<polygon points="684.5,586.9 680.9,595.2 684.5,593.6 688.1,595.2" fill="#e2001a" />
<text x="691.5" y="596.8" font-size="14" font-weight="bold" fill="#e2001a" text-anchor="start" textLength="9">E</text>
<path d="M691.9,584.2h8.4m-2.4,-1.6l2.6,1.6l-2.6,1.6" stroke="#e2001a" stroke-width="0.8" fill="none" />
<circle cx="711" cy="620.2" r="4.2" fill="url(#gb)" />
<circle cx="711" cy="612" r="2.3" fill="url(#gy)" />
<path d="M477.8,647.62 C480.9,648.33 480.9,650.88 480.9,652.92 L480.9,659.86 Q480.9,661.9 482.9,661.9 L490.8,661.9 Q492.9,661.9 492.9,664.55 L492.9,672.92 C492.9,675.98 494.3,677.51 495.9,677.51 M502.9,677.51 C504.5,677.51 505.9,675.98 505.9,672.92 L505.9,664.55 Q505.9,661.9 508,661.9 L515.9,661.9 Q517.9,661.9 517.9,659.86 L517.9,652.92 C517.9,650.88 517.9,648.33 521,647.62 M528,647.62 C531.1,648.33 531.1,650.88 531.1,652.92 L531.1,659.86 Q531.1,661.9 533.1,661.9 L541,661.9 Q543.1,661.9 543.1,664.55 L543.1,672.92 C543.1,675.98 544.5,677.51 546.1,677.51 M553.1,677.51 C554.7,677.51 556.1,675.98 556.1,672.92 L556.1,664.55 Q556.1,661.9 558.2,661.9 L566.1,661.9 Q568.1,661.9 568.1,659.86 L568.1,652.92 C568.1,650.88 568.1,648.33 571.2,647.62 M578.2,647.62 C581.3,648.33 581.3,650.88 581.3,652.92 L581.3,659.86 Q581.3,661.9 583.3,661.9 L591.2,661.9 Q593.3,661.9 593.3,664.55 L593.3,672.92 C593.3,675.98 594.7,677.51 596.3,677.51 M603.3,677.51 C604.9,677.51 606.3,675.98 606.3,672.92 L606.3,664.55 Q606.3,661.9 608.4,661.9 L616.3,661.9 Q618.3,661.9 618.3,659.86 L618.3,652.92 C618.3,650.88 618.3,648.33 621.4,647.62 M628.4,647.62 C631.5,648.33 631.5,650.88 631.5,652.92 L631.5,659.86 Q631.5,661.9 633.5,661.9 L641.4,661.9 Q643.5,661.9 643.5,664.55 L643.5,672.92 C643.5,675.98 644.9,677.51 646.5,677.51 M653.5,677.51 C655.1,677.51 656.5,675.98 656.5,672.92 L656.5,664.55 Q656.5,661.9 658.6,661.9 L666.5,661.9 Q668.5,661.9 668.5,659.86 L668.5,652.92 C668.5,650.88 668.5,648.33 671.6,647.62 M678.6,647.62 C681.7,648.33 681.7,650.88 681.7,652.92 L681.7,659.86 Q681.7,661.9 683.7,661.9 L691.6,661.9 Q693.7,661.9 693.7,664.55 L693.7,672.92 C693.7,675.98 695.1,677.51 696.7,677.51 M703.7,677.51 C705.3,677.51 706.7,675.98 706.7,672.92 L706.7,664.55 Q706.7,661.9 708.8,661.9 L716.7,661.9 Q718.7,661.9 718.7,659.86 L718.7,652.92 C718.7,650.88 718.7,648.33 721.8,647.62" stroke="#7d7878" stroke-width="0.8" fill="none" />
<path d="M483.6,663.12L490.1,663.12 M508.7,663.12L515.2,663.12 M533.8,663.12L540.3,663.12 M558.9,663.12L565.4,663.12 M584,663.12L590.5,663.12 M609.1,663.12L615.6,663.12 M634.2,663.12L640.7,663.12 M659.3,663.12L665.8,663.12 M684.4,663.12L690.9,663.12 M709.5,663.12L716,663.12" stroke="#ea8f86" stroke-width="1.3" fill="none" />
<circle cx="474.3" cy="646.8" r="3.9" fill="url(#gb)" />
<circle cx="474.3" cy="639.2" r="2.5" fill="url(#gy)" />
<circle cx="499.4" cy="677" r="3.9" fill="url(#gb)" />
<circle cx="499.4" cy="669.4" r="2.5" fill="url(#gy)" />
<circle cx="524.5" cy="646.8" r="3.9" fill="url(#gb)" />
<circle cx="524.5" cy="639.2" r="2.5" fill="url(#gy)" />
<circle cx="549.6" cy="677" r="3.9" fill="url(#gb)" />
<circle cx="549.6" cy="669.4" r="2.5" fill="url(#gy)" />
<circle cx="574.7" cy="646.8" r="3.9" fill="url(#gb)" />
<circle cx="574.7" cy="639.2" r="2.5" fill="url(#gy)" />
<circle cx="599.8" cy="677" r="3.9" fill="url(#gb)" />
<circle cx="599.8" cy="669.4" r="2.5" fill="url(#gy)" />
<circle cx="624.9" cy="646.8" r="3.9" fill="url(#gb)" />
<circle cx="624.9" cy="639.2" r="2.5" fill="url(#gy)" />
<circle cx="650" cy="677" r="3.9" fill="url(#gb)" />
<circle cx="650" cy="669.4" r="2.5" fill="url(#gy)" />
<circle cx="675.1" cy="646.8" r="3.9" fill="url(#gb)" />
<circle cx="675.1" cy="639.2" r="2.5" fill="url(#gy)" />
<circle cx="700.2" cy="677" r="3.9" fill="url(#gb)" />
<circle cx="700.2" cy="669.4" r="2.5" fill="url(#gy)" />
<circle cx="725.3" cy="646.8" r="3.9" fill="url(#gb)" />
<circle cx="725.3" cy="639.2" r="2.5" fill="url(#gy)" />
<path d="M477.8,805.69 C480.9,806.38 480.9,808.86 480.9,810.84 L480.9,817.57 Q480.9,819.55 482.9,819.55 L490.8,819.55 Q492.9,819.55 492.9,822.12 L492.9,830.24 C492.9,833.21 494.3,834.69 495.9,834.69 M502.9,834.69 C504.5,834.69 505.9,833.21 505.9,830.24 L505.9,822.12 Q505.9,819.55 508,819.55 L515.9,819.55 Q517.9,819.55 517.9,817.57 L517.9,810.84 C517.9,808.86 517.9,806.38 521,805.69 M528,805.69 C531.1,806.38 531.1,808.86 531.1,810.84 L531.1,817.57 Q531.1,819.55 533.1,819.55 L541,819.55 Q543.1,819.55 543.1,822.12 L543.1,830.24 C543.1,833.21 544.5,834.69 546.1,834.69 M553.1,834.69 C554.7,834.69 556.1,833.21 556.1,830.24 L556.1,822.12 Q556.1,819.55 558.2,819.55 L566.1,819.55 Q568.1,819.55 568.1,817.57 L568.1,810.84 C568.1,808.86 568.1,806.38 571.2,805.69 M578.2,805.69 C581.3,806.38 581.3,808.86 581.3,810.84 L581.3,817.57 Q581.3,819.55 583.3,819.55 L591.2,819.55 Q593.3,819.55 593.3,822.12 L593.3,830.24 C593.3,833.21 594.7,834.69 596.3,834.69 M603.3,834.69 C604.9,834.69 606.3,833.21 606.3,830.24 L606.3,822.12 Q606.3,819.55 608.4,819.55 L616.3,819.55 Q618.3,819.55 618.3,817.57 L618.3,810.84 C618.3,808.86 618.3,806.38 621.4,805.69 M628.4,805.69 C631.5,806.38 631.5,808.86 631.5,810.84 L631.5,817.57 Q631.5,819.55 633.5,819.55 L641.4,819.55 Q643.5,819.55 643.5,822.12 L643.5,830.24 C643.5,833.21 644.9,834.69 646.5,834.69 M653.5,834.69 C655.1,834.69 656.5,833.21 656.5,830.24 L656.5,822.12 Q656.5,819.55 658.6,819.55 L666.5,819.55 Q668.5,819.55 668.5,817.57 L668.5,810.84 C668.5,808.86 668.5,806.38 671.6,805.69 M678.6,805.69 C681.7,806.38 681.7,808.86 681.7,810.84 L681.7,817.57 Q681.7,819.55 683.7,819.55 L691.6,819.55 Q693.7,819.55 693.7,822.12 L693.7,830.24 C693.7,833.21 695.1,834.69 696.7,834.69 M703.7,834.69 C705.3,834.69 706.7,833.21 706.7,830.24 L706.7,822.12 Q706.7,819.55 708.8,819.55 L716.7,819.55 Q718.7,819.55 718.7,817.57 L718.7,810.84 C718.7,808.86 718.7,806.38 721.8,805.69" stroke="#7d7878" stroke-width="0.8" fill="none" />
<path d="M483.6,820.74L490.1,820.74 M508.7,820.74L515.2,820.74 M533.8,820.74L540.3,820.74 M558.9,820.74L565.4,820.74 M584,820.74L590.5,820.74 M609.1,820.74L615.6,820.74 M634.2,820.74L640.7,820.74 M659.3,820.74L665.8,820.74 M684.4,820.74L690.9,820.74 M709.5,820.74L716,820.74" stroke="#ea8f86" stroke-width="1.3" fill="none" />
<circle cx="474.3" cy="804.9" r="3.9" fill="url(#gb)" />
<circle cx="474.3" cy="797.3" r="2.5" fill="url(#gy)" />
<circle cx="499.4" cy="834.2" r="3.9" fill="url(#gb)" />
<circle cx="499.4" cy="826.6" r="2.5" fill="url(#gy)" />
<circle cx="524.5" cy="804.9" r="3.9" fill="url(#gb)" />
<circle cx="524.5" cy="797.3" r="2.5" fill="url(#gy)" />
<circle cx="549.6" cy="834.2" r="3.9" fill="url(#gb)" />
<circle cx="549.6" cy="826.6" r="2.5" fill="url(#gy)" />
<circle cx="574.7" cy="804.9" r="3.9" fill="url(#gb)" />
<circle cx="574.7" cy="797.3" r="2.5" fill="url(#gy)" />
<circle cx="599.8" cy="834.2" r="3.9" fill="url(#gb)" />
<circle cx="599.8" cy="826.6" r="2.5" fill="url(#gy)" />
<circle cx="624.9" cy="804.9" r="3.9" fill="url(#gb)" />
<circle cx="624.9" cy="797.3" r="2.5" fill="url(#gy)" />
<circle cx="650" cy="834.2" r="3.9" fill="url(#gb)" />
<circle cx="650" cy="826.6" r="2.5" fill="url(#gy)" />
<circle cx="675.1" cy="804.9" r="3.9" fill="url(#gb)" />
<circle cx="675.1" cy="797.3" r="2.5" fill="url(#gy)" />
<circle cx="700.2" cy="834.2" r="3.9" fill="url(#gb)" />
<circle cx="700.2" cy="826.6" r="2.5" fill="url(#gy)" />
<circle cx="725.3" cy="804.9" r="3.9" fill="url(#gb)" />
<circle cx="725.3" cy="797.3" r="2.5" fill="url(#gy)" />
<circle cx="462" cy="563.2" r="4.8" fill="url(#ge)" />
<circle cx="475.74" cy="563.2" r="4.8" fill="url(#ge)" />
<circle cx="489.48" cy="563.2" r="4.8" fill="url(#ge)" />
<circle cx="503.22" cy="563.2" r="4.8" fill="url(#ge)" />
<circle cx="516.96" cy="563.2" r="4.8" fill="url(#ge)" />
<circle cx="530.7" cy="563.2" r="4.8" fill="url(#ge)" />
<circle cx="544.44" cy="563.2" r="4.8" fill="url(#ge)" />
<circle cx="558.18" cy="563.2" r="4.8" fill="url(#ge)" />
<circle cx="571.92" cy="563.2" r="4.8" fill="url(#ge)" />
<circle cx="585.66" cy="563.2" r="4.8" fill="url(#ge)" />
<circle cx="599.4" cy="563.2" r="4.8" fill="url(#ge)" />
<circle cx="613.14" cy="563.2" r="4.8" fill="url(#ge)" />
<circle cx="626.88" cy="563.2" r="4.8" fill="url(#ge)" />
<circle cx="640.62" cy="563.2" r="4.8" fill="url(#ge)" />
<circle cx="654.36" cy="563.2" r="4.8" fill="url(#ge)" />
<circle cx="668.1" cy="563.2" r="4.8" fill="url(#ge)" />
<circle cx="681.84" cy="563.2" r="4.8" fill="url(#ge)" />
<circle cx="695.58" cy="563.2" r="4.8" fill="url(#ge)" />
<circle cx="709.32" cy="563.2" r="4.8" fill="url(#ge)" />
<circle cx="723.06" cy="563.2" r="4.8" fill="url(#ge)" />
<circle cx="736.8" cy="563.2" r="4.8" fill="url(#ge)" />
<rect x="368.3" y="742.3" width="4.3" height="19.4" fill="#757575" />
<rect x="376.8" y="742.3" width="8.3" height="19.4" fill="#757575" />
<rect x="389.5" y="742.3" width="21.5" height="19.4" fill="#757575" />
<polygon points="410.2,732.6 451.6,752 410.2,771.2" fill="#757575" />
<rect x="768.2" y="742.3" width="4.3" height="19.4" fill="#757575" />
<rect x="776.7" y="742.3" width="8.3" height="19.4" fill="#757575" />
<rect x="789.4" y="742.3" width="21.5" height="19.4" fill="#757575" />
<polygon points="810.1,732.6 851.5,752 810.1,771.2" fill="#757575" />
<text x="914" y="546.3" font-size="23" font-weight="bold" fill="#231f20" text-anchor="start" textLength="41.5" lengthAdjust="spacing" >(iii)</text>
<text x="963.5" y="546.3" font-size="23" font-weight="bold" fill="#231f20" text-anchor="start" textLength="32" lengthAdjust="spacing" >UV</text>
<text x="1009.7" y="546.3" font-size="23" font-weight="bold" fill="#231f20" text-anchor="start" textLength="29.2" lengthAdjust="spacing" >on</text>
<text x="1048.2" y="546.3" font-size="23" font-weight="bold" fill="#231f20" text-anchor="start" textLength="43.8" lengthAdjust="spacing" >(t=ε</text>
<path d="M1096.5,539.1H1117.5" stroke="#231f20" stroke-width="1.5" fill="none" />
<path d="M1112.5,535.1l6,4l-6,4" stroke="#231f20" stroke-width="1.5" fill="none" stroke-linejoin="miter"/>
<text x="1121.8" y="546.3" font-size="23" font-weight="bold" fill="#231f20" text-anchor="start" textLength="21.2" lengthAdjust="spacing" >0)</text>
<line x1="879.4" y1="575.7" x2="879.4" y2="843.6" stroke="#dedee3" stroke-width="1" />
<line x1="1146.6" y1="575.7" x2="1146.6" y2="843.6" stroke="#dedee3" stroke-width="1" />
<rect x="868" y="555" width="289" height="20.7" fill="#dcc5e4" />
<rect x="868" y="843.6" width="289" height="19.7" fill="#c6dde7" />
<line x1="880.4" y1="630" x2="1143.6" y2="630" stroke="#a9a4a8" stroke-width="1" stroke-dasharray="3 5.6"/>
<line x1="880.4" y1="684.6" x2="1143.6" y2="684.6" stroke="#a9a4a8" stroke-width="1" stroke-dasharray="3 5.6"/>
<line x1="880.4" y1="789.3" x2="1143.6" y2="789.3" stroke="#a9a4a8" stroke-width="1" stroke-dasharray="3 5.6"/>
<rect x="1014" y="704.8" width="2.4" height="2.4" fill="#5a5a5a" />
<rect x="1014" y="715.72" width="2.4" height="2.4" fill="#5a5a5a" />
<rect x="1014" y="726.64" width="2.4" height="2.4" fill="#5a5a5a" />
<rect x="1014" y="737.56" width="2.4" height="2.4" fill="#5a5a5a" />
<rect x="1014" y="748.48" width="2.4" height="2.4" fill="#5a5a5a" />
<rect x="1014" y="759.4" width="2.4" height="2.4" fill="#5a5a5a" />
<path d="M887.9,619.5 C890.2,618.5 890.2,616 890.2,614 L890.2,609.6 Q890.2,606.6 893.2,606.6 L900.1,606.6 Q903.1,606.6 903.1,609.6 L903.1,615 C903.1,618 904.4,619.2 906.4,619.5 M914.4,619.5 C916.7,618.5 916.7,616 916.7,614 L916.7,609.6 Q916.7,606.6 919.7,606.6 L926.6,606.6 Q929.6,606.6 929.6,609.6 L929.6,615 C929.6,618 930.9,619.2 932.9,619.5 M940.9,619.5 C943.2,618.5 943.2,616 943.2,614 L943.2,609.6 Q943.2,606.6 946.2,606.6 L953.1,606.6 Q956.1,606.6 956.1,609.6 L956.1,615 C956.1,618 957.4,619.2 959.4,619.5 M967.4,619.5 C969.7,618.5 969.7,616 969.7,614 L969.7,609.6 Q969.7,606.6 972.7,606.6 L979.6,606.6 Q982.6,606.6 982.6,609.6 L982.6,615 C982.6,618 983.9,619.2 985.9,619.5 M993.9,619.5 C996.2,618.5 996.2,616 996.2,614 L996.2,609.6 Q996.2,606.6 999.2,606.6 L1006.1,606.6 Q1009.1,606.6 1009.1,609.6 L1009.1,615 C1009.1,618 1010.4,619.2 1012.4,619.5 M1020.4,619.5 C1022.7,618.5 1022.7,616 1022.7,614 L1022.7,609.6 Q1022.7,606.6 1025.7,606.6 L1032.6,606.6 Q1035.6,606.6 1035.6,609.6 L1035.6,615 C1035.6,618 1036.9,619.2 1038.9,619.5 M1046.9,619.5 C1049.2,618.5 1049.2,616 1049.2,614 L1049.2,609.6 Q1049.2,606.6 1052.2,606.6 L1059.1,606.6 Q1062.1,606.6 1062.1,609.6 L1062.1,615 C1062.1,618 1063.4,619.2 1065.4,619.5 M1073.4,619.5 C1075.7,618.5 1075.7,616 1075.7,614 L1075.7,609.6 Q1075.7,606.6 1078.7,606.6 L1085.6,606.6 Q1088.6,606.6 1088.6,609.6 L1088.6,615 C1088.6,618 1089.9,619.2 1091.9,619.5 M1099.9,619.5 C1102.2,618.5 1102.2,616 1102.2,614 L1102.2,609.6 Q1102.2,606.6 1105.2,606.6 L1112.1,606.6 Q1115.1,606.6 1115.1,609.6 L1115.1,615 C1115.1,618 1116.4,619.2 1118.4,619.5 M1126.4,619.5 C1128.7,618.5 1128.7,616 1128.7,614 L1128.7,609.6 Q1128.7,606.6 1131.7,606.6 L1138.6,606.6 Q1141.6,606.6 1141.6,609.6 L1141.6,615 L1141.6,617" stroke="#7d7878" stroke-width="0.8" fill="none" />
<path d="M893.5,604.4L899.5,604.4 M920,604.4L926,604.4 M946.5,604.4L952.5,604.4 M973,604.4L979,604.4 M999.5,604.4L1005.5,604.4 M1026,604.4L1032,604.4 M1052.5,604.4L1058.5,604.4 M1079,604.4L1085,604.4 M1105.5,604.4L1111.5,604.4 M1132,604.4L1138,604.4" stroke="#ea8f86" stroke-width="1.3" fill="none" />
<circle cx="883.9" cy="620" r="4.2" fill="url(#gb)" />
<circle cx="883.9" cy="583" r="2.6" fill="url(#gy)" />
<line x1="883.9" y1="616" x2="883.9" y2="594" stroke="#e2001a" stroke-width="1.5" />
<polygon points="883.9,586.7 880.3,595 883.9,593.4 887.5,595" fill="#e2001a" />
<text x="890.9" y="596.6" font-size="14" font-weight="bold" fill="#e2001a" text-anchor="start" textLength="9">E</text>
<path d="M891.3,584h8.4m-2.4,-1.6l2.6,1.6l-2.6,1.6" stroke="#e2001a" stroke-width="0.8" fill="none" />
<circle cx="910.4" cy="620" r="4.2" fill="url(#gb)" />
<circle cx="910.4" cy="611.8" r="2.3" fill="url(#gy)" />
<circle cx="936.9" cy="620" r="4.2" fill="url(#gb)" />
<circle cx="936.9" cy="583" r="2.6" fill="url(#gy)" />
<line x1="936.9" y1="616" x2="936.9" y2="594" stroke="#e2001a" stroke-width="1.5" />
<polygon points="936.9,586.7 933.3,595 936.9,593.4 940.5,595" fill="#e2001a" />
<text x="943.9" y="596.6" font-size="14" font-weight="bold" fill="#e2001a" text-anchor="start" textLength="9">E</text>
<path d="M944.3,584h8.4m-2.4,-1.6l2.6,1.6l-2.6,1.6" stroke="#e2001a" stroke-width="0.8" fill="none" />
<circle cx="963.4" cy="620" r="4.2" fill="url(#gb)" />
<circle cx="963.4" cy="611.8" r="2.3" fill="url(#gy)" />
<circle cx="989.9" cy="620" r="4.2" fill="url(#gb)" />
<circle cx="989.9" cy="583" r="2.6" fill="url(#gy)" />
<line x1="989.9" y1="616" x2="989.9" y2="594" stroke="#e2001a" stroke-width="1.5" />
<polygon points="989.9,586.7 986.3,595 989.9,593.4 993.5,595" fill="#e2001a" />
<text x="996.9" y="596.6" font-size="14" font-weight="bold" fill="#e2001a" text-anchor="start" textLength="9">E</text>
<path d="M997.3,584h8.4m-2.4,-1.6l2.6,1.6l-2.6,1.6" stroke="#e2001a" stroke-width="0.8" fill="none" />
<circle cx="1016.4" cy="620" r="4.2" fill="url(#gb)" />
<circle cx="1016.4" cy="611.8" r="2.3" fill="url(#gy)" />
<circle cx="1042.9" cy="620" r="4.2" fill="url(#gb)" />
<circle cx="1042.9" cy="583" r="2.6" fill="url(#gy)" />
<line x1="1042.9" y1="616" x2="1042.9" y2="594" stroke="#e2001a" stroke-width="1.5" />
<polygon points="1042.9,586.7 1039.3,595 1042.9,593.4 1046.5,595" fill="#e2001a" />
<text x="1049.9" y="596.6" font-size="14" font-weight="bold" fill="#e2001a" text-anchor="start" textLength="9">E</text>
<path d="M1050.3,584h8.4m-2.4,-1.6l2.6,1.6l-2.6,1.6" stroke="#e2001a" stroke-width="0.8" fill="none" />
<circle cx="1069.4" cy="620" r="4.2" fill="url(#gb)" />
<circle cx="1069.4" cy="611.8" r="2.3" fill="url(#gy)" />
<circle cx="1095.9" cy="620" r="4.2" fill="url(#gb)" />
<circle cx="1095.9" cy="583" r="2.6" fill="url(#gy)" />
<line x1="1095.9" y1="616" x2="1095.9" y2="594" stroke="#e2001a" stroke-width="1.5" />
<polygon points="1095.9,586.7 1092.3,595 1095.9,593.4 1099.5,595" fill="#e2001a" />
<text x="1102.9" y="596.6" font-size="14" font-weight="bold" fill="#e2001a" text-anchor="start" textLength="9">E</text>
<path d="M1103.3,584h8.4m-2.4,-1.6l2.6,1.6l-2.6,1.6" stroke="#e2001a" stroke-width="0.8" fill="none" />
<circle cx="1122.4" cy="620" r="4.2" fill="url(#gb)" />
<circle cx="1122.4" cy="611.8" r="2.3" fill="url(#gy)" />
<path d="M889.8,646.63 C892.9,647.36 892.9,649.96 892.9,652.04 L892.9,659.12 Q892.9,661.2 894.9,661.2 L902.8,661.2 Q904.9,661.2 904.9,663.91 L904.9,672.44 C904.9,675.56 906.3,677.12 907.9,677.12 M914.9,677.12 C916.5,677.12 917.9,675.56 917.9,672.44 L917.9,663.91 Q917.9,661.2 920,661.2 L927.9,661.2 Q929.9,661.2 929.9,659.12 L929.9,652.04 C929.9,649.96 929.9,647.36 933,646.63 M940,646.63 C943.1,647.36 943.1,649.96 943.1,652.04 L943.1,659.12 Q943.1,661.2 945.1,661.2 L953,661.2 Q955.1,661.2 955.1,663.91 L955.1,672.44 C955.1,675.56 956.5,677.12 958.1,677.12 M965.1,677.12 C966.7,677.12 968.1,675.56 968.1,672.44 L968.1,663.91 Q968.1,661.2 970.2,661.2 L978.1,661.2 Q980.1,661.2 980.1,659.12 L980.1,652.04 C980.1,649.96 980.1,647.36 983.2,646.63 M990.2,646.63 C993.3,647.36 993.3,649.96 993.3,652.04 L993.3,659.12 Q993.3,661.2 995.3,661.2 L1003.2,661.2 Q1005.3,661.2 1005.3,663.91 L1005.3,672.44 C1005.3,675.56 1006.7,677.12 1008.3,677.12 M1015.3,677.12 C1016.9,677.12 1018.3,675.56 1018.3,672.44 L1018.3,663.91 Q1018.3,661.2 1020.4,661.2 L1028.3,661.2 Q1030.3,661.2 1030.3,659.12 L1030.3,652.04 C1030.3,649.96 1030.3,647.36 1033.4,646.63 M1040.4,646.63 C1043.5,647.36 1043.5,649.96 1043.5,652.04 L1043.5,659.12 Q1043.5,661.2 1045.5,661.2 L1053.4,661.2 Q1055.5,661.2 1055.5,663.91 L1055.5,672.44 C1055.5,675.56 1056.9,677.12 1058.5,677.12 M1065.5,677.12 C1067.1,677.12 1068.5,675.56 1068.5,672.44 L1068.5,663.91 Q1068.5,661.2 1070.6,661.2 L1078.5,661.2 Q1080.5,661.2 1080.5,659.12 L1080.5,652.04 C1080.5,649.96 1080.5,647.36 1083.6,646.63 M1090.6,646.63 C1093.7,647.36 1093.7,649.96 1093.7,652.04 L1093.7,659.12 Q1093.7,661.2 1095.7,661.2 L1103.6,661.2 Q1105.7,661.2 1105.7,663.91 L1105.7,672.44 C1105.7,675.56 1107.1,677.12 1108.7,677.12 M1115.7,677.12 C1117.3,677.12 1118.7,675.56 1118.7,672.44 L1118.7,663.91 Q1118.7,661.2 1120.8,661.2 L1128.7,661.2 Q1130.7,661.2 1130.7,659.12 L1130.7,652.04 C1130.7,649.96 1130.7,647.36 1133.8,646.63" stroke="#7d7878" stroke-width="0.8" fill="none" />
<path d="M895.6,662.45L902.1,662.45 M920.7,662.45L927.2,662.45 M945.8,662.45L952.3,662.45 M970.9,662.45L977.4,662.45 M996,662.45L1002.5,662.45 M1021.1,662.45L1027.6,662.45 M1046.2,662.45L1052.7,662.45 M1071.3,662.45L1077.8,662.45 M1096.4,662.45L1102.9,662.45 M1121.5,662.45L1128,662.45" stroke="#ea8f86" stroke-width="1.3" fill="none" />
<circle cx="886.3" cy="645.8" r="3.9" fill="url(#gb)" />
<circle cx="886.3" cy="638.2" r="2.5" fill="url(#gy)" />
<circle cx="911.4" cy="676.6" r="3.9" fill="url(#gb)" />
<circle cx="911.4" cy="669" r="2.5" fill="url(#gy)" />
<circle cx="936.5" cy="645.8" r="3.9" fill="url(#gb)" />
<circle cx="936.5" cy="638.2" r="2.5" fill="url(#gy)" />
<circle cx="961.6" cy="676.6" r="3.9" fill="url(#gb)" />
<circle cx="961.6" cy="669" r="2.5" fill="url(#gy)" />
<circle cx="986.7" cy="645.8" r="3.9" fill="url(#gb)" />
<circle cx="986.7" cy="638.2" r="2.5" fill="url(#gy)" />
<circle cx="1011.8" cy="676.6" r="3.9" fill="url(#gb)" />
<circle cx="1011.8" cy="669" r="2.5" fill="url(#gy)" />
<circle cx="1036.9" cy="645.8" r="3.9" fill="url(#gb)" />
<circle cx="1036.9" cy="638.2" r="2.5" fill="url(#gy)" />
<circle cx="1062" cy="676.6" r="3.9" fill="url(#gb)" />
<circle cx="1062" cy="669" r="2.5" fill="url(#gy)" />
<circle cx="1087.1" cy="645.8" r="3.9" fill="url(#gb)" />
<circle cx="1087.1" cy="638.2" r="2.5" fill="url(#gy)" />
<circle cx="1112.2" cy="676.6" r="3.9" fill="url(#gb)" />
<circle cx="1112.2" cy="669" r="2.5" fill="url(#gy)" />
<circle cx="1137.3" cy="645.8" r="3.9" fill="url(#gb)" />
<circle cx="1137.3" cy="638.2" r="2.5" fill="url(#gy)" />
<path d="M889.8,806.99 C892.9,807.69 892.9,810.17 892.9,812.16 L892.9,818.91 Q892.9,820.9 894.9,820.9 L902.8,820.9 Q904.9,820.9 904.9,823.48 L904.9,831.63 C904.9,834.61 906.3,836.1 907.9,836.1 M914.9,836.1 C916.5,836.1 917.9,834.61 917.9,831.63 L917.9,823.48 Q917.9,820.9 920,820.9 L927.9,820.9 Q929.9,820.9 929.9,818.91 L929.9,812.16 C929.9,810.17 929.9,807.69 933,806.99 M940,806.99 C943.1,807.69 943.1,810.17 943.1,812.16 L943.1,818.91 Q943.1,820.9 945.1,820.9 L953,820.9 Q955.1,820.9 955.1,823.48 L955.1,831.63 C955.1,834.61 956.5,836.1 958.1,836.1 M965.1,836.1 C966.7,836.1 968.1,834.61 968.1,831.63 L968.1,823.48 Q968.1,820.9 970.2,820.9 L978.1,820.9 Q980.1,820.9 980.1,818.91 L980.1,812.16 C980.1,810.17 980.1,807.69 983.2,806.99 M990.2,806.99 C993.3,807.69 993.3,810.17 993.3,812.16 L993.3,818.91 Q993.3,820.9 995.3,820.9 L1003.2,820.9 Q1005.3,820.9 1005.3,823.48 L1005.3,831.63 C1005.3,834.61 1006.7,836.1 1008.3,836.1 M1015.3,836.1 C1016.9,836.1 1018.3,834.61 1018.3,831.63 L1018.3,823.48 Q1018.3,820.9 1020.4,820.9 L1028.3,820.9 Q1030.3,820.9 1030.3,818.91 L1030.3,812.16 C1030.3,810.17 1030.3,807.69 1033.4,806.99 M1040.4,806.99 C1043.5,807.69 1043.5,810.17 1043.5,812.16 L1043.5,818.91 Q1043.5,820.9 1045.5,820.9 L1053.4,820.9 Q1055.5,820.9 1055.5,823.48 L1055.5,831.63 C1055.5,834.61 1056.9,836.1 1058.5,836.1 M1065.5,836.1 C1067.1,836.1 1068.5,834.61 1068.5,831.63 L1068.5,823.48 Q1068.5,820.9 1070.6,820.9 L1078.5,820.9 Q1080.5,820.9 1080.5,818.91 L1080.5,812.16 C1080.5,810.17 1080.5,807.69 1083.6,806.99 M1090.6,806.99 C1093.7,807.69 1093.7,810.17 1093.7,812.16 L1093.7,818.91 Q1093.7,820.9 1095.7,820.9 L1103.6,820.9 Q1105.7,820.9 1105.7,823.48 L1105.7,831.63 C1105.7,834.61 1107.1,836.1 1108.7,836.1 M1115.7,836.1 C1117.3,836.1 1118.7,834.61 1118.7,831.63 L1118.7,823.48 Q1118.7,820.9 1120.8,820.9 L1128.7,820.9 Q1130.7,820.9 1130.7,818.91 L1130.7,812.16 C1130.7,810.17 1130.7,807.69 1133.8,806.99" stroke="#7d7878" stroke-width="0.8" fill="none" />
<path d="M895.6,822.09L902.1,822.09 M920.7,822.09L927.2,822.09 M945.8,822.09L952.3,822.09 M970.9,822.09L977.4,822.09 M996,822.09L1002.5,822.09 M1021.1,822.09L1027.6,822.09 M1046.2,822.09L1052.7,822.09 M1071.3,822.09L1077.8,822.09 M1096.4,822.09L1102.9,822.09 M1121.5,822.09L1128,822.09" stroke="#ea8f86" stroke-width="1.3" fill="none" />
<circle cx="886.3" cy="806.2" r="3.9" fill="url(#gb)" />
<circle cx="886.3" cy="798.6" r="2.5" fill="url(#gy)" />
<circle cx="911.4" cy="835.6" r="3.9" fill="url(#gb)" />
<circle cx="911.4" cy="828" r="2.5" fill="url(#gy)" />
<circle cx="936.5" cy="806.2" r="3.9" fill="url(#gb)" />
<circle cx="936.5" cy="798.6" r="2.5" fill="url(#gy)" />
<circle cx="961.6" cy="835.6" r="3.9" fill="url(#gb)" />
<circle cx="961.6" cy="828" r="2.5" fill="url(#gy)" />
<circle cx="986.7" cy="806.2" r="3.9" fill="url(#gb)" />
<circle cx="986.7" cy="798.6" r="2.5" fill="url(#gy)" />
<circle cx="1011.8" cy="835.6" r="3.9" fill="url(#gb)" />
<circle cx="1011.8" cy="828" r="2.5" fill="url(#gy)" />
<circle cx="1036.9" cy="806.2" r="3.9" fill="url(#gb)" />
<circle cx="1036.9" cy="798.6" r="2.5" fill="url(#gy)" />
<circle cx="1062" cy="835.6" r="3.9" fill="url(#gb)" />
<circle cx="1062" cy="828" r="2.5" fill="url(#gy)" />
<circle cx="1087.1" cy="806.2" r="3.9" fill="url(#gb)" />
<circle cx="1087.1" cy="798.6" r="2.5" fill="url(#gy)" />
<circle cx="1112.2" cy="835.6" r="3.9" fill="url(#gb)" />
<circle cx="1112.2" cy="828" r="2.5" fill="url(#gy)" />
<circle cx="1137.3" cy="806.2" r="3.9" fill="url(#gb)" />
<circle cx="1137.3" cy="798.6" r="2.5" fill="url(#gy)" />
<circle cx="874.2" cy="563.6" r="4.8" fill="url(#ge)" />
<circle cx="901.71" cy="563.6" r="4.8" fill="url(#ge)" />
<circle cx="929.22" cy="563.6" r="4.8" fill="url(#ge)" />
<circle cx="956.73" cy="563.6" r="4.8" fill="url(#ge)" />
<circle cx="984.24" cy="563.6" r="4.8" fill="url(#ge)" />
<circle cx="1011.75" cy="563.6" r="4.8" fill="url(#ge)" />
<circle cx="1039.26" cy="563.6" r="4.8" fill="url(#ge)" />
<circle cx="1066.77" cy="563.6" r="4.8" fill="url(#ge)" />
<circle cx="1094.28" cy="563.6" r="4.8" fill="url(#ge)" />
<circle cx="1121.79" cy="563.6" r="4.8" fill="url(#ge)" />
<circle cx="1149.3" cy="563.6" r="4.8" fill="url(#ge)" />
<circle cx="902.5" cy="855" r="4.8" fill="url(#ge)" />
<circle cx="1006.2" cy="855" r="4.8" fill="url(#ge)" />
<circle cx="1109.2" cy="855" r="4.8" fill="url(#ge)" />
<path d="M1157,563.6H1199V851.5H1157" stroke="#231f20" stroke-width="3.6" fill="none" stroke-linejoin="miter"/>
<circle cx="1199" cy="577.4" r="7" fill="url(#ge2)" />
<circle cx="1199" cy="611" r="7" fill="url(#ge2)" />
<circle cx="1199" cy="758.9" r="7" fill="url(#ge2)" />
<path d="M1199.5,650.5 L1184.3,620 Q1199.5,629.76 1214.7,620 Z" stroke="none" stroke-width="0" fill="#231f20" />
<path d="M1199.5,821 L1184.3,790 Q1199.5,799.92 1214.7,790 Z" stroke="none" stroke-width="0" fill="#231f20" />
<circle cx="1197.4" cy="696.7" r="19.2" fill="#fff" stroke="#231f20" stroke-width="3"/>
<line x1="1185.93" y1="706.33" x2="1201.29" y2="693.44" stroke="#e2001a" stroke-width="2.69" />
<polygon points="1208.87,687.07 1204.2,700.02 1201.52,693.24 1195.31,689.43" fill="#e2001a" />
<text x="1216.4" y="605" font-size="23" font-weight="bold" fill="#231f20" text-anchor="start" textLength="51.2" lengthAdjust="spacing" >drift</text>
<polygon points="1213,731.2 1289,731.2 1289,807.3 1297.6,807.3 1280.5,823 1263,807.3 1272.4,807.3 1272.4,746.8 1213,746.8" fill="#757575" />
<text x="996.2" y="931.2" font-size="23" font-weight="bold" fill="#231f20" text-anchor="start" textLength="40.6" lengthAdjust="spacing" >(iv)</text>
<text x="1044.8" y="931.2" font-size="23" font-weight="bold" fill="#231f20" text-anchor="start" textLength="32" lengthAdjust="spacing" >UV</text>
<text x="1091" y="931.2" font-size="23" font-weight="bold" fill="#231f20" text-anchor="start" textLength="29.2" lengthAdjust="spacing" >on</text>
<text x="1129.5" y="931.2" font-size="23" font-weight="bold" fill="#231f20" text-anchor="start" textLength="43.8" lengthAdjust="spacing" >(t&gt;ε</text>
<path d="M1177.8,924H1198.8" stroke="#231f20" stroke-width="1.5" fill="none" />
<path d="M1193.8,920l6,4l-6,4" stroke="#231f20" stroke-width="1.5" fill="none" stroke-linejoin="miter"/>
<text x="1203.1" y="931.2" font-size="23" font-weight="bold" fill="#231f20" text-anchor="start" textLength="21.2" lengthAdjust="spacing" >0)</text>
<line x1="965.4" y1="959.3" x2="965.4" y2="1227.3" stroke="#dedee3" stroke-width="1" />
<line x1="1232.4" y1="959.3" x2="1232.4" y2="1227.3" stroke="#dedee3" stroke-width="1" />
<rect x="954.6" y="939.7" width="288.3" height="19.6" fill="#dcc5e4" />
<rect x="954.6" y="1227.3" width="288.3" height="19.9" fill="#c6dde7" />
<line x1="966.4" y1="1014.4" x2="1229.4" y2="1014.4" stroke="#a9a4a8" stroke-width="1" stroke-dasharray="3 5.6"/>
<line x1="966.4" y1="1069.1" x2="1229.4" y2="1069.1" stroke="#a9a4a8" stroke-width="1" stroke-dasharray="3 5.6"/>
<line x1="966.4" y1="1171.2" x2="1229.4" y2="1171.2" stroke="#a9a4a8" stroke-width="1" stroke-dasharray="3 5.6"/>
<rect x="1102.1" y="1084.8" width="2.4" height="2.4" fill="#5a5a5a" />
<rect x="1102.1" y="1095.96" width="2.4" height="2.4" fill="#5a5a5a" />
<rect x="1102.1" y="1107.12" width="2.4" height="2.4" fill="#5a5a5a" />
<rect x="1102.1" y="1118.28" width="2.4" height="2.4" fill="#5a5a5a" />
<rect x="1102.1" y="1129.44" width="2.4" height="2.4" fill="#5a5a5a" />
<rect x="1102.1" y="1140.6" width="2.4" height="2.4" fill="#5a5a5a" />
<path d="M974.8,1002 C977.1,1001 977.1,998.5 977.1,996.5 L977.1,992.1 Q977.1,989.1 980.1,989.1 L987,989.1 Q990,989.1 990,992.1 L990,997.5 C990,1000.5 991.3,1001.7 993.3,1002 M1001.3,1002 C1003.6,1001 1003.6,998.5 1003.6,996.5 L1003.6,992.1 Q1003.6,989.1 1006.6,989.1 L1013.5,989.1 Q1016.5,989.1 1016.5,992.1 L1016.5,997.5 C1016.5,1000.5 1017.8,1001.7 1019.8,1002 M1027.8,1002 C1030.1,1001 1030.1,998.5 1030.1,996.5 L1030.1,992.1 Q1030.1,989.1 1033.1,989.1 L1040,989.1 Q1043,989.1 1043,992.1 L1043,997.5 C1043,1000.5 1044.3,1001.7 1046.3,1002 M1054.3,1002 C1056.6,1001 1056.6,998.5 1056.6,996.5 L1056.6,992.1 Q1056.6,989.1 1059.6,989.1 L1066.5,989.1 Q1069.5,989.1 1069.5,992.1 L1069.5,997.5 C1069.5,1000.5 1070.8,1001.7 1072.8,1002 M1080.8,1002 C1083.1,1001 1083.1,998.5 1083.1,996.5 L1083.1,992.1 Q1083.1,989.1 1086.1,989.1 L1093,989.1 Q1096,989.1 1096,992.1 L1096,997.5 C1096,1000.5 1097.3,1001.7 1099.3,1002 M1107.3,1002 C1109.6,1001 1109.6,998.5 1109.6,996.5 L1109.6,992.1 Q1109.6,989.1 1112.6,989.1 L1119.5,989.1 Q1122.5,989.1 1122.5,992.1 L1122.5,997.5 C1122.5,1000.5 1123.8,1001.7 1125.8,1002 M1133.8,1002 C1136.1,1001 1136.1,998.5 1136.1,996.5 L1136.1,992.1 Q1136.1,989.1 1139.1,989.1 L1146,989.1 Q1149,989.1 1149,992.1 L1149,997.5 C1149,1000.5 1150.3,1001.7 1152.3,1002 M1160.3,1002 C1162.6,1001 1162.6,998.5 1162.6,996.5 L1162.6,992.1 Q1162.6,989.1 1165.6,989.1 L1172.5,989.1 Q1175.5,989.1 1175.5,992.1 L1175.5,997.5 C1175.5,1000.5 1176.8,1001.7 1178.8,1002 M1186.8,1002 C1189.1,1001 1189.1,998.5 1189.1,996.5 L1189.1,992.1 Q1189.1,989.1 1192.1,989.1 L1199,989.1 Q1202,989.1 1202,992.1 L1202,997.5 C1202,1000.5 1203.3,1001.7 1205.3,1002 M1213.3,1002 C1215.6,1001 1215.6,998.5 1215.6,996.5 L1215.6,992.1 Q1215.6,989.1 1218.6,989.1 L1225.5,989.1 Q1228.5,989.1 1228.5,992.1 L1228.5,997.5 L1228.5,999.5" stroke="#7d7878" stroke-width="0.8" fill="none" />
<path d="M980.4,986.9L986.4,986.9 M1006.9,986.9L1012.9,986.9 M1033.4,986.9L1039.4,986.9 M1059.9,986.9L1065.9,986.9 M1086.4,986.9L1092.4,986.9 M1112.9,986.9L1118.9,986.9 M1139.4,986.9L1145.4,986.9 M1165.9,986.9L1171.9,986.9 M1192.4,986.9L1198.4,986.9 M1218.9,986.9L1224.9,986.9" stroke="#ea8f86" stroke-width="1.3" fill="none" />
<circle cx="970.8" cy="1002.5" r="4.2" fill="url(#gb)" />
<circle cx="970.8" cy="978.5" r="2.6" fill="url(#gy)" />
<line x1="970.8" y1="982" x2="970.8" y2="994.5" stroke="#1414c8" stroke-width="1.8" />
<polygon points="970.8,998 966.8,991 970.8,992.7 974.8,991" fill="#1414c8" />
<circle cx="997.3" cy="1002.5" r="4.2" fill="url(#gb)" />
<circle cx="997.3" cy="994.3" r="2.3" fill="url(#gy)" />
<circle cx="1023.8" cy="1002.5" r="4.2" fill="url(#gb)" />
<circle cx="1023.8" cy="978.5" r="2.6" fill="url(#gy)" />
<line x1="1023.8" y1="982" x2="1023.8" y2="994.5" stroke="#1414c8" stroke-width="1.8" />
<polygon points="1023.8,998 1019.8,991 1023.8,992.7 1027.8,991" fill="#1414c8" />
<circle cx="1050.3" cy="1002.5" r="4.2" fill="url(#gb)" />
<circle cx="1050.3" cy="994.3" r="2.3" fill="url(#gy)" />
<circle cx="1076.8" cy="1002.5" r="4.2" fill="url(#gb)" />
<circle cx="1076.8" cy="978.5" r="2.6" fill="url(#gy)" />
<line x1="1076.8" y1="982" x2="1076.8" y2="994.5" stroke="#1414c8" stroke-width="1.8" />
<polygon points="1076.8,998 1072.8,991 1076.8,992.7 1080.8,991" fill="#1414c8" />
<circle cx="1103.3" cy="1002.5" r="4.2" fill="url(#gb)" />
<circle cx="1103.3" cy="994.3" r="2.3" fill="url(#gy)" />
<circle cx="1129.8" cy="1002.5" r="4.2" fill="url(#gb)" />
<circle cx="1129.8" cy="978.5" r="2.6" fill="url(#gy)" />
<line x1="1129.8" y1="982" x2="1129.8" y2="994.5" stroke="#1414c8" stroke-width="1.8" />
<polygon points="1129.8,998 1125.8,991 1129.8,992.7 1133.8,991" fill="#1414c8" />
<circle cx="1156.3" cy="1002.5" r="4.2" fill="url(#gb)" />
<circle cx="1156.3" cy="994.3" r="2.3" fill="url(#gy)" />
<circle cx="1182.8" cy="1002.5" r="4.2" fill="url(#gb)" />
<circle cx="1182.8" cy="978.5" r="2.6" fill="url(#gy)" />
<line x1="1182.8" y1="982" x2="1182.8" y2="994.5" stroke="#1414c8" stroke-width="1.8" />
<polygon points="1182.8,998 1178.8,991 1182.8,992.7 1186.8,991" fill="#1414c8" />
<circle cx="1209.3" cy="1002.5" r="4.2" fill="url(#gb)" />
<circle cx="1209.3" cy="994.3" r="2.3" fill="url(#gy)" />
<path d="M976,1030.03 C979.1,1030.76 979.1,1033.36 979.1,1035.44 L979.1,1042.52 Q979.1,1044.6 981.1,1044.6 L989,1044.6 Q991.1,1044.6 991.1,1047.31 L991.1,1055.84 C991.1,1058.96 992.5,1060.52 994.1,1060.52 M1001.1,1060.52 C1002.7,1060.52 1004.1,1058.96 1004.1,1055.84 L1004.1,1047.31 Q1004.1,1044.6 1006.2,1044.6 L1014.1,1044.6 Q1016.1,1044.6 1016.1,1042.52 L1016.1,1035.44 C1016.1,1033.36 1016.1,1030.76 1019.2,1030.03 M1026.2,1030.03 C1029.3,1030.76 1029.3,1033.36 1029.3,1035.44 L1029.3,1042.52 Q1029.3,1044.6 1031.3,1044.6 L1039.2,1044.6 Q1041.3,1044.6 1041.3,1047.31 L1041.3,1055.84 C1041.3,1058.96 1042.7,1060.52 1044.3,1060.52 M1051.3,1060.52 C1052.9,1060.52 1054.3,1058.96 1054.3,1055.84 L1054.3,1047.31 Q1054.3,1044.6 1056.4,1044.6 L1064.3,1044.6 Q1066.3,1044.6 1066.3,1042.52 L1066.3,1035.44 C1066.3,1033.36 1066.3,1030.76 1069.4,1030.03 M1076.4,1030.03 C1079.5,1030.76 1079.5,1033.36 1079.5,1035.44 L1079.5,1042.52 Q1079.5,1044.6 1081.5,1044.6 L1089.4,1044.6 Q1091.5,1044.6 1091.5,1047.31 L1091.5,1055.84 C1091.5,1058.96 1092.9,1060.52 1094.5,1060.52 M1101.5,1060.52 C1103.1,1060.52 1104.5,1058.96 1104.5,1055.84 L1104.5,1047.31 Q1104.5,1044.6 1106.6,1044.6 L1114.5,1044.6 Q1116.5,1044.6 1116.5,1042.52 L1116.5,1035.44 C1116.5,1033.36 1116.5,1030.76 1119.6,1030.03 M1126.6,1030.03 C1129.7,1030.76 1129.7,1033.36 1129.7,1035.44 L1129.7,1042.52 Q1129.7,1044.6 1131.7,1044.6 L1139.6,1044.6 Q1141.7,1044.6 1141.7,1047.31 L1141.7,1055.84 C1141.7,1058.96 1143.1,1060.52 1144.7,1060.52 M1151.7,1060.52 C1153.3,1060.52 1154.7,1058.96 1154.7,1055.84 L1154.7,1047.31 Q1154.7,1044.6 1156.8,1044.6 L1164.7,1044.6 Q1166.7,1044.6 1166.7,1042.52 L1166.7,1035.44 C1166.7,1033.36 1166.7,1030.76 1169.8,1030.03 M1176.8,1030.03 C1179.9,1030.76 1179.9,1033.36 1179.9,1035.44 L1179.9,1042.52 Q1179.9,1044.6 1181.9,1044.6 L1189.8,1044.6 Q1191.9,1044.6 1191.9,1047.31 L1191.9,1055.84 C1191.9,1058.96 1193.3,1060.52 1194.9,1060.52 M1201.9,1060.52 C1203.5,1060.52 1204.9,1058.96 1204.9,1055.84 L1204.9,1047.31 Q1204.9,1044.6 1207,1044.6 L1214.9,1044.6 Q1216.9,1044.6 1216.9,1042.52 L1216.9,1035.44 C1216.9,1033.36 1216.9,1030.76 1220,1030.03" stroke="#7d7878" stroke-width="0.8" fill="none" />
<path d="M981.8,1045.85L988.3,1045.85 M1006.9,1045.85L1013.4,1045.85 M1032,1045.85L1038.5,1045.85 M1057.1,1045.85L1063.6,1045.85 M1082.2,1045.85L1088.7,1045.85 M1107.3,1045.85L1113.8,1045.85 M1132.4,1045.85L1138.9,1045.85 M1157.5,1045.85L1164,1045.85 M1182.6,1045.85L1189.1,1045.85 M1207.7,1045.85L1214.2,1045.85" stroke="#ea8f86" stroke-width="1.3" fill="none" />
<circle cx="972.5" cy="1029.2" r="3.9" fill="url(#gb)" />
<circle cx="972.5" cy="1021.6" r="2.5" fill="url(#gy)" />
<circle cx="997.6" cy="1060" r="3.9" fill="url(#gb)" />
<circle cx="997.6" cy="1052.4" r="2.5" fill="url(#gy)" />
<circle cx="1022.7" cy="1029.2" r="3.9" fill="url(#gb)" />
<circle cx="1022.7" cy="1021.6" r="2.5" fill="url(#gy)" />
<circle cx="1047.8" cy="1060" r="3.9" fill="url(#gb)" />
<circle cx="1047.8" cy="1052.4" r="2.5" fill="url(#gy)" />
<circle cx="1072.9" cy="1029.2" r="3.9" fill="url(#gb)" />
<circle cx="1072.9" cy="1021.6" r="2.5" fill="url(#gy)" />
<circle cx="1098" cy="1060" r="3.9" fill="url(#gb)" />
<circle cx="1098" cy="1052.4" r="2.5" fill="url(#gy)" />
<circle cx="1123.1" cy="1029.2" r="3.9" fill="url(#gb)" />
<circle cx="1123.1" cy="1021.6" r="2.5" fill="url(#gy)" />
<circle cx="1148.2" cy="1060" r="3.9" fill="url(#gb)" />
<circle cx="1148.2" cy="1052.4" r="2.5" fill="url(#gy)" />
<circle cx="1173.3" cy="1029.2" r="3.9" fill="url(#gb)" />
<circle cx="1173.3" cy="1021.6" r="2.5" fill="url(#gy)" />
<circle cx="1198.4" cy="1060" r="3.9" fill="url(#gb)" />
<circle cx="1198.4" cy="1052.4" r="2.5" fill="url(#gy)" />
<circle cx="1223.5" cy="1029.2" r="3.9" fill="url(#gb)" />
<circle cx="1223.5" cy="1021.6" r="2.5" fill="url(#gy)" />
<path d="M976,1189.92 C979.1,1190.64 979.1,1193.21 979.1,1195.26 L979.1,1202.25 Q979.1,1204.3 981.1,1204.3 L989,1204.3 Q991.1,1204.3 991.1,1206.97 L991.1,1215.39 C991.1,1218.47 992.5,1220.01 994.1,1220.01 M1001.1,1220.01 C1002.7,1220.01 1004.1,1218.47 1004.1,1215.39 L1004.1,1206.97 Q1004.1,1204.3 1006.2,1204.3 L1014.1,1204.3 Q1016.1,1204.3 1016.1,1202.25 L1016.1,1195.26 C1016.1,1193.21 1016.1,1190.64 1019.2,1189.92 M1026.2,1189.92 C1029.3,1190.64 1029.3,1193.21 1029.3,1195.26 L1029.3,1202.25 Q1029.3,1204.3 1031.3,1204.3 L1039.2,1204.3 Q1041.3,1204.3 1041.3,1206.97 L1041.3,1215.39 C1041.3,1218.47 1042.7,1220.01 1044.3,1220.01 M1051.3,1220.01 C1052.9,1220.01 1054.3,1218.47 1054.3,1215.39 L1054.3,1206.97 Q1054.3,1204.3 1056.4,1204.3 L1064.3,1204.3 Q1066.3,1204.3 1066.3,1202.25 L1066.3,1195.26 C1066.3,1193.21 1066.3,1190.64 1069.4,1189.92 M1076.4,1189.92 C1079.5,1190.64 1079.5,1193.21 1079.5,1195.26 L1079.5,1202.25 Q1079.5,1204.3 1081.5,1204.3 L1089.4,1204.3 Q1091.5,1204.3 1091.5,1206.97 L1091.5,1215.39 C1091.5,1218.47 1092.9,1220.01 1094.5,1220.01 M1101.5,1220.01 C1103.1,1220.01 1104.5,1218.47 1104.5,1215.39 L1104.5,1206.97 Q1104.5,1204.3 1106.6,1204.3 L1114.5,1204.3 Q1116.5,1204.3 1116.5,1202.25 L1116.5,1195.26 C1116.5,1193.21 1116.5,1190.64 1119.6,1189.92 M1126.6,1189.92 C1129.7,1190.64 1129.7,1193.21 1129.7,1195.26 L1129.7,1202.25 Q1129.7,1204.3 1131.7,1204.3 L1139.6,1204.3 Q1141.7,1204.3 1141.7,1206.97 L1141.7,1215.39 C1141.7,1218.47 1143.1,1220.01 1144.7,1220.01 M1151.7,1220.01 C1153.3,1220.01 1154.7,1218.47 1154.7,1215.39 L1154.7,1206.97 Q1154.7,1204.3 1156.8,1204.3 L1164.7,1204.3 Q1166.7,1204.3 1166.7,1202.25 L1166.7,1195.26 C1166.7,1193.21 1166.7,1190.64 1169.8,1189.92 M1176.8,1189.92 C1179.9,1190.64 1179.9,1193.21 1179.9,1195.26 L1179.9,1202.25 Q1179.9,1204.3 1181.9,1204.3 L1189.8,1204.3 Q1191.9,1204.3 1191.9,1206.97 L1191.9,1215.39 C1191.9,1218.47 1193.3,1220.01 1194.9,1220.01 M1201.9,1220.01 C1203.5,1220.01 1204.9,1218.47 1204.9,1215.39 L1204.9,1206.97 Q1204.9,1204.3 1207,1204.3 L1214.9,1204.3 Q1216.9,1204.3 1216.9,1202.25 L1216.9,1195.26 C1216.9,1193.21 1216.9,1190.64 1220,1189.92" stroke="#7d7878" stroke-width="0.8" fill="none" />
<path d="M981.8,1205.53L988.3,1205.53 M1006.9,1205.53L1013.4,1205.53 M1032,1205.53L1038.5,1205.53 M1057.1,1205.53L1063.6,1205.53 M1082.2,1205.53L1088.7,1205.53 M1107.3,1205.53L1113.8,1205.53 M1132.4,1205.53L1138.9,1205.53 M1157.5,1205.53L1164,1205.53 M1182.6,1205.53L1189.1,1205.53 M1207.7,1205.53L1214.2,1205.53" stroke="#ea8f86" stroke-width="1.3" fill="none" />
<circle cx="972.5" cy="1189.1" r="3.9" fill="url(#gb)" />
<circle cx="972.5" cy="1181.5" r="2.5" fill="url(#gy)" />
<circle cx="997.6" cy="1219.5" r="3.9" fill="url(#gb)" />
<circle cx="997.6" cy="1211.9" r="2.5" fill="url(#gy)" />
<circle cx="1022.7" cy="1189.1" r="3.9" fill="url(#gb)" />
<circle cx="1022.7" cy="1181.5" r="2.5" fill="url(#gy)" />
<circle cx="1047.8" cy="1219.5" r="3.9" fill="url(#gb)" />
<circle cx="1047.8" cy="1211.9" r="2.5" fill="url(#gy)" />
<circle cx="1072.9" cy="1189.1" r="3.9" fill="url(#gb)" />
<circle cx="1072.9" cy="1181.5" r="2.5" fill="url(#gy)" />
<circle cx="1098" cy="1219.5" r="3.9" fill="url(#gb)" />
<circle cx="1098" cy="1211.9" r="2.5" fill="url(#gy)" />
<circle cx="1123.1" cy="1189.1" r="3.9" fill="url(#gb)" />
<circle cx="1123.1" cy="1181.5" r="2.5" fill="url(#gy)" />
<circle cx="1148.2" cy="1219.5" r="3.9" fill="url(#gb)" />
<circle cx="1148.2" cy="1211.9" r="2.5" fill="url(#gy)" />
<circle cx="1173.3" cy="1189.1" r="3.9" fill="url(#gb)" />
<circle cx="1173.3" cy="1181.5" r="2.5" fill="url(#gy)" />
<circle cx="1198.4" cy="1219.5" r="3.9" fill="url(#gb)" />
<circle cx="1198.4" cy="1211.9" r="2.5" fill="url(#gy)" />
<circle cx="1223.5" cy="1189.1" r="3.9" fill="url(#gb)" />
<circle cx="1223.5" cy="1181.5" r="2.5" fill="url(#gy)" />
<circle cx="959.7" cy="1239.1" r="4.8" fill="url(#ge)" />
<circle cx="973.42" cy="1239.1" r="4.8" fill="url(#ge)" />
<circle cx="987.14" cy="1239.1" r="4.8" fill="url(#ge)" />
<circle cx="1000.86" cy="1239.1" r="4.8" fill="url(#ge)" />
<circle cx="1014.58" cy="1239.1" r="4.8" fill="url(#ge)" />
<circle cx="1028.3" cy="1239.1" r="4.8" fill="url(#ge)" />
<circle cx="1042.02" cy="1239.1" r="4.8" fill="url(#ge)" />
<circle cx="1055.74" cy="1239.1" r="4.8" fill="url(#ge)" />
<circle cx="1069.46" cy="1239.1" r="4.8" fill="url(#ge)" />
<circle cx="1083.18" cy="1239.1" r="4.8" fill="url(#ge)" />
<circle cx="1096.9" cy="1239.1" r="4.8" fill="url(#ge)" />
<circle cx="1110.62" cy="1239.1" r="4.8" fill="url(#ge)" />
<circle cx="1124.34" cy="1239.1" r="4.8" fill="url(#ge)" />
<circle cx="1138.06" cy="1239.1" r="4.8" fill="url(#ge)" />
<circle cx="1151.78" cy="1239.1" r="4.8" fill="url(#ge)" />
<circle cx="1165.5" cy="1239.1" r="4.8" fill="url(#ge)" />
<circle cx="1179.22" cy="1239.1" r="4.8" fill="url(#ge)" />
<circle cx="1192.94" cy="1239.1" r="4.8" fill="url(#ge)" />
<circle cx="1206.66" cy="1239.1" r="4.8" fill="url(#ge)" />
<circle cx="1220.38" cy="1239.1" r="4.8" fill="url(#ge)" />
<circle cx="1234.1" cy="1239.1" r="4.8" fill="url(#ge)" />
<rect x="937.7" y="1135.5" width="4.3" height="19.4" fill="#757575" />
<rect x="925.2" y="1135.5" width="8.3" height="19.4" fill="#757575" />
<rect x="899.3" y="1135.5" width="21.5" height="19.4" fill="#757575" />
<polygon points="900.1,1125.8 858.7,1145.2 900.1,1164.4" fill="#757575" />
<text x="895" y="994.8" font-size="19" font-weight="bold" fill="#1414c8" text-anchor="start" textLength="57" lengthAdjust="spacing" >F=q·E</text>
<path d="M895.6,976.6h9.2m-2.6,-1.7l2.8,1.7l-2.8,1.7M940.6,976.6h10m-2.6,-1.7l2.8,1.7l-2.8,1.7" stroke="#1414c8" stroke-width="0.9" fill="none" />
<text x="1248.6" y="954.5" font-size="29" font-weight="bold" fill="#e0161e" text-anchor="start" textLength="19" lengthAdjust="spacing" >σ</text>
<text x="1270.2" y="960.6" font-size="12" font-weight="bold" fill="#e0161e" text-anchor="start" >e</text>
<text x="1246.8" y="1240.3" font-size="29" font-weight="bold" fill="#e0161e" text-anchor="start" textLength="19" lengthAdjust="spacing" >σ</text>
<text x="1268.6" y="1245.8" font-size="12" font-weight="bold" fill="#e0161e" text-anchor="start" >e</text>
<path d="M1287.1,935.4V959.6M1282,953.6L1287.1,960L1292.2,953.6" stroke="#e0161e" stroke-width="1.4" fill="none" />
<path d="M1285.2,1246.6V1221M1280.1,1227.2L1285.2,1220.8L1290.3,1227.2" stroke="#e0161e" stroke-width="1.4" fill="none" />
<text x="536.3" y="929" font-size="23" font-weight="bold" fill="#231f20" text-anchor="start" textLength="32.1" lengthAdjust="spacing" >(v)</text>
<text x="576.4" y="929" font-size="23" font-weight="bold" fill="#231f20" text-anchor="start" textLength="32" lengthAdjust="spacing" >UV</text>
<text x="622.6" y="929" font-size="23" font-weight="bold" fill="#231f20" text-anchor="start" textLength="29.2" lengthAdjust="spacing" >on</text>
<text x="661.1" y="929" font-size="23" font-weight="bold" fill="#231f20" text-anchor="start" textLength="43.8" lengthAdjust="spacing" >(t&gt;ε</text>
<path d="M709.4,921.8H730.4" stroke="#231f20" stroke-width="1.5" fill="none" />
<path d="M725.4,917.8l6,4l-6,4" stroke="#231f20" stroke-width="1.5" fill="none" stroke-linejoin="miter"/>
<text x="734.7" y="929" font-size="23" font-weight="bold" fill="#231f20" text-anchor="start" textLength="21.2" lengthAdjust="spacing" >0)</text>
<line x1="498.4" y1="957.3" x2="498.4" y2="1226.4" stroke="#dedee3" stroke-width="1" />
<line x1="767.5" y1="957.3" x2="767.5" y2="1226.4" stroke="#dedee3" stroke-width="1" />
<rect x="487.8" y="937.1" width="289.3" height="20.2" fill="#dcc5e4" />
<rect x="487.8" y="1226.4" width="289.3" height="19.5" fill="#c6dde7" />
<line x1="499.4" y1="1012.9" x2="764.5" y2="1012.9" stroke="#a9a4a8" stroke-width="1" stroke-dasharray="3 5.6"/>
<line x1="499.4" y1="1067" x2="764.5" y2="1067" stroke="#a9a4a8" stroke-width="1" stroke-dasharray="3 5.6"/>
<line x1="499.4" y1="1170.5" x2="764.5" y2="1170.5" stroke="#a9a4a8" stroke-width="1" stroke-dasharray="3 5.6"/>
<rect x="633.6" y="1089.6" width="2.4" height="2.4" fill="#5a5a5a" />
<rect x="633.6" y="1100.58" width="2.4" height="2.4" fill="#5a5a5a" />
<rect x="633.6" y="1111.56" width="2.4" height="2.4" fill="#5a5a5a" />
<rect x="633.6" y="1122.54" width="2.4" height="2.4" fill="#5a5a5a" />
<rect x="633.6" y="1133.52" width="2.4" height="2.4" fill="#5a5a5a" />
<rect x="633.6" y="1144.5" width="2.4" height="2.4" fill="#5a5a5a" />
<path d="M507.7,1001 C510,1000 510,997.5 510,995.5 L510,991.1 Q510,988.1 513,988.1 L519.9,988.1 Q522.9,988.1 522.9,991.1 L522.9,996.5 C522.9,999.5 524.2,1000.7 526.2,1001 M534.2,1001 C536.5,1000 536.5,997.5 536.5,995.5 L536.5,991.1 Q536.5,988.1 539.5,988.1 L546.4,988.1 Q549.4,988.1 549.4,991.1 L549.4,996.5 C549.4,999.5 550.7,1000.7 552.7,1001 M560.7,1001 C563,1000 563,997.5 563,995.5 L563,991.1 Q563,988.1 566,988.1 L572.9,988.1 Q575.9,988.1 575.9,991.1 L575.9,996.5 C575.9,999.5 577.2,1000.7 579.2,1001 M587.2,1001 C589.5,1000 589.5,997.5 589.5,995.5 L589.5,991.1 Q589.5,988.1 592.5,988.1 L599.4,988.1 Q602.4,988.1 602.4,991.1 L602.4,996.5 C602.4,999.5 603.7,1000.7 605.7,1001 M613.7,1001 C616,1000 616,997.5 616,995.5 L616,991.1 Q616,988.1 619,988.1 L625.9,988.1 Q628.9,988.1 628.9,991.1 L628.9,996.5 C628.9,999.5 630.2,1000.7 632.2,1001 M640.2,1001 C642.5,1000 642.5,997.5 642.5,995.5 L642.5,991.1 Q642.5,988.1 645.5,988.1 L652.4,988.1 Q655.4,988.1 655.4,991.1 L655.4,996.5 C655.4,999.5 656.7,1000.7 658.7,1001 M666.7,1001 C669,1000 669,997.5 669,995.5 L669,991.1 Q669,988.1 672,988.1 L678.9,988.1 Q681.9,988.1 681.9,991.1 L681.9,996.5 C681.9,999.5 683.2,1000.7 685.2,1001 M693.2,1001 C695.5,1000 695.5,997.5 695.5,995.5 L695.5,991.1 Q695.5,988.1 698.5,988.1 L705.4,988.1 Q708.4,988.1 708.4,991.1 L708.4,996.5 C708.4,999.5 709.7,1000.7 711.7,1001 M719.7,1001 C722,1000 722,997.5 722,995.5 L722,991.1 Q722,988.1 725,988.1 L731.9,988.1 Q734.9,988.1 734.9,991.1 L734.9,996.5 C734.9,999.5 736.2,1000.7 738.2,1001 M746.2,1001 C748.5,1000 748.5,997.5 748.5,995.5 L748.5,991.1 Q748.5,988.1 751.5,988.1 L758.4,988.1 Q761.4,988.1 761.4,991.1 L761.4,996.5 L761.4,998.5" stroke="#7d7878" stroke-width="0.8" fill="none" />
<path d="M513.3,985.9L519.3,985.9 M539.8,985.9L545.8,985.9 M566.3,985.9L572.3,985.9 M592.8,985.9L598.8,985.9 M619.3,985.9L625.3,985.9 M645.8,985.9L651.8,985.9 M672.3,985.9L678.3,985.9 M698.8,985.9L704.8,985.9 M725.3,985.9L731.3,985.9 M751.8,985.9L757.8,985.9" stroke="#ea8f86" stroke-width="1.3" fill="none" />
<circle cx="503.7" cy="1001.5" r="4.2" fill="url(#gb)" />
<circle cx="502.9" cy="993.7" r="2.3" fill="url(#gy)" />
<circle cx="530.2" cy="1001.5" r="4.2" fill="url(#gb)" />
<circle cx="529.4" cy="993.7" r="2.3" fill="url(#gy)" />
<circle cx="556.7" cy="1001.5" r="4.2" fill="url(#gb)" />
<circle cx="555.9" cy="993.7" r="2.3" fill="url(#gy)" />
<circle cx="583.2" cy="1001.5" r="4.2" fill="url(#gb)" />
<circle cx="582.4" cy="993.7" r="2.3" fill="url(#gy)" />
<circle cx="609.7" cy="1001.5" r="4.2" fill="url(#gb)" />
<circle cx="608.9" cy="993.7" r="2.3" fill="url(#gy)" />
<circle cx="636.2" cy="1001.5" r="4.2" fill="url(#gb)" />
<circle cx="635.4" cy="993.7" r="2.3" fill="url(#gy)" />
<circle cx="662.7" cy="1001.5" r="4.2" fill="url(#gb)" />
<circle cx="661.9" cy="993.7" r="2.3" fill="url(#gy)" />
<circle cx="689.2" cy="1001.5" r="4.2" fill="url(#gb)" />
<circle cx="688.4" cy="993.7" r="2.3" fill="url(#gy)" />
<circle cx="715.7" cy="1001.5" r="4.2" fill="url(#gb)" />
<circle cx="714.9" cy="993.7" r="2.3" fill="url(#gy)" />
<circle cx="742.2" cy="1001.5" r="4.2" fill="url(#gb)" />
<circle cx="741.4" cy="993.7" r="2.3" fill="url(#gy)" />
<path d="M509.42,1028.91 C512.55,1029.63 512.55,1032.17 512.55,1034.2 L512.55,1041.12 Q512.55,1043.15 514.56,1043.15 L522.52,1043.15 Q524.63,1043.15 524.63,1045.79 L524.63,1054.13 C524.63,1057.18 526.04,1058.71 527.65,1058.71 M534.7,1058.71 C536.31,1058.71 537.72,1057.18 537.72,1054.13 L537.72,1045.79 Q537.72,1043.15 539.83,1043.15 L547.79,1043.15 Q549.8,1043.15 549.8,1041.12 L549.8,1034.2 C549.8,1032.17 549.8,1029.63 552.93,1028.91 M559.97,1028.91 C563.1,1029.63 563.1,1032.17 563.1,1034.2 L563.1,1041.12 Q563.1,1043.15 565.11,1043.15 L573.07,1043.15 Q575.18,1043.15 575.18,1045.79 L575.18,1054.13 C575.18,1057.18 576.59,1058.71 578.2,1058.71 M585.25,1058.71 C586.86,1058.71 588.27,1057.18 588.27,1054.13 L588.27,1045.79 Q588.27,1043.15 590.38,1043.15 L598.34,1043.15 Q600.35,1043.15 600.35,1041.12 L600.35,1034.2 C600.35,1032.17 600.35,1029.63 603.48,1028.91 M610.52,1028.91 C613.65,1029.63 613.65,1032.17 613.65,1034.2 L613.65,1041.12 Q613.65,1043.15 615.66,1043.15 L623.62,1043.15 Q625.73,1043.15 625.73,1045.79 L625.73,1054.13 C625.73,1057.18 627.14,1058.71 628.75,1058.71 M635.8,1058.71 C637.41,1058.71 638.82,1057.18 638.82,1054.13 L638.82,1045.79 Q638.82,1043.15 640.93,1043.15 L648.89,1043.15 Q650.9,1043.15 650.9,1041.12 L650.9,1034.2 C650.9,1032.17 650.9,1029.63 654.03,1028.91 M661.07,1028.91 C664.2,1029.63 664.2,1032.17 664.2,1034.2 L664.2,1041.12 Q664.2,1043.15 666.21,1043.15 L674.17,1043.15 Q676.28,1043.15 676.28,1045.79 L676.28,1054.13 C676.28,1057.18 677.69,1058.71 679.3,1058.71 M686.35,1058.71 C687.96,1058.71 689.37,1057.18 689.37,1054.13 L689.37,1045.79 Q689.37,1043.15 691.48,1043.15 L699.44,1043.15 Q701.45,1043.15 701.45,1041.12 L701.45,1034.2 C701.45,1032.17 701.45,1029.63 704.58,1028.91 M711.62,1028.91 C714.75,1029.63 714.75,1032.17 714.75,1034.2 L714.75,1041.12 Q714.75,1043.15 716.76,1043.15 L724.72,1043.15 Q726.83,1043.15 726.83,1045.79 L726.83,1054.13 C726.83,1057.18 728.24,1058.71 729.85,1058.71 M736.9,1058.71 C738.51,1058.71 739.92,1057.18 739.92,1054.13 L739.92,1045.79 Q739.92,1043.15 742.03,1043.15 L749.99,1043.15 Q752,1043.15 752,1041.12 L752,1034.2 C752,1032.17 752,1029.63 755.13,1028.91" stroke="#7d7878" stroke-width="0.8" fill="none" />
<path d="M515.26,1044.37L521.81,1044.37 M540.54,1044.37L547.09,1044.37 M565.81,1044.37L572.36,1044.37 M591.09,1044.37L597.64,1044.37 M616.36,1044.37L622.91,1044.37 M641.64,1044.37L648.19,1044.37 M666.91,1044.37L673.46,1044.37 M692.19,1044.37L698.74,1044.37 M717.46,1044.37L724.01,1044.37 M742.74,1044.37L749.29,1044.37" stroke="#ea8f86" stroke-width="1.3" fill="none" />
<circle cx="505.9" cy="1028.1" r="3.9" fill="url(#gb)" />
<circle cx="505.9" cy="1020.5" r="2.5" fill="url(#gy)" />
<circle cx="531.17" cy="1058.2" r="3.9" fill="url(#gb)" />
<circle cx="531.17" cy="1050.6" r="2.5" fill="url(#gy)" />
<circle cx="556.45" cy="1028.1" r="3.9" fill="url(#gb)" />
<circle cx="556.45" cy="1020.5" r="2.5" fill="url(#gy)" />
<circle cx="581.72" cy="1058.2" r="3.9" fill="url(#gb)" />
<circle cx="581.72" cy="1050.6" r="2.5" fill="url(#gy)" />
<circle cx="607" cy="1028.1" r="3.9" fill="url(#gb)" />
<circle cx="607" cy="1020.5" r="2.5" fill="url(#gy)" />
<circle cx="632.27" cy="1058.2" r="3.9" fill="url(#gb)" />
<circle cx="632.27" cy="1050.6" r="2.5" fill="url(#gy)" />
<circle cx="657.55" cy="1028.1" r="3.9" fill="url(#gb)" />
<circle cx="657.55" cy="1020.5" r="2.5" fill="url(#gy)" />
<circle cx="682.82" cy="1058.2" r="3.9" fill="url(#gb)" />
<circle cx="682.82" cy="1050.6" r="2.5" fill="url(#gy)" />
<circle cx="708.1" cy="1028.1" r="3.9" fill="url(#gb)" />
<circle cx="708.1" cy="1020.5" r="2.5" fill="url(#gy)" />
<circle cx="733.37" cy="1058.2" r="3.9" fill="url(#gb)" />
<circle cx="733.37" cy="1050.6" r="2.5" fill="url(#gy)" />
<circle cx="758.65" cy="1028.1" r="3.9" fill="url(#gb)" />
<circle cx="758.65" cy="1020.5" r="2.5" fill="url(#gy)" />
<path d="M509.42,1189.31 C512.55,1190.03 512.55,1192.57 512.55,1194.6 L512.55,1201.52 Q512.55,1203.55 514.56,1203.55 L522.52,1203.55 Q524.63,1203.55 524.63,1206.19 L524.63,1214.53 C524.63,1217.58 526.04,1219.11 527.65,1219.11 M534.7,1219.11 C536.31,1219.11 537.72,1217.58 537.72,1214.53 L537.72,1206.19 Q537.72,1203.55 539.83,1203.55 L547.79,1203.55 Q549.8,1203.55 549.8,1201.52 L549.8,1194.6 C549.8,1192.57 549.8,1190.03 552.93,1189.31 M559.97,1189.31 C563.1,1190.03 563.1,1192.57 563.1,1194.6 L563.1,1201.52 Q563.1,1203.55 565.11,1203.55 L573.07,1203.55 Q575.18,1203.55 575.18,1206.19 L575.18,1214.53 C575.18,1217.58 576.59,1219.11 578.2,1219.11 M585.25,1219.11 C586.86,1219.11 588.27,1217.58 588.27,1214.53 L588.27,1206.19 Q588.27,1203.55 590.38,1203.55 L598.34,1203.55 Q600.35,1203.55 600.35,1201.52 L600.35,1194.6 C600.35,1192.57 600.35,1190.03 603.48,1189.31 M610.52,1189.31 C613.65,1190.03 613.65,1192.57 613.65,1194.6 L613.65,1201.52 Q613.65,1203.55 615.66,1203.55 L623.62,1203.55 Q625.73,1203.55 625.73,1206.19 L625.73,1214.53 C625.73,1217.58 627.14,1219.11 628.75,1219.11 M635.8,1219.11 C637.41,1219.11 638.82,1217.58 638.82,1214.53 L638.82,1206.19 Q638.82,1203.55 640.93,1203.55 L648.89,1203.55 Q650.9,1203.55 650.9,1201.52 L650.9,1194.6 C650.9,1192.57 650.9,1190.03 654.03,1189.31 M661.07,1189.31 C664.2,1190.03 664.2,1192.57 664.2,1194.6 L664.2,1201.52 Q664.2,1203.55 666.21,1203.55 L674.17,1203.55 Q676.28,1203.55 676.28,1206.19 L676.28,1214.53 C676.28,1217.58 677.69,1219.11 679.3,1219.11 M686.35,1219.11 C687.96,1219.11 689.37,1217.58 689.37,1214.53 L689.37,1206.19 Q689.37,1203.55 691.48,1203.55 L699.44,1203.55 Q701.45,1203.55 701.45,1201.52 L701.45,1194.6 C701.45,1192.57 701.45,1190.03 704.58,1189.31 M711.62,1189.31 C714.75,1190.03 714.75,1192.57 714.75,1194.6 L714.75,1201.52 Q714.75,1203.55 716.76,1203.55 L724.72,1203.55 Q726.83,1203.55 726.83,1206.19 L726.83,1214.53 C726.83,1217.58 728.24,1219.11 729.85,1219.11 M736.9,1219.11 C738.51,1219.11 739.92,1217.58 739.92,1214.53 L739.92,1206.19 Q739.92,1203.55 742.03,1203.55 L749.99,1203.55 Q752,1203.55 752,1201.52 L752,1194.6 C752,1192.57 752,1190.03 755.13,1189.31" stroke="#7d7878" stroke-width="0.8" fill="none" />
<path d="M515.26,1204.77L521.81,1204.77 M540.54,1204.77L547.09,1204.77 M565.81,1204.77L572.36,1204.77 M591.09,1204.77L597.64,1204.77 M616.36,1204.77L622.91,1204.77 M641.64,1204.77L648.19,1204.77 M666.91,1204.77L673.46,1204.77 M692.19,1204.77L698.74,1204.77 M717.46,1204.77L724.01,1204.77 M742.74,1204.77L749.29,1204.77" stroke="#ea8f86" stroke-width="1.3" fill="none" />
<circle cx="505.9" cy="1188.5" r="3.9" fill="url(#gb)" />
<circle cx="505.9" cy="1180.9" r="2.5" fill="url(#gy)" />
<circle cx="531.17" cy="1218.6" r="3.9" fill="url(#gb)" />
<circle cx="531.17" cy="1211" r="2.5" fill="url(#gy)" />
<circle cx="556.45" cy="1188.5" r="3.9" fill="url(#gb)" />
<circle cx="556.45" cy="1180.9" r="2.5" fill="url(#gy)" />
<circle cx="581.72" cy="1218.6" r="3.9" fill="url(#gb)" />
<circle cx="581.72" cy="1211" r="2.5" fill="url(#gy)" />
<circle cx="607" cy="1188.5" r="3.9" fill="url(#gb)" />
<circle cx="607" cy="1180.9" r="2.5" fill="url(#gy)" />
<circle cx="632.27" cy="1218.6" r="3.9" fill="url(#gb)" />
<circle cx="632.27" cy="1211" r="2.5" fill="url(#gy)" />
<circle cx="657.55" cy="1188.5" r="3.9" fill="url(#gb)" />
<circle cx="657.55" cy="1180.9" r="2.5" fill="url(#gy)" />
<circle cx="682.82" cy="1218.6" r="3.9" fill="url(#gb)" />
<circle cx="682.82" cy="1211" r="2.5" fill="url(#gy)" />
<circle cx="708.1" cy="1188.5" r="3.9" fill="url(#gb)" />
<circle cx="708.1" cy="1180.9" r="2.5" fill="url(#gy)" />
<circle cx="733.37" cy="1218.6" r="3.9" fill="url(#gb)" />
<circle cx="733.37" cy="1211" r="2.5" fill="url(#gy)" />
<circle cx="758.65" cy="1188.5" r="3.9" fill="url(#gb)" />
<circle cx="758.65" cy="1180.9" r="2.5" fill="url(#gy)" />
<circle cx="528.5" cy="944.5" r="4.8" fill="url(#ge)" />
<circle cx="631.6" cy="944.5" r="4.8" fill="url(#ge)" />
<circle cx="735" cy="944.5" r="4.8" fill="url(#ge)" />
<circle cx="493.1" cy="1238" r="4.8" fill="url(#ge)" />
<circle cx="520.65" cy="1238" r="4.8" fill="url(#ge)" />
<circle cx="548.2" cy="1238" r="4.8" fill="url(#ge)" />
<circle cx="575.75" cy="1238" r="4.8" fill="url(#ge)" />
<circle cx="603.3" cy="1238" r="4.8" fill="url(#ge)" />
<circle cx="630.85" cy="1238" r="4.8" fill="url(#ge)" />
<circle cx="658.4" cy="1238" r="4.8" fill="url(#ge)" />
<circle cx="685.95" cy="1238" r="4.8" fill="url(#ge)" />
<circle cx="713.5" cy="1238" r="4.8" fill="url(#ge)" />
<circle cx="741.05" cy="1238" r="4.8" fill="url(#ge)" />
<circle cx="768.6" cy="1238" r="4.8" fill="url(#ge)" />
<path d="M777.1,950.2H818.2V1238.1H777.1" stroke="#231f20" stroke-width="3.6" fill="none" />
<circle cx="818.2" cy="1028.1" r="7" fill="url(#ge2)" />
<circle cx="818.2" cy="1181" r="7" fill="url(#ge2)" />
<circle cx="818.2" cy="1220" r="7" fill="url(#ge2)" />
<path d="M818.2,985.6 L803,1016.1 Q818.2,1006.34 833.4,1016.1 Z" stroke="none" stroke-width="0" fill="#231f20" />
<path d="M818.2,1134.3 L803,1164.8 Q818.2,1155.04 833.4,1164.8 Z" stroke="none" stroke-width="0" fill="#231f20" />
<circle cx="815.4" cy="1083" r="19.2" fill="#fff" stroke="#231f20" stroke-width="3"/>
<line x1="826.87" y1="1092.63" x2="811.51" y2="1079.74" stroke="#e2001a" stroke-width="2.69" />
<polygon points="803.93,1073.37 817.49,1075.73 811.28,1079.54 808.6,1086.32" fill="#e2001a" />
<text x="828.8" y="1206.2" font-size="23" font-weight="bold" fill="#231f20" text-anchor="start" textLength="52" lengthAdjust="spacing" >drift</text>
<rect x="466.2" y="1135.9" width="4.3" height="19.4" fill="#757575" />
<rect x="453.7" y="1135.9" width="8.3" height="19.4" fill="#757575" />
<rect x="427.8" y="1135.9" width="21.5" height="19.4" fill="#757575" />
<polygon points="428.6,1126.2 387.2,1145.6 428.6,1164.8" fill="#757575" />
<text x="54.7" y="931.6" font-size="23" font-weight="bold" fill="#231f20" text-anchor="start" textLength="40.1" lengthAdjust="spacing" >(vi)</text>
<text x="102.8" y="931.6" font-size="23" font-weight="bold" fill="#231f20" text-anchor="start" textLength="32" lengthAdjust="spacing" >UV</text>
<text x="149" y="931.6" font-size="23" font-weight="bold" fill="#231f20" text-anchor="start" textLength="29.2" lengthAdjust="spacing" >on</text>
<text x="187.5" y="931.6" font-size="23" font-weight="bold" fill="#231f20" text-anchor="start" textLength="43.8" lengthAdjust="spacing" >(t&gt;ε</text>
<path d="M235.8,924.4H256.8" stroke="#231f20" stroke-width="1.5" fill="none" />
<path d="M251.8,920.4l6,4l-6,4" stroke="#231f20" stroke-width="1.5" fill="none" stroke-linejoin="miter"/>
<text x="261.1" y="931.6" font-size="23" font-weight="bold" fill="#231f20" text-anchor="start" textLength="21.2" lengthAdjust="spacing" >0)</text>
<line x1="34.6" y1="959.3" x2="34.6" y2="1227.7" stroke="#dedee3" stroke-width="1" />
<line x1="303" y1="959.3" x2="303" y2="1227.7" stroke="#dedee3" stroke-width="1" />
<rect x="24.2" y="939.5" width="289.3" height="19.8" fill="#dcc5e4" />
<rect x="24.2" y="1227.7" width="289.3" height="20.1" fill="#c6dde7" />
<line x1="35.6" y1="1014" x2="300" y2="1014" stroke="#a9a4a8" stroke-width="1" stroke-dasharray="3 5.6"/>
<line x1="35.6" y1="1070.5" x2="300" y2="1070.5" stroke="#a9a4a8" stroke-width="1" stroke-dasharray="3 5.6"/>
<line x1="35.6" y1="1172.3" x2="300" y2="1172.3" stroke="#a9a4a8" stroke-width="1" stroke-dasharray="3 5.6"/>
<rect x="166.8" y="1097.3" width="2.4" height="2.4" fill="#5a5a5a" />
<rect x="166.8" y="1108.26" width="2.4" height="2.4" fill="#5a5a5a" />
<rect x="166.8" y="1119.22" width="2.4" height="2.4" fill="#5a5a5a" />
<rect x="166.8" y="1130.18" width="2.4" height="2.4" fill="#5a5a5a" />
<rect x="166.8" y="1141.14" width="2.4" height="2.4" fill="#5a5a5a" />
<rect x="166.8" y="1152.1" width="2.4" height="2.4" fill="#5a5a5a" />
<path d="M44.9,1002.1 C47.2,1001.1 47.2,998.6 47.2,996.6 L47.2,992.2 Q47.2,989.2 50.2,989.2 L57.1,989.2 Q60.1,989.2 60.1,992.2 L60.1,997.6 C60.1,1000.6 61.4,1001.8 63.4,1002.1 M71.4,1002.1 C73.7,1001.1 73.7,998.6 73.7,996.6 L73.7,992.2 Q73.7,989.2 76.7,989.2 L83.6,989.2 Q86.6,989.2 86.6,992.2 L86.6,997.6 C86.6,1000.6 87.9,1001.8 89.9,1002.1 M97.9,1002.1 C100.2,1001.1 100.2,998.6 100.2,996.6 L100.2,992.2 Q100.2,989.2 103.2,989.2 L110.1,989.2 Q113.1,989.2 113.1,992.2 L113.1,997.6 C113.1,1000.6 114.4,1001.8 116.4,1002.1 M124.4,1002.1 C126.7,1001.1 126.7,998.6 126.7,996.6 L126.7,992.2 Q126.7,989.2 129.7,989.2 L136.6,989.2 Q139.6,989.2 139.6,992.2 L139.6,997.6 C139.6,1000.6 140.9,1001.8 142.9,1002.1 M150.9,1002.1 C153.2,1001.1 153.2,998.6 153.2,996.6 L153.2,992.2 Q153.2,989.2 156.2,989.2 L163.1,989.2 Q166.1,989.2 166.1,992.2 L166.1,997.6 C166.1,1000.6 167.4,1001.8 169.4,1002.1 M177.4,1002.1 C179.7,1001.1 179.7,998.6 179.7,996.6 L179.7,992.2 Q179.7,989.2 182.7,989.2 L189.6,989.2 Q192.6,989.2 192.6,992.2 L192.6,997.6 C192.6,1000.6 193.9,1001.8 195.9,1002.1 M203.9,1002.1 C206.2,1001.1 206.2,998.6 206.2,996.6 L206.2,992.2 Q206.2,989.2 209.2,989.2 L216.1,989.2 Q219.1,989.2 219.1,992.2 L219.1,997.6 C219.1,1000.6 220.4,1001.8 222.4,1002.1 M230.4,1002.1 C232.7,1001.1 232.7,998.6 232.7,996.6 L232.7,992.2 Q232.7,989.2 235.7,989.2 L242.6,989.2 Q245.6,989.2 245.6,992.2 L245.6,997.6 C245.6,1000.6 246.9,1001.8 248.9,1002.1 M256.9,1002.1 C259.2,1001.1 259.2,998.6 259.2,996.6 L259.2,992.2 Q259.2,989.2 262.2,989.2 L269.1,989.2 Q272.1,989.2 272.1,992.2 L272.1,997.6 C272.1,1000.6 273.4,1001.8 275.4,1002.1 M283.4,1002.1 C285.7,1001.1 285.7,998.6 285.7,996.6 L285.7,992.2 Q285.7,989.2 288.7,989.2 L295.6,989.2 Q298.6,989.2 298.6,992.2 L298.6,997.6 L298.6,999.6" stroke="#7d7878" stroke-width="0.8" fill="none" />
<path d="M50.5,987L56.5,987 M77,987L83,987 M103.5,987L109.5,987 M130,987L136,987 M156.5,987L162.5,987 M183,987L189,987 M209.5,987L215.5,987 M236,987L242,987 M262.5,987L268.5,987 M289,987L295,987" stroke="#ea8f86" stroke-width="1.3" fill="none" />
<circle cx="40.9" cy="1002.6" r="4.2" fill="url(#gb)" />
<circle cx="40.1" cy="994.8" r="2.3" fill="url(#gy)" />
<circle cx="67.4" cy="1002.6" r="4.2" fill="url(#gb)" />
<circle cx="66.6" cy="994.8" r="2.3" fill="url(#gy)" />
<circle cx="93.9" cy="1002.6" r="4.2" fill="url(#gb)" />
<circle cx="93.1" cy="994.8" r="2.3" fill="url(#gy)" />
<circle cx="120.4" cy="1002.6" r="4.2" fill="url(#gb)" />
<circle cx="119.6" cy="994.8" r="2.3" fill="url(#gy)" />
<circle cx="146.9" cy="1002.6" r="4.2" fill="url(#gb)" />
<circle cx="146.1" cy="994.8" r="2.3" fill="url(#gy)" />
<circle cx="173.4" cy="1002.6" r="4.2" fill="url(#gb)" />
<circle cx="172.6" cy="994.8" r="2.3" fill="url(#gy)" />
<circle cx="199.9" cy="1002.6" r="4.2" fill="url(#gb)" />
<circle cx="199.1" cy="994.8" r="2.3" fill="url(#gy)" />
<circle cx="226.4" cy="1002.6" r="4.2" fill="url(#gb)" />
<circle cx="225.6" cy="994.8" r="2.3" fill="url(#gy)" />
<circle cx="252.9" cy="1002.6" r="4.2" fill="url(#gb)" />
<circle cx="252.1" cy="994.8" r="2.3" fill="url(#gy)" />
<circle cx="279.4" cy="1002.6" r="4.2" fill="url(#gb)" />
<circle cx="278.6" cy="994.8" r="2.3" fill="url(#gy)" />
<path d="M44.9,1061 C47.2,1060 47.2,1057.5 47.2,1055.5 L47.2,1051.1 Q47.2,1048.1 50.2,1048.1 L57.1,1048.1 Q60.1,1048.1 60.1,1051.1 L60.1,1056.5 C60.1,1059.5 61.4,1060.7 63.4,1061 M71.4,1061 C73.7,1060 73.7,1057.5 73.7,1055.5 L73.7,1051.1 Q73.7,1048.1 76.7,1048.1 L83.6,1048.1 Q86.6,1048.1 86.6,1051.1 L86.6,1056.5 C86.6,1059.5 87.9,1060.7 89.9,1061 M97.9,1061 C100.2,1060 100.2,1057.5 100.2,1055.5 L100.2,1051.1 Q100.2,1048.1 103.2,1048.1 L110.1,1048.1 Q113.1,1048.1 113.1,1051.1 L113.1,1056.5 C113.1,1059.5 114.4,1060.7 116.4,1061 M124.4,1061 C126.7,1060 126.7,1057.5 126.7,1055.5 L126.7,1051.1 Q126.7,1048.1 129.7,1048.1 L136.6,1048.1 Q139.6,1048.1 139.6,1051.1 L139.6,1056.5 C139.6,1059.5 140.9,1060.7 142.9,1061 M150.9,1061 C153.2,1060 153.2,1057.5 153.2,1055.5 L153.2,1051.1 Q153.2,1048.1 156.2,1048.1 L163.1,1048.1 Q166.1,1048.1 166.1,1051.1 L166.1,1056.5 C166.1,1059.5 167.4,1060.7 169.4,1061 M177.4,1061 C179.7,1060 179.7,1057.5 179.7,1055.5 L179.7,1051.1 Q179.7,1048.1 182.7,1048.1 L189.6,1048.1 Q192.6,1048.1 192.6,1051.1 L192.6,1056.5 C192.6,1059.5 193.9,1060.7 195.9,1061 M203.9,1061 C206.2,1060 206.2,1057.5 206.2,1055.5 L206.2,1051.1 Q206.2,1048.1 209.2,1048.1 L216.1,1048.1 Q219.1,1048.1 219.1,1051.1 L219.1,1056.5 C219.1,1059.5 220.4,1060.7 222.4,1061 M230.4,1061 C232.7,1060 232.7,1057.5 232.7,1055.5 L232.7,1051.1 Q232.7,1048.1 235.7,1048.1 L242.6,1048.1 Q245.6,1048.1 245.6,1051.1 L245.6,1056.5 C245.6,1059.5 246.9,1060.7 248.9,1061 M256.9,1061 C259.2,1060 259.2,1057.5 259.2,1055.5 L259.2,1051.1 Q259.2,1048.1 262.2,1048.1 L269.1,1048.1 Q272.1,1048.1 272.1,1051.1 L272.1,1056.5 C272.1,1059.5 273.4,1060.7 275.4,1061 M283.4,1061 C285.7,1060 285.7,1057.5 285.7,1055.5 L285.7,1051.1 Q285.7,1048.1 288.7,1048.1 L295.6,1048.1 Q298.6,1048.1 298.6,1051.1 L298.6,1056.5 L298.6,1058.5" stroke="#7d7878" stroke-width="0.8" fill="none" />
<path d="M50.5,1045.9L56.5,1045.9 M77,1045.9L83,1045.9 M103.5,1045.9L109.5,1045.9 M130,1045.9L136,1045.9 M156.5,1045.9L162.5,1045.9 M183,1045.9L189,1045.9 M209.5,1045.9L215.5,1045.9 M236,1045.9L242,1045.9 M262.5,1045.9L268.5,1045.9 M289,1045.9L295,1045.9" stroke="#ea8f86" stroke-width="1.3" fill="none" />
<circle cx="40.9" cy="1061.5" r="4.2" fill="url(#gb)" />
<circle cx="40.9" cy="1024.5" r="2.6" fill="url(#gy)" />
<line x1="40.9" y1="1057.5" x2="40.9" y2="1035.5" stroke="#e2001a" stroke-width="1.5" />
<polygon points="40.9,1028.2 37.3,1036.5 40.9,1034.9 44.5,1036.5" fill="#e2001a" />
<text x="47.9" y="1038.1" font-size="14" font-weight="bold" fill="#e2001a" text-anchor="start" textLength="9">E</text>
<path d="M48.3,1025.5h8.4m-2.4,-1.6l2.6,1.6l-2.6,1.6" stroke="#e2001a" stroke-width="0.8" fill="none" />
<circle cx="67.4" cy="1061.5" r="4.2" fill="url(#gb)" />
<circle cx="67.4" cy="1053.3" r="2.3" fill="url(#gy)" />
<circle cx="93.9" cy="1061.5" r="4.2" fill="url(#gb)" />
<circle cx="93.9" cy="1024.5" r="2.6" fill="url(#gy)" />
<line x1="93.9" y1="1057.5" x2="93.9" y2="1035.5" stroke="#e2001a" stroke-width="1.5" />
<polygon points="93.9,1028.2 90.3,1036.5 93.9,1034.9 97.5,1036.5" fill="#e2001a" />
<text x="100.9" y="1038.1" font-size="14" font-weight="bold" fill="#e2001a" text-anchor="start" textLength="9">E</text>
<path d="M101.3,1025.5h8.4m-2.4,-1.6l2.6,1.6l-2.6,1.6" stroke="#e2001a" stroke-width="0.8" fill="none" />
<circle cx="120.4" cy="1061.5" r="4.2" fill="url(#gb)" />
<circle cx="120.4" cy="1053.3" r="2.3" fill="url(#gy)" />
<circle cx="146.9" cy="1061.5" r="4.2" fill="url(#gb)" />
<circle cx="146.9" cy="1024.5" r="2.6" fill="url(#gy)" />
<line x1="146.9" y1="1057.5" x2="146.9" y2="1035.5" stroke="#e2001a" stroke-width="1.5" />
<polygon points="146.9,1028.2 143.3,1036.5 146.9,1034.9 150.5,1036.5" fill="#e2001a" />
<text x="153.9" y="1038.1" font-size="14" font-weight="bold" fill="#e2001a" text-anchor="start" textLength="9">E</text>
<path d="M154.3,1025.5h8.4m-2.4,-1.6l2.6,1.6l-2.6,1.6" stroke="#e2001a" stroke-width="0.8" fill="none" />
<circle cx="173.4" cy="1061.5" r="4.2" fill="url(#gb)" />
<circle cx="173.4" cy="1053.3" r="2.3" fill="url(#gy)" />
<circle cx="199.9" cy="1061.5" r="4.2" fill="url(#gb)" />
<circle cx="199.9" cy="1024.5" r="2.6" fill="url(#gy)" />
<line x1="199.9" y1="1057.5" x2="199.9" y2="1035.5" stroke="#e2001a" stroke-width="1.5" />
<polygon points="199.9,1028.2 196.3,1036.5 199.9,1034.9 203.5,1036.5" fill="#e2001a" />
<text x="206.9" y="1038.1" font-size="14" font-weight="bold" fill="#e2001a" text-anchor="start" textLength="9">E</text>
<path d="M207.3,1025.5h8.4m-2.4,-1.6l2.6,1.6l-2.6,1.6" stroke="#e2001a" stroke-width="0.8" fill="none" />
<circle cx="226.4" cy="1061.5" r="4.2" fill="url(#gb)" />
<circle cx="226.4" cy="1053.3" r="2.3" fill="url(#gy)" />
<circle cx="252.9" cy="1061.5" r="4.2" fill="url(#gb)" />
<circle cx="252.9" cy="1024.5" r="2.6" fill="url(#gy)" />
<line x1="252.9" y1="1057.5" x2="252.9" y2="1035.5" stroke="#e2001a" stroke-width="1.5" />
<polygon points="252.9,1028.2 249.3,1036.5 252.9,1034.9 256.5,1036.5" fill="#e2001a" />
<text x="259.9" y="1038.1" font-size="14" font-weight="bold" fill="#e2001a" text-anchor="start" textLength="9">E</text>
<path d="M260.3,1025.5h8.4m-2.4,-1.6l2.6,1.6l-2.6,1.6" stroke="#e2001a" stroke-width="0.8" fill="none" />
<circle cx="279.4" cy="1061.5" r="4.2" fill="url(#gb)" />
<circle cx="279.4" cy="1053.3" r="2.3" fill="url(#gy)" />
<path d="M46.8,1190.39 C49.9,1191.09 49.9,1193.57 49.9,1195.56 L49.9,1202.31 Q49.9,1204.3 51.9,1204.3 L59.8,1204.3 Q61.9,1204.3 61.9,1206.88 L61.9,1215.03 C61.9,1218.01 63.3,1219.5 64.9,1219.5 M71.9,1219.5 C73.5,1219.5 74.9,1218.01 74.9,1215.03 L74.9,1206.88 Q74.9,1204.3 77,1204.3 L84.9,1204.3 Q86.9,1204.3 86.9,1202.31 L86.9,1195.56 C86.9,1193.57 86.9,1191.09 90,1190.39 M97,1190.39 C100.1,1191.09 100.1,1193.57 100.1,1195.56 L100.1,1202.31 Q100.1,1204.3 102.1,1204.3 L110,1204.3 Q112.1,1204.3 112.1,1206.88 L112.1,1215.03 C112.1,1218.01 113.5,1219.5 115.1,1219.5 M122.1,1219.5 C123.7,1219.5 125.1,1218.01 125.1,1215.03 L125.1,1206.88 Q125.1,1204.3 127.2,1204.3 L135.1,1204.3 Q137.1,1204.3 137.1,1202.31 L137.1,1195.56 C137.1,1193.57 137.1,1191.09 140.2,1190.39 M147.2,1190.39 C150.3,1191.09 150.3,1193.57 150.3,1195.56 L150.3,1202.31 Q150.3,1204.3 152.3,1204.3 L160.2,1204.3 Q162.3,1204.3 162.3,1206.88 L162.3,1215.03 C162.3,1218.01 163.7,1219.5 165.3,1219.5 M172.3,1219.5 C173.9,1219.5 175.3,1218.01 175.3,1215.03 L175.3,1206.88 Q175.3,1204.3 177.4,1204.3 L185.3,1204.3 Q187.3,1204.3 187.3,1202.31 L187.3,1195.56 C187.3,1193.57 187.3,1191.09 190.4,1190.39 M197.4,1190.39 C200.5,1191.09 200.5,1193.57 200.5,1195.56 L200.5,1202.31 Q200.5,1204.3 202.5,1204.3 L210.4,1204.3 Q212.5,1204.3 212.5,1206.88 L212.5,1215.03 C212.5,1218.01 213.9,1219.5 215.5,1219.5 M222.5,1219.5 C224.1,1219.5 225.5,1218.01 225.5,1215.03 L225.5,1206.88 Q225.5,1204.3 227.6,1204.3 L235.5,1204.3 Q237.5,1204.3 237.5,1202.31 L237.5,1195.56 C237.5,1193.57 237.5,1191.09 240.6,1190.39 M247.6,1190.39 C250.7,1191.09 250.7,1193.57 250.7,1195.56 L250.7,1202.31 Q250.7,1204.3 252.7,1204.3 L260.6,1204.3 Q262.7,1204.3 262.7,1206.88 L262.7,1215.03 C262.7,1218.01 264.1,1219.5 265.7,1219.5 M272.7,1219.5 C274.3,1219.5 275.7,1218.01 275.7,1215.03 L275.7,1206.88 Q275.7,1204.3 277.8,1204.3 L285.7,1204.3 Q287.7,1204.3 287.7,1202.31 L287.7,1195.56 C287.7,1193.57 287.7,1191.09 290.8,1190.39" stroke="#7d7878" stroke-width="0.8" fill="none" />
<path d="M52.6,1205.49L59.1,1205.49 M77.7,1205.49L84.2,1205.49 M102.8,1205.49L109.3,1205.49 M127.9,1205.49L134.4,1205.49 M153,1205.49L159.5,1205.49 M178.1,1205.49L184.6,1205.49 M203.2,1205.49L209.7,1205.49 M228.3,1205.49L234.8,1205.49 M253.4,1205.49L259.9,1205.49 M278.5,1205.49L285,1205.49" stroke="#ea8f86" stroke-width="1.3" fill="none" />
<circle cx="43.3" cy="1189.6" r="3.9" fill="url(#gb)" />
<circle cx="43.3" cy="1182" r="2.5" fill="url(#gy)" />
<circle cx="68.4" cy="1219" r="3.9" fill="url(#gb)" />
<circle cx="68.4" cy="1211.4" r="2.5" fill="url(#gy)" />
<circle cx="93.5" cy="1189.6" r="3.9" fill="url(#gb)" />
<circle cx="93.5" cy="1182" r="2.5" fill="url(#gy)" />
<circle cx="118.6" cy="1219" r="3.9" fill="url(#gb)" />
<circle cx="118.6" cy="1211.4" r="2.5" fill="url(#gy)" />
<circle cx="143.7" cy="1189.6" r="3.9" fill="url(#gb)" />
<circle cx="143.7" cy="1182" r="2.5" fill="url(#gy)" />
<circle cx="168.8" cy="1219" r="3.9" fill="url(#gb)" />
<circle cx="168.8" cy="1211.4" r="2.5" fill="url(#gy)" />
<circle cx="193.9" cy="1189.6" r="3.9" fill="url(#gb)" />
<circle cx="193.9" cy="1182" r="2.5" fill="url(#gy)" />
<circle cx="219" cy="1219" r="3.9" fill="url(#gb)" />
<circle cx="219" cy="1211.4" r="2.5" fill="url(#gy)" />
<circle cx="244.1" cy="1189.6" r="3.9" fill="url(#gb)" />
<circle cx="244.1" cy="1182" r="2.5" fill="url(#gy)" />
<circle cx="269.2" cy="1219" r="3.9" fill="url(#gb)" />
<circle cx="269.2" cy="1211.4" r="2.5" fill="url(#gy)" />
<circle cx="294.3" cy="1189.6" r="3.9" fill="url(#gb)" />
<circle cx="294.3" cy="1182" r="2.5" fill="url(#gy)" />
<circle cx="30" cy="947.2" r="4.8" fill="url(#ge)" />
<circle cx="43.77" cy="947.2" r="4.8" fill="url(#ge)" />
<circle cx="57.55" cy="947.2" r="4.8" fill="url(#ge)" />
<circle cx="71.33" cy="947.2" r="4.8" fill="url(#ge)" />
<circle cx="85.1" cy="947.2" r="4.8" fill="url(#ge)" />
<circle cx="98.88" cy="947.2" r="4.8" fill="url(#ge)" />
<circle cx="112.65" cy="947.2" r="4.8" fill="url(#ge)" />
<circle cx="126.42" cy="947.2" r="4.8" fill="url(#ge)" />
<circle cx="140.2" cy="947.2" r="4.8" fill="url(#ge)" />
<circle cx="153.97" cy="947.2" r="4.8" fill="url(#ge)" />
<circle cx="167.75" cy="947.2" r="4.8" fill="url(#ge)" />
<circle cx="181.53" cy="947.2" r="4.8" fill="url(#ge)" />
<circle cx="195.3" cy="947.2" r="4.8" fill="url(#ge)" />
<circle cx="209.07" cy="947.2" r="4.8" fill="url(#ge)" />
<circle cx="222.85" cy="947.2" r="4.8" fill="url(#ge)" />
<circle cx="236.62" cy="947.2" r="4.8" fill="url(#ge)" />
<circle cx="250.4" cy="947.2" r="4.8" fill="url(#ge)" />
<circle cx="264.18" cy="947.2" r="4.8" fill="url(#ge)" />
<circle cx="277.95" cy="947.2" r="4.8" fill="url(#ge)" />
<circle cx="291.73" cy="947.2" r="4.8" fill="url(#ge)" />
<circle cx="305.5" cy="947.2" r="4.8" fill="url(#ge)" />
<path d="M313.5,949.6H355V1235.7H313.5" stroke="#231f20" stroke-width="3.6" fill="none" />
<path d="M354.3,1024.6 L339.3,995.6 Q354.3,1004.88 369.3,995.6 Z" stroke="none" stroke-width="0" fill="#231f20" />
<path d="M354.3,1178 L339.3,1148 Q354.3,1157.6 369.3,1148 Z" stroke="none" stroke-width="0" fill="#231f20" />
<circle cx="351.6" cy="1081.5" r="19.2" fill="#fff" stroke="#231f20" stroke-width="3"/>
<line x1="340.13" y1="1091.13" x2="355.49" y2="1078.24" stroke="#e2001a" stroke-width="2.69" />
<polygon points="363.07,1071.87 358.4,1084.82 355.72,1078.04 349.51,1074.23" fill="#e2001a" />
</svg></body></html>
